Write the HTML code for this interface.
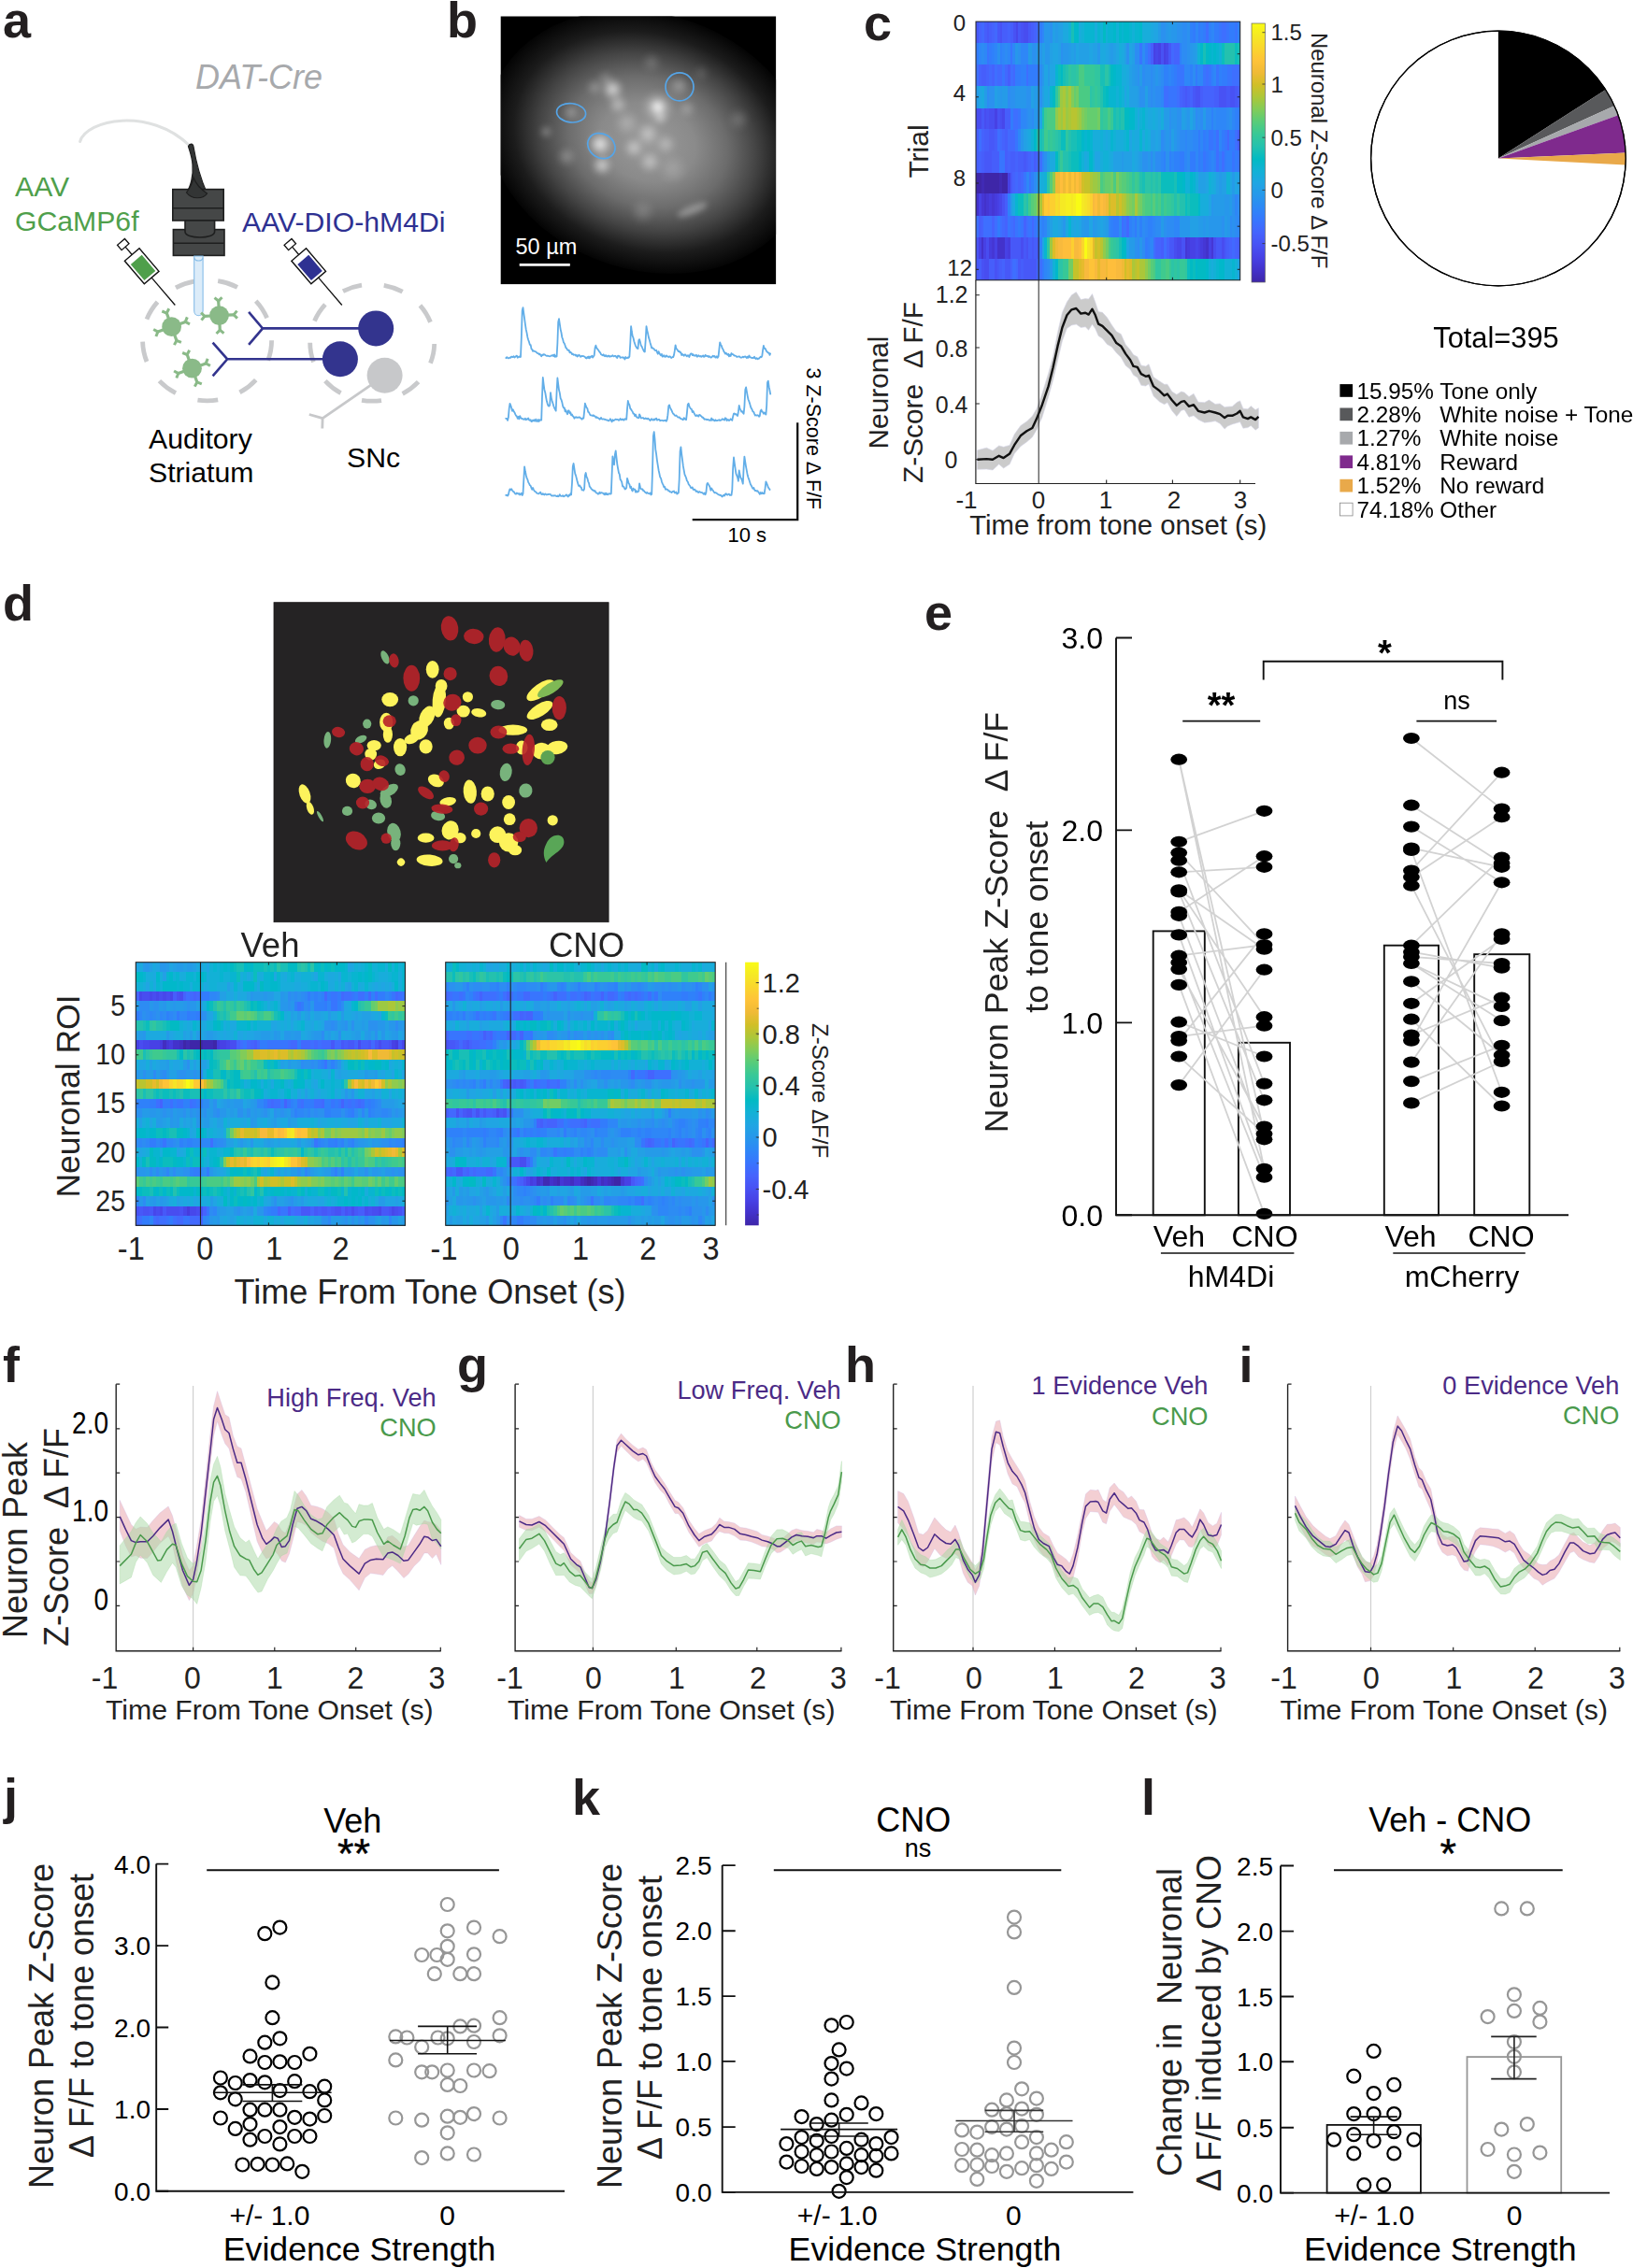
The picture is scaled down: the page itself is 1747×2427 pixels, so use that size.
<!DOCTYPE html>
<html><head><meta charset="utf-8"><title>Figure</title>
<style>
html,body{margin:0;padding:0;background:#fff;}
svg{display:block;}
svg text{font-family:"Liberation Sans",sans-serif;}
</style></head><body>
<svg width="1747" height="2427" viewBox="0 0 1747 2427">
<rect width="1747" height="2427" fill="#fff"/>
<g>
<text x="3" y="40" font-size="54" font-weight="bold" fill="#231f20">a</text><text x="209" y="95" font-size="36" font-style="italic" fill="#a7a9ac">DAT-Cre</text><text x="16" y="210" font-size="30.2" fill="#4f9f4b">AAV</text><text x="16" y="247" font-size="30.2" fill="#4f9f4b">GCaMP6f</text><text x="259" y="248" font-size="30.2" fill="#2e3192">AAV-DIO-hM4Di</text><text x="159" y="480" font-size="30.2" fill="#000">Auditory</text><text x="159" y="516" font-size="30.2" fill="#000">Striatum</text><text x="371" y="500" font-size="30.2" fill="#000">SNc</text><ellipse cx="221.6" cy="364.3" rx="69" ry="64.5" fill="none" stroke="#c9cacc" stroke-width="4.8" pathLength="9" stroke-dasharray="0.47 0.53" stroke-dashoffset="0"/><ellipse cx="398.2" cy="366.7" rx="66.5" ry="62.5" fill="none" stroke="#c9cacc" stroke-width="4.8" pathLength="9" stroke-dasharray="0.47 0.53" stroke-dashoffset="-0.03"/><path d="M85.6 151.5C92 128 160 114 203 156" fill="none" stroke="#dfe1e1" stroke-width="3" stroke-linecap="round"/><path d="M201.5 156.5C203 153 206.5 153.5 207 157C210 175 214 190 221.5 207C218 213 205 214 199.5 206C204 200 207 188 206 176C205.5 168 203 162 201.5 156.5z" fill="#333535" stroke="#1e1e1e" stroke-width="1.2"/><rect x="184.8" y="202.6" width="54.4" height="33.4" fill="#454747" stroke="#1e1f1f" stroke-width="1.6"/><path d="M184.8 222.7H239.2" stroke="#1e1f1f" stroke-width="1.6"/><rect x="185.4" y="245.6" width="54.6" height="27.8" fill="#454747" stroke="#1e1f1f" stroke-width="1.6"/><path d="M198 236V248C198 256 229.6 256 229.6 248V236z" fill="#454747" stroke="#1e1f1f" stroke-width="1.6"/><path d="M185.4 260.3H240" stroke="#1e1f1f" stroke-width="1.6"/><path d="M207 190C210 198 214 202 221.5 207C218 213 205 214 199.5 206C204 200 206 196 207 190z" fill="#333535" stroke="#1e1e1e" stroke-width="1.2"/><path d="M207.7 274V332.5C207.7 339.5 217.1 339.5 217.1 332.5V274z" fill="#dcecf9" stroke="#86bde8" stroke-width="1.1"/><path d="M207.7 276C209 280 216 280 217.1 276" fill="none" stroke="#86bde8" stroke-width="1.1"/><g transform="translate(151.6 284.7) rotate(-40.5)"><rect x="-5.2" y="-34" width="10.4" height="7" fill="#fff" stroke="#111" stroke-width="1.3"/><path d="M0 -27V-16" stroke="#111" stroke-width="1.3"/><rect x="-10.3" y="-16" width="20.6" height="32.3" fill="#fff" stroke="#111" stroke-width="1.4"/><rect x="-7.8" y="-9" width="15.6" height="22.5" fill="#4f9f4b"/><path d="M0 16.3V55" stroke="#111" stroke-width="1.3"/></g><g transform="translate(330.1 284.7) rotate(-40.5)"><rect x="-5.2" y="-34" width="10.4" height="7" fill="#fff" stroke="#111" stroke-width="1.3"/><path d="M0 -27V-16" stroke="#111" stroke-width="1.3"/><rect x="-10.3" y="-16" width="20.6" height="32.3" fill="#fff" stroke="#111" stroke-width="1.4"/><rect x="-7.8" y="-9" width="15.6" height="22.5" fill="#2e3192"/><path d="M0 16.3V55" stroke="#111" stroke-width="1.3"/></g><g fill="#8aba88" stroke="#8aba88" stroke-linecap="butt"><circle cx="183.6" cy="349.7" r="10.4" stroke="none"/><path d="M191.4 346.9L198.3 344.4" stroke-width="3.2" fill="none"/><path d="M198 345.1L200.3 339.4" stroke-width="3" fill="none"/><path d="M197.6 344L203 346.9" stroke-width="3" fill="none"/><path d="M186.4 357.5L188.9 364.4" stroke-width="3.2" fill="none"/><path d="M188.2 364.1L193.9 366.4" stroke-width="3" fill="none"/><path d="M189.3 363.7L186.4 369.1" stroke-width="3" fill="none"/><path d="M175.8 352.5L168.9 355" stroke-width="3.2" fill="none"/><path d="M169.2 354.3L166.9 360" stroke-width="3" fill="none"/><path d="M169.6 355.4L164.2 352.5" stroke-width="3" fill="none"/><path d="M180.8 341.9L178.3 335" stroke-width="3.2" fill="none"/><path d="M179 335.3L173.3 333" stroke-width="3" fill="none"/><path d="M177.9 335.7L180.8 330.3" stroke-width="3" fill="none"/></g><g fill="#8aba88" stroke="#8aba88" stroke-linecap="butt"><circle cx="234.5" cy="337.6" r="10.4" stroke="none"/><path d="M242.8 337.2L250.1 336.8" stroke-width="3.2" fill="none"/><path d="M249.6 337.4L253.5 332.6" stroke-width="3" fill="none"/><path d="M249.5 336.2L253.9 340.6" stroke-width="3" fill="none"/><path d="M234.9 345.9L235.3 353.2" stroke-width="3.2" fill="none"/><path d="M234.7 352.7L239.5 356.6" stroke-width="3" fill="none"/><path d="M235.9 352.6L231.5 357" stroke-width="3" fill="none"/><path d="M226.2 338L218.9 338.4" stroke-width="3.2" fill="none"/><path d="M219.4 337.8L215.5 342.6" stroke-width="3" fill="none"/><path d="M219.5 339L215.1 334.6" stroke-width="3" fill="none"/><path d="M234.1 329.3L233.7 322" stroke-width="3.2" fill="none"/><path d="M234.3 322.5L229.5 318.6" stroke-width="3" fill="none"/><path d="M233.1 322.6L237.5 318.2" stroke-width="3" fill="none"/></g><g fill="#8aba88" stroke="#8aba88" stroke-linecap="butt"><circle cx="205.5" cy="394.2" r="10.4" stroke="none"/><path d="M213.3 391.4L220.2 388.9" stroke-width="3.2" fill="none"/><path d="M219.9 389.6L222.2 383.9" stroke-width="3" fill="none"/><path d="M219.5 388.5L224.9 391.4" stroke-width="3" fill="none"/><path d="M208.3 402L210.8 408.9" stroke-width="3.2" fill="none"/><path d="M210.1 408.6L215.8 410.9" stroke-width="3" fill="none"/><path d="M211.2 408.2L208.3 413.6" stroke-width="3" fill="none"/><path d="M197.7 397L190.8 399.5" stroke-width="3.2" fill="none"/><path d="M191.1 398.8L188.8 404.5" stroke-width="3" fill="none"/><path d="M191.5 399.9L186.1 397" stroke-width="3" fill="none"/><path d="M202.7 386.4L200.2 379.5" stroke-width="3.2" fill="none"/><path d="M200.9 379.8L195.2 377.5" stroke-width="3" fill="none"/><path d="M199.8 380.2L202.7 374.8" stroke-width="3" fill="none"/></g><g stroke="#33348e" stroke-width="2.6" fill="none"><path d="M266.1 333.9L281 351.4L266.1 368.9M281 351.4H402"/><path d="M227.6 366.7L243.2 384.3L227.6 402.3M243.2 384.3H348"/></g><circle cx="402.2" cy="351.4" r="19" fill="#33348e"/><circle cx="363.9" cy="384.3" r="19" fill="#33348e"/><g stroke="#c7c8ca" stroke-width="2.8" fill="none"><path d="M411.6 401.8L345.1 447.6M330.8 443.5L345.1 447.6L344.8 458.5"/></g><circle cx="411.6" cy="401.8" r="19" fill="#c7c8ca"/>
</g>
<g>
<text x="478" y="40" font-size="54" font-weight="bold" fill="#231f20">b</text><defs><clipPath id="bclip"><rect x="535.7" y="17.5" width="294.4" height="286.6"/></clipPath><radialGradient id="bg1"><stop offset="0" stop-color="#9a9a9a"/><stop offset="0.3" stop-color="#8a8a8a"/><stop offset="0.5" stop-color="#6c6c6c"/><stop offset="0.68" stop-color="#444"/><stop offset="0.84" stop-color="#1c1c1c"/><stop offset="1" stop-color="#040404"/></radialGradient><radialGradient id="bb"><stop offset="0" stop-color="#fff" stop-opacity="1"/><stop offset="0.5" stop-color="#fff" stop-opacity="0.45"/><stop offset="1" stop-color="#fff" stop-opacity="0"/></radialGradient><filter id="bblur" x="-20%" y="-20%" width="140%" height="140%"><feGaussianBlur stdDeviation="3"/></filter></defs><rect x="535.7" y="17.5" width="294.4" height="286.6" fill="#000"/><g clip-path="url(#bclip)"><ellipse cx="693" cy="152" rx="174" ry="137" fill="url(#bg1)" transform="rotate(18 693 152)"/><g filter="url(#bblur)"><circle cx="655.3" cy="95.4" r="12.3" fill="url(#bb)" opacity="0.8"/><circle cx="661" cy="111.6" r="10.8" fill="url(#bb)" opacity="0.5"/><circle cx="642" cy="154.3" r="12.8" fill="url(#bb)" opacity="0.9"/><circle cx="643.9" cy="177" r="11.3" fill="url(#bb)" opacity="0.7"/><circle cx="703.7" cy="114.4" r="9.2" fill="url(#bb)" opacity="1.0"/><circle cx="703.7" cy="114.4" r="17.9" fill="url(#bb)" opacity="0.5"/><circle cx="706.5" cy="125.8" r="8.2" fill="url(#bb)" opacity="0.55"/><circle cx="693.2" cy="142.9" r="12.8" fill="url(#bb)" opacity="0.5"/><circle cx="678.1" cy="158.1" r="11.3" fill="url(#bb)" opacity="0.55"/><circle cx="695.1" cy="173.2" r="12.3" fill="url(#bb)" opacity="0.5"/><circle cx="712.2" cy="154.3" r="11.3" fill="url(#bb)" opacity="0.4"/><circle cx="726.5" cy="91.6" r="11.3" fill="url(#bb)" opacity="0.35"/><circle cx="610.7" cy="120.1" r="9.2" fill="url(#bb)" opacity="0.35"/><circle cx="584.1" cy="141" r="7.7" fill="url(#bb)" opacity="0.38"/><circle cx="605.9" cy="167.6" r="10.8" fill="url(#bb)" opacity="0.3"/><circle cx="636.3" cy="93.5" r="9.7" fill="url(#bb)" opacity="0.3"/><circle cx="697" cy="66.9" r="11.3" fill="url(#bb)" opacity="0.2"/><circle cx="735" cy="116.3" r="9.7" fill="url(#bb)" opacity="0.3"/><circle cx="790.1" cy="127.7" r="12.3" fill="url(#bb)" opacity="0.2"/><circle cx="687.6" cy="226.4" r="14.1" fill="url(#bb)" opacity="0.2"/><circle cx="670.5" cy="131.5" r="14.1" fill="url(#bb)" opacity="0.3"/><circle cx="719.8" cy="180.8" r="16.7" fill="url(#bb)" opacity="0.2"/><circle cx="750.2" cy="78.3" r="9.2" fill="url(#bb)" opacity="0.15"/><circle cx="647.7" cy="84" r="9.2" fill="url(#bb)" opacity="0.25"/><ellipse cx="740.7" cy="224.5" rx="17" ry="4.5" fill="#fff" opacity="0.32" transform="rotate(-22 740.7 224.5)"/></g></g><ellipse cx="727" cy="92.9" rx="15" ry="15" fill="none" stroke="#55a5e8" stroke-width="1.7" transform="rotate(0 727 92.9)"/><ellipse cx="611.1" cy="120.8" rx="15.6" ry="10.1" fill="none" stroke="#55a5e8" stroke-width="1.7" transform="rotate(6 611.1 120.8)"/><ellipse cx="643.4" cy="156.1" rx="15.3" ry="12.8" fill="none" stroke="#55a5e8" stroke-width="1.7" transform="rotate(32 643.4 156.1)"/><path d="M555.7 283.4H609.8" stroke="#fff" stroke-width="2.8"/><text x="551.5" y="272" font-size="23.5" fill="#fff">50 µm</text><path d="M540.6 383.5L541.4 383.1L542.3 382.2L543.1 383L543.9 383.4L544.7 383.1L545.5 382.6L546.4 382.8L547.2 381.6L548 382L548.8 382L549.6 381.3L550.5 382.5L551.3 381.9L552.1 381L552.9 380.7L553.7 382.7L554.6 382L555.4 381.4L556.2 382.2L557 382L557.8 361.8L558.7 332.2L559.5 329.1L560.3 335.1L561.1 340.9L561.9 346.9L562.8 352.9L563.6 356.4L564.4 360.9L565.2 363.7L566 365.9L566.9 369L567.7 369.2L568.5 373.4L569.3 373.9L570.1 375.8L571 375.4L571.8 376L572.6 376.2L573.4 376.5L574.2 377.3L575.1 378.1L575.9 378.1L576.7 379.3L577.5 378.6L578.3 380L579.2 381.3L580 379.6L580.8 380.1L581.6 379.1L582.4 379.4L583.3 379.9L584.1 380.5L584.9 380.8L585.7 380.6L586.5 380.8L587.4 381.1L588.2 381.3L589 381L589.8 380.5L590.6 380.5L591.5 379.9L592.3 381.3L593.1 379.4L593.9 381.9L594.7 380.7L595.6 381.5L596.4 367.3L597.2 344.7L598 341.2L598.8 346.6L599.7 352.6L600.5 356L601.3 361L602.1 363L602.9 366.4L603.8 367.5L604.6 369.7L605.4 372.3L606.2 372.5L607 374.5L607.9 374.9L608.7 374.7L609.5 377.3L610.3 376.6L611.1 377.5L612 379.1L612.8 378.6L613.6 379.9L614.4 379.7L615.2 379.5L616.1 380.7L616.9 379.9L617.7 381.5L618.5 380.9L619.3 379.8L620.2 380.4L621 381.8L621.8 381.5L622.6 380.8L623.4 381.1L624.3 381.1L625.1 381.6L625.9 382L626.7 383.1L627.5 383.5L628.4 382L629.2 383L630 381.5L630.8 383.4L631.6 381.7L632.5 381.9L633.3 380.8L634.1 382.6L634.9 381.4L635.7 380.2L636.6 372.1L637.4 369.7L638.2 372.3L639 373.2L639.8 374.2L640.7 375.6L641.5 376.6L642.3 377.6L643.1 379.3L643.9 379.8L644.7 380.3L645.6 379.3L646.4 380.7L647.2 381.2L648 380.1L648.8 381.3L649.7 381.7L650.5 380.6L651.3 380.6L652.1 381.7L652.9 381.1L653.8 381.4L654.6 380.9L655.4 380.3L656.2 381.3L657 381.3L657.9 380.8L658.7 380.8L659.5 382.4L660.3 383L661.1 380.6L662 381L662.8 381.1L663.6 382.9L664.4 382.5L665.2 382.3L666.1 382.8L666.9 382.4L667.7 383.4L668.5 384.5L669.3 382L670.2 383.2L671 383.2L671.8 382.5L672.6 382.9L673.4 381.5L674.3 367.1L675.1 349.1L675.9 355L676.7 359.7L677.5 361.5L678.4 365.5L679.2 367.9L680 370.1L680.8 371.6L681.6 372.7L682.5 373.1L683.3 364.1L684.1 363.2L684.9 365.9L685.7 369.6L686.6 370.7L687.4 372.8L688.2 374.4L689 376.1L689.8 376.6L690.7 363.7L691.5 349.2L692.3 353.6L693.1 356.8L693.9 360.9L694.8 363.7L695.6 366.9L696.4 369.5L697.2 372.5L698 372.1L698.9 373L699.7 373.3L700.5 374.8L701.3 375.2L702.1 374.7L703 377L703.8 378.7L704.6 376.2L705.4 378L706.2 379.4L707.1 380.4L707.9 378.9L708.7 381.7L709.5 381L710.3 380.2L711.2 381.8L712 381.8L712.8 380.4L713.6 381.3L714.4 381.4L715.3 382.2L716.1 381.4L716.9 381.5L717.7 382.6L718.5 383L719.4 382L720.2 382.2L721 379.9L721.8 375.4L722.6 369.3L723.5 373.3L724.3 373.8L725.1 375.1L725.9 376.1L726.7 375.8L727.6 377.3L728.4 377.1L729.2 380.1L730 378.9L730.8 379.6L731.7 380.8L732.5 379.4L733.3 379.4L734.1 380.6L734.9 381.3L735.8 380.2L736.6 380.5L737.4 382L738.2 379.6L739 378.4L739.9 378.4L740.7 380.1L741.5 379.1L742.3 380.6L743.1 380.5L744 380.7L744.8 379.7L745.6 381.6L746.4 381.5L747.2 380.2L748.1 381.1L748.9 381.6L749.7 381L750.5 381.8L751.3 381.3L752.2 380.4L753 381.9L753.8 381.5L754.6 379.9L755.4 380.9L756.3 381.1L757.1 380.8L757.9 382.1L758.7 381.2L759.5 381.6L760.4 382.7L761.2 382.5L762 381.5L762.8 380.8L763.6 381.5L764.5 381L765.3 382.5L766.1 382.6L766.9 381.3L767.7 382.8L768.6 381.2L769.4 373.5L770.2 366.4L771 368.6L771.8 369.9L772.7 372.7L773.5 373.8L774.3 375.9L775.1 377.1L775.9 378.6L776.8 377.6L777.6 379.1L778.4 379.7L779.2 378.7L780 381.4L780.9 379.6L781.7 381L782.5 378L783.3 379.1L784.1 379.2L785 380L785.8 380.7L786.6 380.7L787.4 381L788.2 382L789.1 381.6L789.9 381.6L790.7 381.3L791.5 381.8L792.3 382.6L793.2 382.6L794 382.3L794.8 381.6L795.6 382.3L796.4 381.6L797.3 381.5L798.1 382.2L798.9 383L799.7 381.7L800.5 382.8L801.4 380.5L802.2 382.2L803 382.5L803.8 382.6L804.6 383.2L805.4 382.7L806.3 383.1L807.1 381.8L807.9 383.3L808.7 384L809.5 383.1L810.4 384.3L811.2 383.6L812 383.8L812.8 382.8L813.6 381.8L814.5 382.3L815.3 380.9L816.1 374.6L816.9 369.9L817.7 372.9L818.6 373L819.4 374.5L820.2 376.1L821 376.8L821.8 377.5L822.7 377.6L823.5 379.9L824.3 377.6" fill="none" stroke="#62aee8" stroke-width="1.8" stroke-linejoin="round"/><path d="M540.6 448.4L541.4 447.8L542.3 447.8L543.1 449.9L543.9 446.6L544.7 437.2L545.5 431.9L546.4 433.9L547.2 436.6L548 439.9L548.8 438.3L549.6 440L550.5 441.4L551.3 443.4L552.1 444.8L552.9 445.5L553.7 447.8L554.6 445.9L555.4 448.4L556.2 445.1L557 446.9L557.8 447.8L558.7 447.9L559.5 448.7L560.3 448.4L561.1 448.9L561.9 447.8L562.8 449.3L563.6 448.4L564.4 448.7L565.2 447.4L566 449.5L566.9 449.8L567.7 449.2L568.5 451.1L569.3 450.8L570.1 449.5L571 450.5L571.8 449.2L572.6 450.5L573.4 448.6L574.2 450.9L575.1 450.9L575.9 449L576.7 451L577.5 449.2L578.3 449.7L579.2 449.6L580 424.4L580.8 404L581.6 411L582.4 416.9L583.3 420.2L584.1 425L584.9 429.3L585.7 432.1L586.5 434.1L587.4 434.6L588.2 433.5L589 420.1L589.8 425.6L590.6 428.9L591.5 431.8L592.3 434.6L593.1 436.5L593.9 438.1L594.7 439.6L595.6 419L596.4 404.5L597.2 411.2L598 417.3L598.8 420.4L599.7 426.4L600.5 427.8L601.3 430.4L602.1 434.4L602.9 436.4L603.8 436.3L604.6 440.3L605.4 439L606.2 441.3L607 443.2L607.9 439.5L608.7 439.4L609.5 442.3L610.3 441.2L611.1 444.3L612 443.5L612.8 445.4L613.6 445.8L614.4 447.7L615.2 446.8L616.1 446.1L616.9 446.9L617.7 446.6L618.5 446.9L619.3 446.5L620.2 446.4L621 447.6L621.8 447.7L622.6 448.7L623.4 447.5L624.3 447.7L625.1 440.3L625.9 431.7L626.7 434.2L627.5 436.2L628.4 437.1L629.2 440.9L630 441.1L630.8 442.9L631.6 444.4L632.5 444.4L633.3 444.7L634.1 445L634.9 444.3L635.7 445.1L636.6 445.4L637.4 446.9L638.2 446.1L639 447.1L639.8 447.2L640.7 447.8L641.5 448.8L642.3 448L643.1 446.9L643.9 448.4L644.7 448.7L645.6 448.3L646.4 448.8L647.2 448.7L648 449.2L648.8 449.5L649.7 449.4L650.5 450.2L651.3 450.4L652.1 449.6L652.9 448.2L653.8 449.9L654.6 451.4L655.4 449.2L656.2 450.1L657 449.8L657.9 449.1L658.7 448.6L659.5 449L660.3 448.8L661.1 449L662 449.9L662.8 449L663.6 448L664.4 449.3L665.2 449.1L666.1 448.4L666.9 449.6L667.7 449.6L668.5 448.1L669.3 448.7L670.2 448.9L671 437.9L671.8 429L672.6 431.9L673.4 433.3L674.3 437.3L675.1 438L675.9 439.5L676.7 440.5L677.5 442.7L678.4 442.7L679.2 445.2L680 443.6L680.8 445.9L681.6 446.8L682.5 447.2L683.3 447.3L684.1 443.3L684.9 445L685.7 447.4L686.6 447.4L687.4 447.2L688.2 447.1L689 448.2L689.8 448.2L690.7 447.4L691.5 448L692.3 448.5L693.1 447.6L693.9 448.3L694.8 449.4L695.6 450.1L696.4 448.7L697.2 448.1L698 449.4L698.9 449.7L699.7 448.5L700.5 449.3L701.3 448.2L702.1 447.6L703 449.6L703.8 449.4L704.6 448.8L705.4 448.8L706.2 450.3L707.1 449.8L707.9 449.9L708.7 449.8L709.5 450.4L710.3 450.2L711.2 450L712 449.6L712.8 450.7L713.6 449.4L714.4 444.2L715.3 434.3L716.1 433.4L716.9 436L717.7 437.8L718.5 439.2L719.4 441.4L720.2 442.7L721 443.2L721.8 444.5L722.6 444.9L723.5 444.5L724.3 445.5L725.1 446.4L725.9 446.7L726.7 446.4L727.6 447.6L728.4 447.9L729.2 448.4L730 448.8L730.8 449.3L731.7 447.1L732.5 447.9L733.3 448.8L734.1 449.1L734.9 442.1L735.8 432.7L736.6 431.7L737.4 434.6L738.2 436.1L739 437.5L739.9 437.9L740.7 441L741.5 439.9L742.3 441.7L743.1 443.2L744 444.9L744.8 445.1L745.6 444.1L746.4 444.9L747.2 445.7L748.1 443.8L748.9 444L749.7 445.1L750.5 445.6L751.3 446.8L752.2 446.7L753 448L753.8 448.8L754.6 448.5L755.4 448.7L756.3 449.4L757.1 448.8L757.9 449L758.7 449.9L759.5 449.5L760.4 449.9L761.2 447.5L762 449.7L762.8 448.7L763.6 449.7L764.5 450.4L765.3 449.2L766.1 450.1L766.9 450.1L767.7 449.8L768.6 449.7L769.4 449.2L770.2 450L771 449.6L771.8 449.5L772.7 448.3L773.5 448.9L774.3 448.7L775.1 449.6L775.9 447.3L776.8 447.7L777.6 450.1L778.4 449L779.2 449.2L780 450.1L780.9 449.3L781.7 448.2L782.5 449.3L783.3 449.9L784.1 445.9L785 442.6L785.8 442.5L786.6 443.4L787.4 443.1L788.2 444.2L789.1 445L789.9 440.7L790.7 434L791.5 437.3L792.3 438.6L793.2 440.6L794 440.1L794.8 441.7L795.6 442.8L796.4 435L797.3 417L798.1 414.4L798.9 419.1L799.7 423.6L800.5 427.5L801.4 429.7L802.2 432.1L803 435.2L803.8 437.1L804.6 438.3L805.4 440.5L806.3 440.8L807.1 442.8L807.9 444.5L808.7 444.3L809.5 444.6L810.4 444.2L811.2 444.6L812 445.9L812.8 445.1L813.6 439.8L814.5 438.5L815.3 440.6L816.1 441.1L816.9 442.7L817.7 441.4L818.6 442.6L819.4 443.6L820.2 433.7L821 409.4L821.8 407.6L822.7 414.2L823.5 418L824.3 422.4" fill="none" stroke="#62aee8" stroke-width="1.8" stroke-linejoin="round"/><path d="M540.6 530.5L541.4 529.9L542.3 529.7L543.1 530.5L543.9 529.4L544.7 525.6L545.5 523.4L546.4 524.4L547.2 523.3L548 524.7L548.8 525.8L549.6 526.1L550.5 527.4L551.3 528.6L552.1 528.7L552.9 527.5L553.7 528.1L554.6 528.7L555.4 528L556.2 529.5L557 528.8L557.8 527.8L558.7 530L559.5 528.4L560.3 513.8L561.1 499.5L561.9 504.3L562.8 508.5L563.6 511.7L564.4 513.2L565.2 516.1L566 517.4L566.9 519.3L567.7 519.9L568.5 522.3L569.3 523.9L570.1 522L571 524.1L571.8 525.6L572.6 525.9L573.4 526.6L574.2 527.6L575.1 528L575.9 528.3L576.7 528.3L577.5 527.1L578.3 526.8L579.2 528.9L580 529.1L580.8 528.2L581.6 529L582.4 529.5L583.3 528.4L584.1 529.1L584.9 529.6L585.7 529.1L586.5 529L587.4 528.9L588.2 528.8L589 529L589.8 530.2L590.6 530.7L591.5 530.2L592.3 530.6L593.1 530.3L593.9 530.2L594.7 530.8L595.6 531.2L596.4 530.5L597.2 531.3L598 530.8L598.8 529.1L599.7 530.7L600.5 530.8L601.3 530.9L602.1 530.1L602.9 531.4L603.8 530.8L604.6 530.7L605.4 529.6L606.2 529.4L607 530.8L607.9 531.5L608.7 529.7L609.5 530.3L610.3 528.3L611.1 529.4L612 516.8L612.8 499.3L613.6 496L614.4 501.3L615.2 506.6L616.1 509.1L616.9 512.2L617.7 515.6L618.5 518.3L619.3 520L620.2 519.5L621 521.2L621.8 521.6L622.6 524.4L623.4 524.4L624.3 524.8L625.1 523.2L625.9 508.8L626.7 506L627.5 510.3L628.4 511.9L629.2 515.3L630 516.9L630.8 520.7L631.6 521.4L632.5 523.2L633.3 523.6L634.1 524.6L634.9 524.6L635.7 525.6L636.6 525.2L637.4 526.8L638.2 527.6L639 527.7L639.8 528.8L640.7 528.4L641.5 526.7L642.3 527.9L643.1 527.1L643.9 527.3L644.7 527.6L645.6 528.2L646.4 529.2L647.2 527.7L648 529.3L648.8 527.8L649.7 529.2L650.5 529.4L651.3 528.1L652.1 528.2L652.9 528.6L653.8 528.3L654.6 508.6L655.4 488.3L656.2 493.9L657 497.4L657.9 486.5L658.7 482.4L659.5 489.7L660.3 496.6L661.1 501.3L662 506L662.8 507.6L663.6 513.1L664.4 514.1L665.2 515.8L666.1 520.5L666.9 520.4L667.7 521.6L668.5 523.5L669.3 523.3L670.2 522L671 511.9L671.8 514.3L672.6 517.2L673.4 518.2L674.3 522L675.1 520.8L675.9 524.2L676.7 525.5L677.5 522.7L678.4 523.8L679.2 523.7L680 526.7L680.8 525.3L681.6 526.6L682.5 526.2L683.3 525.6L684.1 517.4L684.9 521.3L685.7 523.1L686.6 523.7L687.4 523.4L688.2 525.2L689 525.2L689.8 526.4L690.7 527L691.5 527.7L692.3 527L693.1 527.7L693.9 528.1L694.8 528.3L695.6 527.5L696.4 529.5L697.2 528.8L698 504.4L698.9 466.6L699.7 462.1L700.5 469.6L701.3 480.9L702.1 485.9L703 493.1L703.8 498.1L704.6 503.2L705.4 506.8L706.2 510.6L707.1 511.9L707.9 515.3L708.7 517.3L709.5 518.9L710.3 521.3L711.2 520.9L712 523.8L712.8 523.3L713.6 523.7L714.4 524.1L715.3 525.4L716.1 525.4L716.9 526.4L717.7 526.4L718.5 527.1L719.4 526.1L720.2 525.8L721 525.5L721.8 527.4L722.6 527.3L723.5 526.5L724.3 528.6L725.1 528L725.9 527.3L726.7 512.7L727.6 482.9L728.4 478.3L729.2 485.8L730 491.8L730.8 498.4L731.7 503.4L732.5 507.9L733.3 509.5L734.1 511.5L734.9 514.5L735.8 515.5L736.6 517.9L737.4 519.1L738.2 520L739 522L739.9 522.2L740.7 521.4L741.5 523.8L742.3 524.1L743.1 523.6L744 524.8L744.8 526.1L745.6 525.4L746.4 526.3L747.2 527.1L748.1 526L748.9 526.6L749.7 526.9L750.5 527.2L751.3 527.2L752.2 528.1L753 528.9L753.8 527.5L754.6 529.2L755.4 526.9L756.3 518L757.1 516.9L757.9 518.4L758.7 519.6L759.5 521.4L760.4 524.8L761.2 522.5L762 524L762.8 524.9L763.6 526.2L764.5 527.4L765.3 527.2L766.1 527.4L766.9 528L767.7 528.6L768.6 529.4L769.4 529.4L770.2 530L771 529.7L771.8 530.8L772.7 531.5L773.5 530.4L774.3 529.7L775.1 530.5L775.9 528.8L776.8 528.2L777.6 529.4L778.4 529.5L779.2 528.9L780 528.7L780.9 530L781.7 529.7L782.5 529.8L783.3 524.1L784.1 501.9L785 489.5L785.8 495.5L786.6 501.3L787.4 506.8L788.2 508.7L789.1 511.1L789.9 514.8L790.7 503.5L791.5 507.5L792.3 511.2L793.2 512.4L794 514.7L794.8 517.7L795.6 500.9L796.4 488.6L797.3 494.7L798.1 499.6L798.9 503.8L799.7 508.3L800.5 511.1L801.4 513.4L802.2 515.9L803 518.5L803.8 519.6L804.6 521.3L805.4 522.9L806.3 521.9L807.1 524L807.9 525.2L808.7 524.9L809.5 525.6L810.4 525.1L811.2 526.4L812 527.3L812.8 528.9L813.6 527L814.5 528.2L815.3 526.9L816.1 528.2L816.9 527.7L817.7 528.2L818.6 522.2L819.4 515.4L820.2 517.1L821 519L821.8 521.6L822.7 522.6L823.5 524L824.3 524.4" fill="none" stroke="#62aee8" stroke-width="1.8" stroke-linejoin="round"/><path d="M740.7 556.2H853.2V452.3" fill="none" stroke="#111" stroke-width="2.3"/><text x="778.4" y="580" font-size="22" fill="#000">10 s</text><text transform="translate(862.5 393.5) rotate(90)" font-size="21.5" fill="#000">3 Z-Score Δ F/F</text>
</g>
<g>
<text x="924" y="42.5" font-size="54" font-weight="bold" fill="#231f20">c</text><g shape-rendering="crispEdges"><path fill="#3e26a8" d="M1043.8 184.4H1049.8V207.7H1043.8zM1052.3 184.4H1069.6V207.7H1052.3zM1072.1 184.4H1078.1V207.7H1072.1z"/>
<path fill="#402ab4" d="M1049.5 184.4H1052.6V207.7H1049.5zM1069.3 184.4H1072.4V207.7H1069.3z"/>
<path fill="#4332cb" d="M1043.8 207.4H1047V230.8H1043.8zM1052.3 207.4H1055.5V230.8H1052.3zM1049.5 253.5H1052.6V276.9H1049.5zM1066.5 253.5H1075.2V276.9H1066.5zM1289.8 253.5H1292.9V276.9H1289.8z"/>
<path fill="#4537d5" d="M1049.5 207.4H1052.6V230.8H1049.5zM1055.2 207.4H1058.3V230.8H1055.2zM1060.8 207.4H1063.9V230.8H1060.8zM1060.8 253.5H1063.9V276.9H1060.8zM1267.2 253.5H1270.3V276.9H1267.2zM1287 253.5H1290.1V276.9H1287zM1295.5 253.5H1298.6V276.9H1295.5z"/>
<path fill="#463cde" d="M1058 207.4H1061.1V230.8H1058zM1063.6 207.4H1066.8V230.8H1063.6zM1058 253.5H1061.1V276.9H1058zM1077.8 253.5H1080.9V276.9H1077.8zM1270 253.5H1273.1V276.9H1270zM1284.1 253.5H1287.3V276.9H1284.1z"/>
<path fill="#4741e5" d="M1233.3 46H1236.4V69.4H1233.3zM1238.9 46H1242V69.4H1238.9zM1244.6 46H1247.7V69.4H1244.6zM1063.6 115.2H1066.8V138.5H1063.6zM1077.8 184.4H1080.9V207.7H1077.8zM1046.7 207.4H1049.8V230.8H1046.7zM1066.5 207.4H1069.6V230.8H1066.5zM1046.7 253.5H1049.8V276.9H1046.7zM1052.3 253.5H1055.5V276.9H1052.3zM1063.6 253.5H1066.8V276.9H1063.6zM1074.9 253.5H1078.1V276.9H1074.9zM1272.8 253.5H1278.8V276.9H1272.8zM1281.3 253.5H1284.4V276.9H1281.3zM1292.6 253.5H1295.8V276.9H1292.6z"/>
<path fill="#4747eb" d="M1086.3 23H1089.4V46.3H1086.3zM1236.1 46H1239.2V69.4H1236.1zM1247.4 46H1250.5V69.4H1247.4zM1072.1 115.2H1075.2V138.5H1072.1zM1069.3 207.4H1072.4V230.8H1069.3zM1258.7 253.5H1264.7V276.9H1258.7zM1278.5 253.5H1281.6V276.9H1278.5z"/>
<path fill="#484df0" d="M1094.7 23H1100.7V46.3H1094.7zM1043.8 115.2H1049.8V138.5H1043.8zM1052.3 115.2H1055.5V138.5H1052.3zM1058 115.2H1063.9V138.5H1058zM1069.3 115.2H1072.4V138.5H1069.3zM1055.2 253.5H1058.3V276.9H1055.2zM1091.9 253.5H1095V276.9H1091.9zM1255.9 253.5H1259V276.9H1255.9zM1298.3 253.5H1301.4V276.9H1298.3zM1306.8 253.5H1309.9V276.9H1306.8zM1052.3 276.6H1058.3V299.9H1052.3z"/>
<path fill="#4852f4" d="M1069.3 23H1072.4V46.3H1069.3zM1083.4 23H1086.6V46.3H1083.4zM1091.9 23H1095V46.3H1091.9zM1241.7 46H1244.9V69.4H1241.7zM1278.5 92.1H1284.4V115.5H1278.5zM1303.9 92.1H1312.7V115.5H1303.9zM1315.2 92.1H1321.2V115.5H1315.2zM1055.2 115.2H1058.3V138.5H1055.2zM1066.5 115.2H1069.6V138.5H1066.5zM1072.1 207.4H1075.2V230.8H1072.1zM1043.8 253.5H1047V276.9H1043.8zM1097.6 253.5H1100.7V276.9H1097.6zM1264.4 253.5H1267.5V276.9H1264.4zM1049.5 276.6H1052.6V299.9H1049.5zM1063.6 276.6H1066.8V299.9H1063.6z"/>
<path fill="#4758f8" d="M1043.8 23H1047V46.3H1043.8zM1055.2 23H1058.3V46.3H1055.2zM1066.5 23H1069.6V46.3H1066.5zM1089.1 23H1092.2V46.3H1089.1zM1100.4 23H1103.5V46.3H1100.4zM1250.2 46H1253.3V69.4H1250.2zM1267.2 92.1H1270.3V115.5H1267.2zM1275.7 92.1H1278.8V115.5H1275.7zM1312.4 92.1H1315.5V115.5H1312.4zM1320.9 92.1H1324V115.5H1320.9zM1049.5 115.2H1052.6V138.5H1049.5zM1058 138.2H1063.9V161.6H1058zM1052.3 161.3H1061.1V184.7H1052.3zM1094.7 161.3H1097.9V184.7H1094.7zM1080.6 184.4H1083.7V207.7H1080.6zM1080.6 253.5H1092.2V276.9H1080.6zM1094.7 253.5H1097.9V276.9H1094.7zM1103.2 253.5H1106.3V276.9H1103.2zM1250.2 253.5H1256.2V276.9H1250.2zM1301.1 253.5H1307.1V276.9H1301.1zM1309.6 253.5H1312.7V276.9H1309.6zM1043.8 276.6H1047V299.9H1043.8zM1066.5 276.6H1069.6V299.9H1066.5zM1074.9 276.6H1080.9V299.9H1074.9zM1089.1 276.6H1092.2V299.9H1089.1zM1094.7 276.6H1109.2V299.9H1094.7z"/>
<path fill="#465efb" d="M1052.3 23H1055.5V46.3H1052.3zM1058 23H1061.1V46.3H1058zM1072.1 23H1078.1V46.3H1072.1zM1080.6 23H1083.7V46.3H1080.6zM1103.2 23H1106.3V46.3H1103.2zM1230.4 46H1233.6V69.4H1230.4zM1049.5 69.1H1055.5V92.4H1049.5zM1077.8 69.1H1080.9V92.4H1077.8zM1264.4 92.1H1267.5V115.5H1264.4zM1270 92.1H1273.1V115.5H1270zM1284.1 92.1H1287.3V115.5H1284.1zM1298.3 92.1H1304.2V115.5H1298.3zM1323.7 92.1H1326.9V115.5H1323.7zM1074.9 115.2H1080.9V138.5H1074.9zM1043.8 138.2H1047V161.6H1043.8zM1052.3 138.2H1058.3V161.6H1052.3zM1063.6 138.2H1066.8V161.6H1063.6zM1074.9 138.2H1078.1V161.6H1074.9zM1323.7 138.2H1326.9V161.6H1323.7zM1043.8 161.3H1047V184.7H1043.8zM1049.5 161.3H1052.6V184.7H1049.5zM1060.8 161.3H1069.6V184.7H1060.8zM1074.9 161.3H1078.1V184.7H1074.9zM1080.6 161.3H1086.6V184.7H1080.6zM1089.1 161.3H1095V184.7H1089.1zM1097.6 161.3H1100.7V184.7H1097.6zM1106 161.3H1109.2V184.7H1106zM1074.9 207.4H1078.1V230.8H1074.9zM1046.7 230.5H1049.8V253.8H1046.7zM1100.4 253.5H1103.5V276.9H1100.4zM1106 253.5H1112V276.9H1106zM1241.7 253.5H1244.9V276.9H1241.7zM1312.4 253.5H1315.5V276.9H1312.4zM1323.7 253.5H1326.9V276.9H1323.7zM1046.7 276.6H1049.8V299.9H1046.7zM1058 276.6H1063.9V299.9H1058zM1069.3 276.6H1072.4V299.9H1069.3zM1091.9 276.6H1095V299.9H1091.9z"/>
<path fill="#4563fd" d="M1046.7 23H1049.8V46.3H1046.7zM1060.8 23H1063.9V46.3H1060.8zM1077.8 23H1080.9V46.3H1077.8zM1106 23H1109.2V46.3H1106zM1255.9 46H1261.8V69.4H1255.9zM1046.7 69.1H1049.8V92.4H1046.7zM1055.2 69.1H1058.3V92.4H1055.2zM1060.8 69.1H1063.9V92.4H1060.8zM1261.5 92.1H1264.7V115.5H1261.5zM1272.8 92.1H1276V115.5H1272.8zM1287 92.1H1298.6V115.5H1287zM1049.5 138.2H1052.6V161.6H1049.5zM1072.1 138.2H1075.2V161.6H1072.1zM1046.7 161.3H1049.8V184.7H1046.7zM1077.8 161.3H1080.9V184.7H1077.8zM1086.3 161.3H1089.4V184.7H1086.3zM1100.4 161.3H1103.5V184.7H1100.4zM1083.4 184.4H1086.6V207.7H1083.4zM1089.1 184.4H1092.2V207.7H1089.1zM1049.5 230.5H1052.6V253.8H1049.5zM1060.8 230.5H1063.9V253.8H1060.8zM1074.9 230.5H1078.1V253.8H1074.9zM1094.7 230.5H1097.9V253.8H1094.7zM1236.1 253.5H1242V276.9H1236.1zM1247.4 253.5H1250.5V276.9H1247.4zM1315.2 253.5H1318.4V276.9H1315.2zM1320.9 253.5H1324V276.9H1320.9zM1072.1 276.6H1075.2V299.9H1072.1zM1080.6 276.6H1083.7V299.9H1080.6z"/>
<path fill="#4269fe" d="M1049.5 23H1052.6V46.3H1049.5zM1063.6 23H1066.8V46.3H1063.6zM1253 46H1256.2V69.4H1253zM1058 69.1H1061.1V92.4H1058zM1066.5 69.1H1072.4V92.4H1066.5zM1074.9 69.1H1078.1V92.4H1074.9zM1083.4 69.1H1086.6V92.4H1083.4zM1069.3 138.2H1072.4V161.6H1069.3zM1077.8 138.2H1086.6V161.6H1077.8zM1312.4 138.2H1315.5V161.6H1312.4zM1103.2 161.3H1106.3V184.7H1103.2zM1108.9 161.3H1112V184.7H1108.9zM1086.3 184.4H1089.4V207.7H1086.3zM1091.9 184.4H1095V207.7H1091.9zM1072.1 230.5H1075.2V253.8H1072.1zM1083.4 230.5H1086.6V253.8H1083.4zM1103.2 230.5H1106.3V253.8H1103.2zM1205 230.5H1208.1V253.8H1205zM1318.1 253.5H1321.2V276.9H1318.1zM1086.3 276.6H1089.4V299.9H1086.3zM1108.9 276.6H1112V299.9H1108.9z"/>
<path fill="#3e6fff" d="M1108.9 23H1112V46.3H1108.9zM1289.8 23H1292.9V46.3H1289.8zM1306.8 23H1312.7V46.3H1306.8zM1227.6 46H1230.7V69.4H1227.6zM1043.8 69.1H1047V92.4H1043.8zM1063.6 69.1H1066.8V92.4H1063.6zM1080.6 69.1H1083.7V92.4H1080.6zM1097.6 69.1H1100.7V92.4H1097.6zM1289.8 69.1H1292.9V92.4H1289.8zM1318.1 69.1H1326.9V92.4H1318.1zM1244.6 92.1H1250.5V115.5H1244.6zM1258.7 92.1H1261.8V115.5H1258.7zM1083.4 115.2H1089.4V138.5H1083.4zM1046.7 138.2H1049.8V161.6H1046.7zM1066.5 138.2H1069.6V161.6H1066.5zM1301.1 138.2H1304.2V161.6H1301.1zM1320.9 138.2H1324V161.6H1320.9zM1111.7 161.3H1114.8V184.7H1111.7zM1301.1 161.3H1304.2V184.7H1301.1zM1306.8 161.3H1309.9V184.7H1306.8zM1043.8 230.5H1047V253.8H1043.8zM1052.3 230.5H1061.1V253.8H1052.3zM1063.6 230.5H1066.8V253.8H1063.6zM1069.3 230.5H1072.4V253.8H1069.3zM1080.6 230.5H1083.7V253.8H1080.6zM1097.6 230.5H1100.7V253.8H1097.6zM1199.3 230.5H1202.5V253.8H1199.3zM1233.3 253.5H1236.4V276.9H1233.3zM1244.6 253.5H1247.7V276.9H1244.6zM1083.4 276.6H1086.6V299.9H1083.4zM1111.7 276.6H1114.8V299.9H1111.7z"/>
<path fill="#3875fe" d="M1303.9 23H1307.1V46.3H1303.9zM1312.4 23H1315.5V46.3H1312.4zM1320.9 23H1324V46.3H1320.9zM1055.2 46H1058.3V69.4H1055.2zM1080.6 46H1083.7V69.4H1080.6zM1219.1 46H1222.3V69.4H1219.1zM1072.1 69.1H1075.2V92.4H1072.1zM1258.7 69.1H1267.5V92.4H1258.7zM1287 69.1H1290.1V92.4H1287zM1292.6 69.1H1295.8V92.4H1292.6zM1301.1 69.1H1304.2V92.4H1301.1zM1312.4 69.1H1318.4V92.4H1312.4zM1250.2 92.1H1259V115.5H1250.2zM1089.1 115.2H1092.2V138.5H1089.1zM1086.3 138.2H1089.4V161.6H1086.3zM1292.6 138.2H1298.6V161.6H1292.6zM1309.6 138.2H1312.7V161.6H1309.6zM1069.3 161.3H1075.2V184.7H1069.3zM1287 161.3H1290.1V184.7H1287zM1318.1 161.3H1321.2V184.7H1318.1zM1323.7 161.3H1326.9V184.7H1323.7zM1094.7 184.4H1097.9V207.7H1094.7zM1100.4 184.4H1103.5V207.7H1100.4zM1077.8 230.5H1080.9V253.8H1077.8zM1086.3 230.5H1089.4V253.8H1086.3zM1091.9 230.5H1095V253.8H1091.9zM1100.4 230.5H1103.5V253.8H1100.4zM1106 230.5H1109.2V253.8H1106zM1202.2 230.5H1205.3V253.8H1202.2z"/>
<path fill="#327cfc" d="M1111.7 23H1114.8V46.3H1111.7zM1275.7 23H1278.8V46.3H1275.7zM1281.3 23H1284.4V46.3H1281.3zM1287 23H1290.1V46.3H1287zM1298.3 23H1304.2V46.3H1298.3zM1315.2 23H1321.2V46.3H1315.2zM1043.8 46H1047V69.4H1043.8zM1058 46H1061.1V69.4H1058zM1224.8 46H1227.9V69.4H1224.8zM1086.3 69.1H1092.2V92.4H1086.3zM1100.4 69.1H1112V92.4H1100.4zM1255.9 69.1H1259V92.4H1255.9zM1278.5 69.1H1281.6V92.4H1278.5zM1306.8 69.1H1312.7V92.4H1306.8zM1080.6 115.2H1083.7V138.5H1080.6zM1323.7 115.2H1326.9V138.5H1323.7zM1281.3 138.2H1284.4V161.6H1281.3zM1287 138.2H1290.1V161.6H1287zM1298.3 138.2H1301.4V161.6H1298.3zM1306.8 138.2H1309.9V161.6H1306.8zM1315.2 138.2H1321.2V161.6H1315.2zM1261.5 161.3H1267.5V184.7H1261.5zM1272.8 161.3H1278.8V184.7H1272.8zM1281.3 161.3H1284.4V184.7H1281.3zM1289.8 161.3H1292.9V184.7H1289.8zM1303.9 161.3H1307.1V184.7H1303.9zM1309.6 161.3H1312.7V184.7H1309.6zM1320.9 161.3H1324V184.7H1320.9zM1066.5 230.5H1069.6V253.8H1066.5zM1089.1 230.5H1092.2V253.8H1089.1zM1190.9 230.5H1196.8V253.8H1190.9zM1213.5 230.5H1216.6V253.8H1213.5zM1224.8 253.5H1227.9V276.9H1224.8zM1114.5 276.6H1117.7V299.9H1114.5z"/>
<path fill="#2f81fa" d="M1272.8 23H1276V46.3H1272.8zM1284.1 23H1287.3V46.3H1284.1zM1292.6 23H1295.8V46.3H1292.6zM1323.7 23H1326.9V46.3H1323.7zM1060.8 46H1063.9V69.4H1060.8zM1069.3 46H1072.4V69.4H1069.3zM1261.5 46H1264.7V69.4H1261.5zM1091.9 69.1H1097.9V92.4H1091.9zM1244.6 69.1H1250.5V92.4H1244.6zM1253 69.1H1256.2V92.4H1253zM1272.8 69.1H1276V92.4H1272.8zM1295.5 69.1H1298.6V92.4H1295.5zM1303.9 69.1H1307.1V92.4H1303.9zM1295.5 115.2H1298.6V138.5H1295.5zM1320.9 115.2H1324V138.5H1320.9zM1289.8 138.2H1292.9V161.6H1289.8zM1244.6 161.3H1247.7V184.7H1244.6zM1250.2 161.3H1253.3V184.7H1250.2zM1255.9 161.3H1261.8V184.7H1255.9zM1284.1 161.3H1287.3V184.7H1284.1zM1292.6 161.3H1295.8V184.7H1292.6zM1298.3 161.3H1301.4V184.7H1298.3zM1312.4 161.3H1318.4V184.7H1312.4zM1103.2 184.4H1106.3V207.7H1103.2zM1077.8 207.4H1080.9V230.8H1077.8zM1108.9 230.5H1112V253.8H1108.9zM1114.5 230.5H1117.7V253.8H1114.5zM1188 230.5H1191.2V253.8H1188zM1207.8 230.5H1210.9V253.8H1207.8zM1219.1 230.5H1222.3V253.8H1219.1zM1227.6 230.5H1233.6V253.8H1227.6zM1111.7 253.5H1114.8V276.9H1111.7zM1227.6 253.5H1230.7V276.9H1227.6z"/>
<path fill="#2e87f7" d="M1114.5 23H1117.7V46.3H1114.5zM1278.5 23H1281.6V46.3H1278.5zM1295.5 23H1298.6V46.3H1295.5zM1046.7 46H1049.8V69.4H1046.7zM1052.3 46H1055.5V69.4H1052.3zM1063.6 46H1066.8V69.4H1063.6zM1072.1 46H1075.2V69.4H1072.1zM1077.8 46H1080.9V69.4H1077.8zM1083.4 46H1086.6V69.4H1083.4zM1091.9 46H1100.7V69.4H1091.9zM1250.2 69.1H1253.3V92.4H1250.2zM1267.2 69.1H1273.1V92.4H1267.2zM1281.3 69.1H1287.3V92.4H1281.3zM1298.3 69.1H1301.4V92.4H1298.3zM1241.7 92.1H1244.9V115.5H1241.7zM1091.9 115.2H1097.9V138.5H1091.9zM1301.1 115.2H1312.7V138.5H1301.1zM1318.1 115.2H1321.2V138.5H1318.1zM1089.1 138.2H1092.2V161.6H1089.1zM1267.2 138.2H1270.3V161.6H1267.2zM1275.7 138.2H1281.6V161.6H1275.7zM1284.1 138.2H1287.3V161.6H1284.1zM1303.9 138.2H1307.1V161.6H1303.9zM1114.5 161.3H1117.7V184.7H1114.5zM1241.7 161.3H1244.9V184.7H1241.7zM1253 161.3H1256.2V184.7H1253zM1267.2 161.3H1270.3V184.7H1267.2zM1278.5 161.3H1281.6V184.7H1278.5zM1295.5 161.3H1298.6V184.7H1295.5zM1097.6 184.4H1100.7V207.7H1097.6zM1320.9 207.4H1324V230.8H1320.9zM1111.7 230.5H1114.8V253.8H1111.7zM1117.4 230.5H1120.5V253.8H1117.4zM1185.2 230.5H1188.3V253.8H1185.2zM1210.6 230.5H1213.8V253.8H1210.6zM1224.8 230.5H1227.9V253.8H1224.8zM1233.3 230.5H1236.4V253.8H1233.3zM1255.9 230.5H1261.8V253.8H1255.9zM1323.7 230.5H1326.9V253.8H1323.7zM1230.4 253.5H1233.6V276.9H1230.4zM1117.4 276.6H1120.5V299.9H1117.4z"/>
<path fill="#2d8cf3" d="M1264.4 23H1270.3V46.3H1264.4zM1049.5 46H1052.6V69.4H1049.5zM1074.9 46H1078.1V69.4H1074.9zM1213.5 46H1219.4V69.4H1213.5zM1222 46H1225.1V69.4H1222zM1264.4 46H1270.3V69.4H1264.4zM1111.7 69.1H1114.8V92.4H1111.7zM1222 69.1H1225.1V92.4H1222zM1230.4 69.1H1233.6V92.4H1230.4zM1241.7 69.1H1244.9V92.4H1241.7zM1275.7 69.1H1278.8V92.4H1275.7zM1055.2 92.1H1058.3V115.5H1055.2zM1077.8 92.1H1080.9V115.5H1077.8zM1230.4 92.1H1233.6V115.5H1230.4zM1236.1 92.1H1242V115.5H1236.1zM1097.6 115.2H1100.7V138.5H1097.6zM1103.2 115.2H1106.3V138.5H1103.2zM1278.5 115.2H1281.6V138.5H1278.5zM1284.1 115.2H1287.3V138.5H1284.1zM1289.8 115.2H1295.8V138.5H1289.8zM1298.3 115.2H1301.4V138.5H1298.3zM1312.4 115.2H1315.5V138.5H1312.4zM1241.7 138.2H1244.9V161.6H1241.7zM1261.5 138.2H1267.5V161.6H1261.5zM1270 138.2H1276V161.6H1270zM1230.4 161.3H1233.6V184.7H1230.4zM1236.1 161.3H1242V184.7H1236.1zM1270 161.3H1273.1V184.7H1270zM1106 184.4H1109.2V207.7H1106zM1323.7 207.4H1326.9V230.8H1323.7zM1196.5 230.5H1199.6V253.8H1196.5zM1216.3 230.5H1219.4V253.8H1216.3zM1222 230.5H1225.1V253.8H1222zM1236.1 230.5H1242V253.8H1236.1zM1247.4 230.5H1256.2V253.8H1247.4zM1315.2 230.5H1318.4V253.8H1315.2zM1320.9 230.5H1324V253.8H1320.9zM1216.3 253.5H1219.4V276.9H1216.3zM1222 253.5H1225.1V276.9H1222zM1120.2 276.6H1123.3V299.9H1120.2z"/>
<path fill="#2b91ef" d="M1123 23H1126.1V46.3H1123zM1241.7 23H1247.7V46.3H1241.7zM1258.7 23H1264.7V46.3H1258.7zM1270 23H1273.1V46.3H1270zM1066.5 46H1069.6V69.4H1066.5zM1089.1 46H1092.2V69.4H1089.1zM1103.2 46H1109.2V69.4H1103.2zM1134.3 46H1137.4V69.4H1134.3zM1205 46H1208.1V69.4H1205zM1270 46H1273.1V69.4H1270zM1216.3 69.1H1219.4V92.4H1216.3zM1224.8 69.1H1230.7V92.4H1224.8zM1233.3 69.1H1236.4V92.4H1233.3zM1238.9 69.1H1242V92.4H1238.9zM1058 92.1H1063.9V115.5H1058zM1080.6 92.1H1086.6V115.5H1080.6zM1097.6 92.1H1103.5V115.5H1097.6zM1111.7 92.1H1114.8V115.5H1111.7zM1219.1 92.1H1225.1V115.5H1219.1zM1227.6 92.1H1230.7V115.5H1227.6zM1233.3 92.1H1236.4V115.5H1233.3zM1100.4 115.2H1103.5V138.5H1100.4zM1250.2 115.2H1253.3V138.5H1250.2zM1258.7 115.2H1264.7V138.5H1258.7zM1281.3 115.2H1284.4V138.5H1281.3zM1315.2 115.2H1318.4V138.5H1315.2zM1244.6 138.2H1247.7V161.6H1244.6zM1250.2 138.2H1253.3V161.6H1250.2zM1258.7 138.2H1261.8V161.6H1258.7zM1117.4 161.3H1120.5V184.7H1117.4zM1222 161.3H1227.9V184.7H1222zM1247.4 161.3H1250.5V184.7H1247.4zM1318.1 207.4H1321.2V230.8H1318.1zM1244.6 230.5H1247.7V253.8H1244.6zM1306.8 230.5H1309.9V253.8H1306.8zM1318.1 230.5H1321.2V253.8H1318.1zM1213.5 253.5H1216.6V276.9H1213.5z"/>
<path fill="#2797eb" d="M1117.4 23H1123.3V46.3H1117.4zM1247.4 23H1250.5V46.3H1247.4zM1253 23H1259V46.3H1253zM1086.3 46H1089.4V69.4H1086.3zM1111.7 46H1114.8V69.4H1111.7zM1117.4 46H1123.3V69.4H1117.4zM1137.1 46H1143.1V69.4H1137.1zM1173.9 46H1177V69.4H1173.9zM1272.8 46H1276V69.4H1272.8zM1114.5 69.1H1117.7V92.4H1114.5zM1213.5 69.1H1216.6V92.4H1213.5zM1236.1 69.1H1239.2V92.4H1236.1zM1069.3 92.1H1072.4V115.5H1069.3zM1086.3 92.1H1097.9V115.5H1086.3zM1106 115.2H1112V138.5H1106zM1253 115.2H1259V138.5H1253zM1270 115.2H1273.1V138.5H1270zM1091.9 138.2H1095V161.6H1091.9zM1247.4 138.2H1250.5V161.6H1247.4zM1255.9 138.2H1259V161.6H1255.9zM1227.6 161.3H1230.7V184.7H1227.6zM1233.3 161.3H1236.4V184.7H1233.3zM1295.5 207.4H1298.6V230.8H1295.5zM1309.6 207.4H1315.5V230.8H1309.6zM1120.2 230.5H1123.3V253.8H1120.2zM1137.1 230.5H1140.3V253.8H1137.1zM1159.8 230.5H1165.7V253.8H1159.8zM1168.2 230.5H1171.4V253.8H1168.2zM1261.5 230.5H1273.1V253.8H1261.5zM1287 230.5H1290.1V253.8H1287zM1292.6 230.5H1307.1V253.8H1292.6zM1312.4 230.5H1315.5V253.8H1312.4zM1219.1 253.5H1222.3V276.9H1219.1z"/>
<path fill="#259be8" d="M1128.7 23H1131.8V46.3H1128.7zM1238.9 23H1242V46.3H1238.9zM1250.2 23H1253.3V46.3H1250.2zM1100.4 46H1103.5V69.4H1100.4zM1108.9 46H1112V69.4H1108.9zM1142.8 46H1145.9V69.4H1142.8zM1148.4 46H1151.6V69.4H1148.4zM1188 46H1191.2V69.4H1188zM1275.7 46H1278.8V69.4H1275.7zM1120.2 69.1H1123.3V92.4H1120.2zM1210.6 69.1H1213.8V92.4H1210.6zM1219.1 69.1H1222.3V92.4H1219.1zM1043.8 92.1H1047V115.5H1043.8zM1052.3 92.1H1055.5V115.5H1052.3zM1066.5 92.1H1069.6V115.5H1066.5zM1072.1 92.1H1078.1V115.5H1072.1zM1106 92.1H1112V115.5H1106zM1216.3 92.1H1219.4V115.5H1216.3zM1244.6 115.2H1250.5V138.5H1244.6zM1267.2 115.2H1270.3V138.5H1267.2zM1275.7 115.2H1278.8V138.5H1275.7zM1287 115.2H1290.1V138.5H1287zM1199.3 161.3H1202.5V184.7H1199.3zM1219.1 161.3H1222.3V184.7H1219.1zM1108.9 184.4H1112V207.7H1108.9zM1303.9 184.4H1307.1V207.7H1303.9zM1318.1 184.4H1321.2V207.7H1318.1zM1080.6 207.4H1083.7V230.8H1080.6zM1298.3 207.4H1309.9V230.8H1298.3zM1315.2 207.4H1318.4V230.8H1315.2zM1156.9 230.5H1160.1V253.8H1156.9zM1171.1 230.5H1174.2V253.8H1171.1zM1182.4 230.5H1185.5V253.8H1182.4zM1241.7 230.5H1244.9V253.8H1241.7zM1281.3 230.5H1287.3V253.8H1281.3zM1289.8 230.5H1292.9V253.8H1289.8zM1309.6 230.5H1312.7V253.8H1309.6zM1207.8 253.5H1213.8V276.9H1207.8zM1123 276.6H1126.1V299.9H1123z"/>
<path fill="#23a0e5" d="M1125.8 23H1129V46.3H1125.8zM1131.5 23H1137.4V46.3H1131.5zM1114.5 46H1117.7V69.4H1114.5zM1123 46H1126.1V69.4H1123zM1131.5 46H1134.6V69.4H1131.5zM1145.6 46H1148.7V69.4H1145.6zM1154.1 46H1165.7V69.4H1154.1zM1168.2 46H1174.2V69.4H1168.2zM1185.2 46H1188.3V69.4H1185.2zM1190.9 46H1194V69.4H1190.9zM1202.2 46H1205.3V69.4H1202.2zM1210.6 46H1213.8V69.4H1210.6zM1278.5 46H1281.6V69.4H1278.5zM1207.8 69.1H1210.9V92.4H1207.8zM1063.6 92.1H1066.8V115.5H1063.6zM1103.2 92.1H1106.3V115.5H1103.2zM1114.5 92.1H1117.7V115.5H1114.5zM1207.8 92.1H1216.6V115.5H1207.8zM1224.8 92.1H1227.9V115.5H1224.8zM1264.4 115.2H1267.5V138.5H1264.4zM1094.7 138.2H1097.9V161.6H1094.7zM1230.4 138.2H1236.4V161.6H1230.4zM1238.9 138.2H1242V161.6H1238.9zM1253 138.2H1256.2V161.6H1253zM1120.2 161.3H1123.3V184.7H1120.2zM1190.9 161.3H1199.6V184.7H1190.9zM1202.2 161.3H1210.9V184.7H1202.2zM1216.3 161.3H1219.4V184.7H1216.3zM1281.3 184.4H1290.1V207.7H1281.3zM1301.1 184.4H1304.2V207.7H1301.1zM1306.8 184.4H1312.7V207.7H1306.8zM1323.7 184.4H1326.9V207.7H1323.7zM1123 230.5H1126.1V253.8H1123zM1134.3 230.5H1137.4V253.8H1134.3zM1173.9 230.5H1177V253.8H1173.9zM1179.5 230.5H1182.7V253.8H1179.5zM1272.8 230.5H1281.6V253.8H1272.8z"/>
<path fill="#20a5e3" d="M1233.3 23H1239.2V46.3H1233.3zM1125.8 46H1131.8V69.4H1125.8zM1151.3 46H1154.4V69.4H1151.3zM1165.4 46H1168.5V69.4H1165.4zM1182.4 46H1185.5V69.4H1182.4zM1193.7 46H1196.8V69.4H1193.7zM1207.8 46H1210.9V69.4H1207.8zM1117.4 69.1H1120.5V92.4H1117.4zM1123 69.1H1129V92.4H1123zM1046.7 92.1H1049.8V115.5H1046.7zM1120.2 92.1H1123.3V115.5H1120.2zM1202.2 92.1H1205.3V115.5H1202.2zM1111.7 115.2H1114.8V138.5H1111.7zM1238.9 115.2H1242V138.5H1238.9zM1272.8 115.2H1276V138.5H1272.8zM1097.6 138.2H1100.7V161.6H1097.6zM1207.8 138.2H1210.9V161.6H1207.8zM1236.1 138.2H1239.2V161.6H1236.1zM1171.1 161.3H1177V184.7H1171.1zM1213.5 161.3H1216.6V184.7H1213.5zM1289.8 184.4H1292.9V207.7H1289.8zM1315.2 184.4H1318.4V207.7H1315.2zM1320.9 184.4H1324V207.7H1320.9zM1292.6 207.4H1295.8V230.8H1292.6zM1131.5 230.5H1134.6V253.8H1131.5zM1148.4 230.5H1151.6V253.8H1148.4zM1154.1 230.5H1157.2V253.8H1154.1zM1165.4 230.5H1168.5V253.8H1165.4zM1176.7 230.5H1179.8V253.8H1176.7zM1114.5 253.5H1117.7V276.9H1114.5zM1205 253.5H1208.1V276.9H1205zM1323.7 276.6H1326.9V299.9H1323.7z"/>
<path fill="#1ca9df" d="M1137.1 23H1143.1V46.3H1137.1zM1230.4 23H1233.6V46.3H1230.4zM1176.7 46H1182.7V69.4H1176.7zM1199.3 46H1202.5V69.4H1199.3zM1205 69.1H1208.1V92.4H1205zM1049.5 92.1H1052.6V115.5H1049.5zM1117.4 92.1H1120.5V115.5H1117.4zM1216.3 115.2H1219.4V138.5H1216.3zM1227.6 115.2H1233.6V138.5H1227.6zM1236.1 115.2H1239.2V138.5H1236.1zM1100.4 138.2H1103.5V161.6H1100.4zM1182.4 138.2H1185.5V161.6H1182.4zM1213.5 138.2H1219.4V161.6H1213.5zM1222 138.2H1225.1V161.6H1222zM1123 161.3H1129V184.7H1123zM1159.8 161.3H1162.9V184.7H1159.8zM1188 161.3H1191.2V184.7H1188zM1210.6 161.3H1213.8V184.7H1210.6zM1298.3 184.4H1301.4V207.7H1298.3zM1083.4 207.4H1086.6V230.8H1083.4zM1125.8 230.5H1131.8V253.8H1125.8zM1140 230.5H1143.1V253.8H1140zM1145.6 230.5H1148.7V253.8H1145.6zM1151.3 230.5H1154.4V253.8H1151.3z"/>
<path fill="#18addb" d="M1154.1 23H1157.2V46.3H1154.1zM1171.1 23H1174.2V46.3H1171.1zM1222 23H1230.7V46.3H1222zM1196.5 46H1199.6V69.4H1196.5zM1199.3 69.1H1205.3V92.4H1199.3zM1205 92.1H1208.1V115.5H1205zM1224.8 115.2H1227.9V138.5H1224.8zM1233.3 115.2H1236.4V138.5H1233.3zM1241.7 115.2H1244.9V138.5H1241.7zM1168.2 138.2H1177V161.6H1168.2zM1179.5 138.2H1182.7V161.6H1179.5zM1185.2 138.2H1188.3V161.6H1185.2zM1193.7 138.2H1202.5V161.6H1193.7zM1210.6 138.2H1213.8V161.6H1210.6zM1227.6 138.2H1230.7V161.6H1227.6zM1162.6 161.3H1165.7V184.7H1162.6zM1176.7 161.3H1179.8V184.7H1176.7zM1185.2 161.3H1188.3V184.7H1185.2zM1111.7 184.4H1117.7V207.7H1111.7zM1278.5 184.4H1281.6V207.7H1278.5zM1295.5 184.4H1298.6V207.7H1295.5zM1284.1 207.4H1292.9V230.8H1284.1zM1295.5 276.6H1298.6V299.9H1295.5z"/>
<path fill="#12b1d6" d="M1142.8 23H1145.9V46.3H1142.8zM1156.9 23H1160.1V46.3H1156.9zM1176.7 23H1179.8V46.3H1176.7zM1182.4 23H1185.5V46.3H1182.4zM1193.7 23H1196.8V46.3H1193.7zM1210.6 23H1213.8V46.3H1210.6zM1281.3 46H1284.4V69.4H1281.3zM1303.9 46H1307.1V69.4H1303.9zM1193.7 92.1H1196.8V115.5H1193.7zM1199.3 92.1H1202.5V115.5H1199.3zM1213.5 115.2H1216.6V138.5H1213.5zM1219.1 115.2H1222.3V138.5H1219.1zM1103.2 138.2H1106.3V161.6H1103.2zM1176.7 138.2H1179.8V161.6H1176.7zM1190.9 138.2H1194V161.6H1190.9zM1202.2 138.2H1205.3V161.6H1202.2zM1224.8 138.2H1227.9V161.6H1224.8zM1156.9 161.3H1160.1V184.7H1156.9zM1168.2 161.3H1171.4V184.7H1168.2zM1179.5 161.3H1185.5V184.7H1179.5zM1117.4 184.4H1120.5V207.7H1117.4zM1267.2 184.4H1273.1V207.7H1267.2zM1292.6 184.4H1295.8V207.7H1292.6zM1312.4 184.4H1315.5V207.7H1312.4zM1125.8 276.6H1129V299.9H1125.8zM1292.6 276.6H1295.8V299.9H1292.6zM1298.3 276.6H1301.4V299.9H1298.3zM1309.6 276.6H1318.4V299.9H1309.6zM1320.9 276.6H1324V299.9H1320.9z"/>
<path fill="#08b5d0" d="M1159.8 23H1171.4V46.3H1159.8zM1173.9 23H1177V46.3H1173.9zM1185.2 23H1191.2V46.3H1185.2zM1199.3 23H1202.5V46.3H1199.3zM1207.8 23H1210.9V46.3H1207.8zM1213.5 23H1219.4V46.3H1213.5zM1295.5 46H1298.6V69.4H1295.5zM1301.1 46H1304.2V69.4H1301.1zM1128.7 69.1H1131.8V92.4H1128.7zM1193.7 69.1H1199.6V92.4H1193.7zM1123 92.1H1126.1V115.5H1123zM1185.2 92.1H1194V115.5H1185.2zM1196.5 92.1H1199.6V115.5H1196.5zM1222 115.2H1225.1V138.5H1222zM1159.8 138.2H1162.9V161.6H1159.8zM1165.4 138.2H1168.5V161.6H1165.4zM1188 138.2H1191.2V161.6H1188zM1205 138.2H1208.1V161.6H1205zM1219.1 138.2H1222.3V161.6H1219.1zM1275.7 184.4H1278.8V207.7H1275.7zM1086.3 207.4H1089.4V230.8H1086.3zM1142.8 230.5H1145.9V253.8H1142.8zM1117.4 253.5H1120.5V276.9H1117.4zM1301.1 276.6H1304.2V299.9H1301.1zM1318.1 276.6H1321.2V299.9H1318.1z"/>
<path fill="#01b8ca" d="M1148.4 23H1154.4V46.3H1148.4zM1190.9 23H1194V46.3H1190.9zM1196.5 23H1199.6V46.3H1196.5zM1202.2 23H1208.1V46.3H1202.2zM1219.1 23H1222.3V46.3H1219.1zM1284.1 46H1287.3V69.4H1284.1zM1292.6 46H1295.8V69.4H1292.6zM1298.3 46H1301.4V69.4H1298.3zM1190.9 69.1H1194V92.4H1190.9zM1207.8 115.2H1213.8V138.5H1207.8zM1106 138.2H1109.2V161.6H1106zM1156.9 138.2H1160.1V161.6H1156.9zM1162.6 138.2H1165.7V161.6H1162.6zM1154.1 161.3H1157.2V184.7H1154.1zM1165.4 161.3H1168.5V184.7H1165.4zM1258.7 184.4H1261.8V207.7H1258.7zM1264.4 184.4H1267.5V207.7H1264.4zM1272.8 184.4H1276V207.7H1272.8zM1281.3 207.4H1284.4V230.8H1281.3zM1202.2 253.5H1205.3V276.9H1202.2zM1128.7 276.6H1131.8V299.9H1128.7zM1278.5 276.6H1281.6V299.9H1278.5zM1289.8 276.6H1292.9V299.9H1289.8zM1303.9 276.6H1309.9V299.9H1303.9z"/>
<path fill="#02bac3" d="M1179.5 23H1182.7V46.3H1179.5zM1289.8 46H1292.9V69.4H1289.8zM1134.3 69.1H1137.4V92.4H1134.3zM1188 69.1H1191.2V92.4H1188zM1125.8 92.1H1129V115.5H1125.8zM1182.4 92.1H1185.5V115.5H1182.4zM1202.2 115.2H1208.1V138.5H1202.2zM1128.7 161.3H1131.8V184.7H1128.7zM1261.5 184.4H1264.7V207.7H1261.5zM1199.3 253.5H1202.5V276.9H1199.3zM1272.8 276.6H1276V299.9H1272.8zM1281.3 276.6H1290.1V299.9H1281.3z"/>
<path fill="#0bbdbd" d="M1306.8 46H1309.9V69.4H1306.8zM1320.9 46H1324V69.4H1320.9zM1131.5 69.1H1134.6V92.4H1131.5zM1179.5 92.1H1182.7V115.5H1179.5zM1134.3 138.2H1140.3V161.6H1134.3zM1151.3 138.2H1157.2V161.6H1151.3zM1145.6 161.3H1154.4V184.7H1145.6zM1241.7 184.4H1256.2V207.7H1241.7zM1089.1 207.4H1095V230.8H1089.1zM1267.2 207.4H1270.3V230.8H1267.2zM1272.8 207.4H1281.6V230.8H1272.8zM1270 276.6H1273.1V299.9H1270zM1275.7 276.6H1278.8V299.9H1275.7z"/>
<path fill="#19bfb6" d="M1145.6 23H1148.7V46.3H1145.6zM1287 46H1290.1V69.4H1287zM1323.7 46H1326.9V69.4H1323.7zM1137.1 69.1H1140.3V92.4H1137.1zM1176.7 69.1H1182.7V92.4H1176.7zM1185.2 69.1H1188.3V92.4H1185.2zM1114.5 115.2H1117.7V138.5H1114.5zM1190.9 115.2H1194V138.5H1190.9zM1196.5 115.2H1199.6V138.5H1196.5zM1111.7 138.2H1114.8V161.6H1111.7zM1145.6 138.2H1151.6V161.6H1145.6zM1142.8 161.3H1145.9V184.7H1142.8zM1222 184.4H1225.1V207.7H1222zM1255.9 184.4H1259V207.7H1255.9zM1270 207.4H1273.1V230.8H1270zM1196.5 253.5H1199.6V276.9H1196.5z"/>
<path fill="#24c1ae" d="M1309.6 46H1321.2V69.4H1309.6zM1140 69.1H1143.1V92.4H1140zM1176.7 92.1H1179.8V115.5H1176.7zM1193.7 115.2H1196.8V138.5H1193.7zM1199.3 115.2H1202.5V138.5H1199.3zM1108.9 138.2H1112V161.6H1108.9zM1114.5 138.2H1117.7V161.6H1114.5zM1131.5 138.2H1134.6V161.6H1131.5zM1142.8 138.2H1145.9V161.6H1142.8zM1131.5 161.3H1134.6V184.7H1131.5zM1137.1 161.3H1143.1V184.7H1137.1zM1219.1 184.4H1222.3V207.7H1219.1zM1230.4 184.4H1233.6V207.7H1230.4zM1236.1 184.4H1239.2V207.7H1236.1zM1097.6 207.4H1100.7V230.8H1097.6zM1255.9 207.4H1259V230.8H1255.9zM1261.5 207.4H1267.5V230.8H1261.5z"/>
<path fill="#2cc4a7" d="M1145.6 69.1H1151.6V92.4H1145.6zM1182.4 69.1H1185.5V92.4H1182.4zM1165.4 92.1H1168.5V115.5H1165.4zM1128.7 138.2H1131.8V161.6H1128.7zM1120.2 184.4H1123.3V207.7H1120.2zM1224.8 184.4H1230.7V207.7H1224.8zM1233.3 184.4H1236.4V207.7H1233.3zM1238.9 184.4H1242V207.7H1238.9zM1094.7 207.4H1097.9V230.8H1094.7zM1193.7 253.5H1196.8V276.9H1193.7zM1131.5 276.6H1137.4V299.9H1131.5zM1253 276.6H1256.2V299.9H1253zM1258.7 276.6H1261.8V299.9H1258.7z"/>
<path fill="#31c69f" d="M1142.8 69.1H1145.9V92.4H1142.8zM1151.3 69.1H1154.4V92.4H1151.3zM1171.1 69.1H1177V92.4H1171.1zM1128.7 92.1H1131.8V115.5H1128.7zM1168.2 92.1H1171.4V115.5H1168.2zM1173.9 92.1H1177V115.5H1173.9zM1176.7 115.2H1179.8V138.5H1176.7zM1120.2 138.2H1123.3V161.6H1120.2zM1125.8 138.2H1129V161.6H1125.8zM1140 138.2H1143.1V161.6H1140zM1210.6 184.4H1213.8V207.7H1210.6zM1241.7 207.4H1244.9V230.8H1241.7zM1253 207.4H1256.2V230.8H1253zM1258.7 207.4H1261.8V230.8H1258.7zM1120.2 253.5H1123.3V276.9H1120.2zM1190.9 253.5H1194V276.9H1190.9zM1236.1 276.6H1242V299.9H1236.1zM1255.9 276.6H1259V299.9H1255.9zM1267.2 276.6H1270.3V299.9H1267.2z"/>
<path fill="#37c897" d="M1159.8 69.1H1171.4V92.4H1159.8zM1171.1 92.1H1174.2V115.5H1171.1zM1179.5 115.2H1185.5V138.5H1179.5zM1188 115.2H1191.2V138.5H1188zM1123 138.2H1126.1V161.6H1123zM1134.3 161.3H1137.4V184.7H1134.3zM1216.3 184.4H1219.4V207.7H1216.3zM1247.4 207.4H1253.3V230.8H1247.4zM1188 253.5H1191.2V276.9H1188zM1137.1 276.6H1143.1V299.9H1137.1zM1250.2 276.6H1253.3V299.9H1250.2zM1261.5 276.6H1267.5V299.9H1261.5z"/>
<path fill="#3fca8e" d="M1117.4 115.2H1120.5V138.5H1117.4zM1117.4 138.2H1120.5V161.6H1117.4zM1207.8 184.4H1210.9V207.7H1207.8zM1213.5 184.4H1216.6V207.7H1213.5zM1100.4 207.4H1103.5V230.8H1100.4zM1230.4 207.4H1233.6V230.8H1230.4zM1236.1 207.4H1239.2V230.8H1236.1zM1244.6 207.4H1247.7V230.8H1244.6zM1241.7 276.6H1247.7V299.9H1241.7z"/>
<path fill="#4acb84" d="M1154.1 69.1H1160.1V92.4H1154.1zM1154.1 92.1H1165.7V115.5H1154.1zM1120.2 115.2H1129V138.5H1120.2zM1185.2 115.2H1188.3V138.5H1185.2zM1176.7 184.4H1179.8V207.7H1176.7zM1190.9 184.4H1194V207.7H1190.9zM1205 184.4H1208.1V207.7H1205zM1224.8 207.4H1230.7V230.8H1224.8zM1238.9 207.4H1242V230.8H1238.9zM1185.2 253.5H1188.3V276.9H1185.2zM1233.3 276.6H1236.4V299.9H1233.3zM1247.4 276.6H1250.5V299.9H1247.4z"/>
<path fill="#57cc7a" d="M1131.5 92.1H1134.6V115.5H1131.5zM1123 184.4H1126.1V207.7H1123zM1179.5 184.4H1182.7V207.7H1179.5zM1199.3 184.4H1205.3V207.7H1199.3zM1103.2 207.4H1106.3V230.8H1103.2zM1222 207.4H1225.1V230.8H1222zM1233.3 207.4H1236.4V230.8H1233.3zM1230.4 276.6H1233.6V299.9H1230.4z"/>
<path fill="#64cd6f" d="M1148.4 92.1H1151.6V115.5H1148.4zM1162.6 115.2H1174.2V138.5H1162.6zM1182.4 184.4H1188.3V207.7H1182.4zM1196.5 184.4H1199.6V207.7H1196.5zM1106 207.4H1109.2V230.8H1106z"/>
<path fill="#72cd64" d="M1151.3 92.1H1154.4V115.5H1151.3zM1159.8 115.2H1162.9V138.5H1159.8zM1173.9 115.2H1177V138.5H1173.9zM1188 184.4H1191.2V207.7H1188zM1210.6 207.4H1213.8V230.8H1210.6zM1219.1 207.4H1222.3V230.8H1219.1zM1182.4 253.5H1185.5V276.9H1182.4zM1142.8 276.6H1148.7V299.9H1142.8zM1227.6 276.6H1230.7V299.9H1227.6z"/>
<path fill="#81cc59" d="M1145.6 92.1H1148.7V115.5H1145.6zM1156.9 115.2H1160.1V138.5H1156.9zM1193.7 184.4H1196.8V207.7H1193.7zM1207.8 207.4H1210.9V230.8H1207.8zM1216.3 207.4H1219.4V230.8H1216.3z"/>
<path fill="#8fcb4e" d="M1140 92.1H1143.1V115.5H1140zM1128.7 115.2H1131.8V138.5H1128.7zM1125.8 184.4H1129V207.7H1125.8zM1173.9 184.4H1177V207.7H1173.9zM1108.9 207.4H1112V230.8H1108.9zM1205 207.4H1208.1V230.8H1205zM1179.5 253.5H1182.7V276.9H1179.5zM1224.8 276.6H1227.9V299.9H1224.8z"/>
<path fill="#9dc943" d="M1134.3 92.1H1137.4V115.5H1134.3zM1134.3 115.2H1137.4V138.5H1134.3zM1140 115.2H1143.1V138.5H1140zM1154.1 115.2H1157.2V138.5H1154.1zM1168.2 184.4H1174.2V207.7H1168.2zM1123 253.5H1126.1V276.9H1123z"/>
<path fill="#abc739" d="M1137.1 92.1H1140.3V115.5H1137.1zM1142.8 92.1H1145.9V115.5H1142.8zM1131.5 115.2H1134.6V138.5H1131.5zM1142.8 115.2H1145.9V138.5H1142.8zM1151.3 115.2H1154.4V138.5H1151.3zM1165.4 184.4H1168.5V207.7H1165.4zM1111.7 207.4H1114.8V230.8H1111.7zM1202.2 207.4H1205.3V230.8H1202.2zM1213.5 207.4H1216.6V230.8H1213.5zM1210.6 276.6H1213.8V299.9H1210.6zM1219.1 276.6H1225.1V299.9H1219.1z"/>
<path fill="#b9c431" d="M1137.1 115.2H1140.3V138.5H1137.1zM1145.6 115.2H1151.6V138.5H1145.6zM1193.7 207.4H1196.8V230.8H1193.7zM1199.3 207.4H1202.5V230.8H1199.3zM1176.7 253.5H1179.8V276.9H1176.7zM1213.5 276.6H1216.6V299.9H1213.5z"/>
<path fill="#c5c22a" d="M1159.8 184.4H1165.7V207.7H1159.8zM1185.2 207.4H1188.3V230.8H1185.2zM1171.1 253.5H1174.2V276.9H1171.1zM1148.4 276.6H1154.4V299.9H1148.4zM1216.3 276.6H1219.4V299.9H1216.3z"/>
<path fill="#d1bf27" d="M1156.9 184.4H1160.1V207.7H1156.9zM1196.5 207.4H1199.6V230.8H1196.5zM1173.9 253.5H1177V276.9H1173.9zM1202.2 276.6H1205.3V299.9H1202.2z"/>
<path fill="#dcbd29" d="M1188 207.4H1194V230.8H1188zM1125.8 253.5H1129V276.9H1125.8zM1154.1 276.6H1157.2V299.9H1154.1zM1207.8 276.6H1210.9V299.9H1207.8z"/>
<path fill="#e6bb2d" d="M1114.5 207.4H1117.7V230.8H1114.5zM1168.2 253.5H1171.4V276.9H1168.2zM1156.9 276.6H1160.1V299.9H1156.9zM1173.9 276.6H1177V299.9H1173.9zM1205 276.6H1208.1V299.9H1205z"/>
<path fill="#f0ba36" d="M1128.7 184.4H1134.6V207.7H1128.7zM1137.1 184.4H1140.3V207.7H1137.1zM1142.8 184.4H1145.9V207.7H1142.8zM1148.4 184.4H1151.6V207.7H1148.4zM1154.1 184.4H1157.2V207.7H1154.1zM1173.9 207.4H1177V230.8H1173.9zM1182.4 207.4H1185.5V230.8H1182.4zM1128.7 253.5H1131.8V276.9H1128.7zM1182.4 276.6H1185.5V299.9H1182.4zM1199.3 276.6H1202.5V299.9H1199.3z"/>
<path fill="#f8ba3d" d="M1168.2 207.4H1171.4V230.8H1168.2zM1179.5 207.4H1182.7V230.8H1179.5zM1131.5 253.5H1137.4V276.9H1131.5zM1148.4 253.5H1154.4V276.9H1148.4zM1159.8 276.6H1165.7V299.9H1159.8zM1171.1 276.6H1174.2V299.9H1171.1zM1176.7 276.6H1182.7V299.9H1176.7zM1193.7 276.6H1199.6V299.9H1193.7z"/>
<path fill="#febe3c" d="M1134.3 184.4H1137.4V207.7H1134.3zM1151.3 184.4H1154.4V207.7H1151.3zM1171.1 207.4H1174.2V230.8H1171.1zM1176.7 207.4H1179.8V230.8H1176.7zM1137.1 253.5H1145.9V276.9H1137.1zM1154.1 253.5H1157.2V276.9H1154.1zM1185.2 276.6H1194V299.9H1185.2z"/>
<path fill="#fec338" d="M1140 184.4H1143.1V207.7H1140zM1145.6 184.4H1148.7V207.7H1145.6zM1120.2 207.4H1123.3V230.8H1120.2zM1165.4 276.6H1171.4V299.9H1165.4z"/>
<path fill="#fec934" d="M1117.4 207.4H1120.5V230.8H1117.4z"/>
<path fill="#fccf30" d="M1123 207.4H1129V230.8H1123zM1165.4 207.4H1168.5V230.8H1165.4zM1145.6 253.5H1148.7V276.9H1145.6z"/>
<path fill="#fad62d" d="M1131.5 207.4H1134.6V230.8H1131.5zM1156.9 253.5H1160.1V276.9H1156.9zM1165.4 253.5H1168.5V276.9H1165.4z"/>
<path fill="#f7dc2a" d="M1128.7 207.4H1131.8V230.8H1128.7zM1162.6 207.4H1165.7V230.8H1162.6z"/>
<path fill="#f5e327" d="M1159.8 207.4H1162.9V230.8H1159.8zM1162.6 253.5H1165.7V276.9H1162.6z"/>
<path fill="#f5e924" d="M1134.3 207.4H1140.3V230.8H1134.3zM1145.6 207.4H1148.7V230.8H1145.6zM1156.9 207.4H1160.1V230.8H1156.9z"/>
<path fill="#f6ef20" d="M1140 207.4H1145.9V230.8H1140zM1148.4 207.4H1151.6V230.8H1148.4z"/>
<path fill="#f9fb15" d="M1151.3 207.4H1157.2V230.8H1151.3zM1159.8 253.5H1162.9V276.9H1159.8z"/></g><rect x="1044" y="23.1" width="282.7" height="276.7" fill="none" stroke="#222" stroke-width="1"/><path d="M1183.7 23.1v3M1183.7 299.8v-3M1254.4 23.1v3M1254.4 299.8v-3M1326.7 57.7h-3M1326.7 103.8h-3M1044 103.8h3M1326.7 149.9h-3M1326.7 196h-3M1044 196h3M1326.7 242.2h-3M1326.7 288.3h-3M1044 288.3h3" stroke="#222" stroke-width="1" fill="none"/><defs><linearGradient id="cbc" x1="0" y1="0" x2="0" y2="1"><stop offset="0%" stop-color="#f9fb15"/><stop offset="4.8%" stop-color="#f5e924"/><stop offset="9.5%" stop-color="#fad62d"/><stop offset="14.3%" stop-color="#fec338"/><stop offset="19%" stop-color="#f0ba36"/><stop offset="23.8%" stop-color="#d1bf27"/><stop offset="28.6%" stop-color="#abc739"/><stop offset="33.3%" stop-color="#81cc59"/><stop offset="38.1%" stop-color="#57cc7a"/><stop offset="42.9%" stop-color="#37c897"/><stop offset="47.6%" stop-color="#24c1ae"/><stop offset="52.4%" stop-color="#02bac3"/><stop offset="57.1%" stop-color="#12b1d6"/><stop offset="61.9%" stop-color="#20a5e3"/><stop offset="66.7%" stop-color="#2797eb"/><stop offset="71.4%" stop-color="#2e87f7"/><stop offset="76.2%" stop-color="#3875fe"/><stop offset="81%" stop-color="#4563fd"/><stop offset="85.7%" stop-color="#4852f4"/><stop offset="90.5%" stop-color="#4741e5"/><stop offset="95.2%" stop-color="#4332cb"/><stop offset="100%" stop-color="#3e26a8"/></linearGradient></defs><rect x="1339" y="25" width="14.4" height="277" fill="url(#cbc)"/><rect x="1339" y="25" width="14.4" height="277" fill="none" stroke="#666" stroke-width="0.7"/><path d="M1353.4 34.7h-3M1353.4 90h-3M1353.4 147.2h-3M1353.4 203.4h-3M1353.4 260.6h-3" stroke="#333" stroke-width="0.8" fill="none"/><text x="1359.5" y="43.3" font-size="24" fill="#222">1.5</text><text x="1359.5" y="98.6" font-size="24" fill="#222">1</text><text x="1359.5" y="155.8" font-size="24" fill="#222">0.5</text><text x="1359.5" y="212" font-size="24" fill="#222">0</text><text x="1359.5" y="269.2" font-size="24" fill="#222">-0.5</text><text transform="translate(1403 35) rotate(90)" font-size="23.9" fill="#222">Neuronal Z-Score Δ F/F</text><text x="1033" y="33.3" font-size="24" fill="#222" text-anchor="end">0</text><text x="1033" y="108.4" font-size="24" fill="#222" text-anchor="end">4</text><text x="1033" y="199.3" font-size="24" fill="#222" text-anchor="end">8</text><text x="1040" y="295.2" font-size="24" fill="#222" text-anchor="end">12</text><text transform="translate(993 162) rotate(-90)" font-size="30" fill="#222" text-anchor="middle">Trial</text><path d="M1045.5 481.8L1055.4 479.2L1062 482.2L1068.7 476.9L1073.6 478.3L1080.2 476.4L1085.2 464.8L1091.8 455.6L1098.4 451L1104.4 445.3L1109 437.4L1114.9 421.2L1121.6 399.6L1126.5 381.4L1131.5 355.9L1136.4 334.5L1141.4 323.2L1146.4 315.8L1151.3 312.6L1156.3 320.6L1161.2 319.6L1164.6 320L1168.5 314.6L1171.8 323.4L1175.1 333.6L1179.4 334.3L1184.4 339.8L1189.4 347.7L1194.3 354.8L1199.3 357.6L1204.2 368.7L1209.2 374.5L1212.5 379.6L1216.8 381.8L1220.8 390.9L1225.7 391.9L1229 389.7L1234 403.4L1240.6 408L1245.6 411.3L1248.9 411.2L1253.8 419.1L1258.8 422.2L1263.8 419L1267.1 420L1272 424.5L1277 421.3L1281.9 430.3L1288.6 430.7L1293.5 428.1L1300.1 432.5L1305.1 431.9L1310.1 435.7L1313.4 435.2L1318.3 434.9L1323.3 430.5L1326.6 428.9L1329.9 437.2L1334.9 437.8L1338.2 434.5L1343.1 438.6L1346.4 436.7L1346.4 457.8L1343.1 460.2L1338.2 455.5L1334.9 457.6L1329.9 458.2L1326.6 451.5L1323.3 452.6L1318.3 453.9L1313.4 456.1L1310.1 459.1L1305.1 453.2L1300.1 450.6L1293.5 451.7L1288.6 452.2L1281.9 449L1277 444.7L1272 446.3L1267.1 438.4L1263.8 439.2L1258.8 445.5L1253.8 439.6L1248.9 430.8L1245.6 432.7L1240.6 430L1234 423.8L1229 410.9L1225.7 413.1L1220.8 412.3L1216.8 403.9L1212.5 401.3L1209.2 395.3L1204.2 391.2L1199.3 382.4L1194.3 377.6L1189.4 371.3L1184.4 368.4L1179.4 362.2L1175.1 359.4L1171.8 351.8L1168.5 347.1L1164.6 353.2L1161.2 349.8L1156.3 350.4L1151.3 347L1146.4 348L1141.4 351.4L1136.4 364.9L1131.5 386.1L1126.5 407.1L1121.6 424.8L1114.9 446.5L1109 459.9L1104.4 467.8L1098.4 472.9L1091.8 477.7L1085.2 485.4L1080.2 496.7L1073.6 501.1L1068.7 496.8L1062 503L1055.4 502L1045.5 502.3z" fill="#cbcbcb" stroke="#d5d5e8" stroke-width="0.6"/><path d="M1045.5 491.7L1055.4 491.1L1062 491.7L1068.7 487.8L1073.6 490.1L1080.2 485.4L1085.2 476.2L1091.8 466.3L1098.4 461.3L1104.4 458L1109 448.1L1114.9 433.2L1121.6 413.4L1126.5 393.5L1131.5 370.4L1136.4 350.5L1141.4 337.3L1146.4 331.3L1151.3 330L1156.3 335.6L1161.2 334.7L1164.6 336.6L1168.5 330.7L1171.8 337.3L1175.1 346.6L1179.4 348.9L1184.4 353.8L1189.4 358.8L1194.3 367.1L1199.3 370.4L1204.2 378.6L1209.2 385.3L1212.5 391.9L1216.8 392.9L1220.8 400.1L1225.7 402.8L1229 401.8L1234 413.4L1240.6 418.3L1245.6 423.3L1248.9 421.6L1253.8 428.2L1258.8 433.9L1263.8 429.9L1267.1 429.2L1272 434.9L1277 433.2L1281.9 439.8L1288.6 441.5L1293.5 439.8L1300.1 441.5L1305.1 443.1L1310.1 447.1L1313.4 444.8L1318.3 444.8L1323.3 442.5L1326.6 439.8L1329.9 446.4L1334.9 448.1L1338.2 446.4L1343.1 449.1L1346.4 445.8" fill="none" stroke="#111" stroke-width="2.4" stroke-linejoin="round"/><path d="M1111.2 23.1V517.5" stroke="#222" stroke-width="1"/><path d="M1043.9 299.8V517.5H1343" fill="none" stroke="#222" stroke-width="1.2"/><path d="M1183.7 517.5v-4M1254.4 517.5v-4M1326.7 517.5v-4M1043.9 315.8h4M1043.9 372h4M1043.9 432h4M1043.9 491.7h4" stroke="#222" stroke-width="1.1" fill="none"/><text x="1035.5" y="323.8" font-size="25" fill="#222" text-anchor="end">1.2</text><text x="1035.5" y="382" font-size="25" fill="#222" text-anchor="end">0.8</text><text x="1035.5" y="441.5" font-size="25" fill="#222" text-anchor="end">0.4</text><text x="1024.5" y="501" font-size="25" fill="#222" text-anchor="end">0</text><text x="1034" y="544" font-size="26" fill="#222" text-anchor="middle">-1</text><text x="1111" y="544" font-size="26" fill="#222" text-anchor="middle">0</text><text x="1183" y="544" font-size="26" fill="#222" text-anchor="middle">1</text><text x="1256" y="544" font-size="26" fill="#222" text-anchor="middle">2</text><text x="1327" y="544" font-size="26" fill="#222" text-anchor="middle">3</text><text x="1037.2" y="572" font-size="29.3" fill="#222">Time from tone onset (s)</text><text transform="translate(950 420) rotate(-90)" font-size="29.8" fill="#222" text-anchor="middle">Neuronal</text><text transform="translate(987 420) rotate(-90)" font-size="29.8" fill="#222" text-anchor="middle">Z-Score&#160;&#160;Δ F/F</text><circle cx="1602.9" cy="169.5" r="136.3" fill="#fff" stroke="#000" stroke-width="1.3"/><path d="M1602.9 169.5L1602.9 33.2A136.3 136.3 0 0 1 1717.8 96.1z" fill="#000"/><path d="M1602.9 169.5L1717.8 96.1A136.3 136.3 0 0 1 1727.1 113.3z" fill="#58595b"/><path d="M1602.9 169.5L1727.1 113.3A136.3 136.3 0 0 1 1731.1 123.3z" fill="#a7a9ac"/><path d="M1602.9 169.5L1731.1 123.3A136.3 136.3 0 0 1 1739.1 163.6z" fill="#7f2a8d"/><path d="M1602.9 169.5L1739.1 163.6A136.3 136.3 0 0 1 1739 176.6z" fill="#e9a94a"/><circle cx="1602.9" cy="169.5" r="136.3" fill="none" stroke="#000" stroke-width="1.3"/><text x="1600.5" y="372" font-size="30.8" fill="#000" text-anchor="middle">Total=395</text><rect x="1433.4" y="411.1" width="13.7" height="13.7" fill="#000"/><text x="1451.5" y="426.6" font-size="24.3" fill="#000">15.95%</text><text x="1540.3" y="426.6" font-size="24.3" fill="#000">Tone only</text><rect x="1433.4" y="436.5" width="13.7" height="13.7" fill="#58595b"/><text x="1451.5" y="452" font-size="24.3" fill="#000">2.28%</text><text x="1540.3" y="452" font-size="24.3" fill="#000">White noise + Tone</text><rect x="1433.4" y="461.9" width="13.7" height="13.7" fill="#a7a9ac"/><text x="1451.5" y="477.4" font-size="24.3" fill="#000">1.27%</text><text x="1540.3" y="477.4" font-size="24.3" fill="#000">White noise</text><rect x="1433.4" y="487.4" width="13.7" height="13.7" fill="#7f2a8d"/><text x="1451.5" y="502.9" font-size="24.3" fill="#000">4.81%</text><text x="1540.3" y="502.9" font-size="24.3" fill="#000">Reward</text><rect x="1433.4" y="512.8" width="13.7" height="13.7" fill="#e9a94a"/><text x="1451.5" y="528.3" font-size="24.3" fill="#000">1.52%</text><text x="1540.3" y="528.3" font-size="24.3" fill="#000">No reward</text><rect x="1433.4" y="538.2" width="13.7" height="13.7" fill="#fff" stroke="#888" stroke-width="0.8"/><text x="1451.5" y="553.7" font-size="24.3" fill="#000">74.18%</text><text x="1540.3" y="553.7" font-size="24.3" fill="#000">Other</text>
</g>
<g>
<text x="3" y="664" font-size="54" font-weight="bold" fill="#231f20">d</text><rect x="293" y="644.7" width="358.1" height="342" fill="#252324" stroke="#1a1819" stroke-width="0.8"/><g fill="#78b37c"><ellipse cx="412" cy="703.4" rx="3.8" ry="7.6" transform="rotate(-25 412 703.4)"/><ellipse cx="442.2" cy="749.8" rx="5.6" ry="5.6"/><ellipse cx="532.7" cy="754.1" rx="7.6" ry="5.1" transform="rotate(5 532.7 754.1)"/><ellipse cx="392.7" cy="774.6" rx="4.6" ry="5.1"/><ellipse cx="386.1" cy="791.1" rx="6.6" ry="3.8" transform="rotate(-25 386.1 791.1)"/><ellipse cx="350.3" cy="791.8" rx="3.8" ry="8.9" transform="rotate(5 350.3 791.8)"/><ellipse cx="428.1" cy="823.6" rx="5.6" ry="6.4" transform="rotate(-20 428.1 823.6)"/><ellipse cx="541.2" cy="826.4" rx="6.4" ry="9.7" transform="rotate(10 541.2 826.4)"/><ellipse cx="562.4" cy="846" rx="7.1" ry="7.6" transform="rotate(10 562.4 846)"/><ellipse cx="416.3" cy="846" rx="10.7" ry="5.6" transform="rotate(-30 416.3 846)"/><ellipse cx="412.7" cy="856.1" rx="6.1" ry="8.7" transform="rotate(-15 412.7 856.1)"/><ellipse cx="396.7" cy="860.9" rx="6.4" ry="5.1" transform="rotate(20 396.7 860.9)"/><ellipse cx="371.5" cy="867.9" rx="5.6" ry="5.1"/><ellipse cx="405" cy="875.5" rx="7.1" ry="6.1"/><ellipse cx="468.6" cy="873.1" rx="7.6" ry="5.1" transform="rotate(10 468.6 873.1)"/><ellipse cx="421.5" cy="890.8" rx="7.1" ry="10.2" transform="rotate(-15 421.5 890.8)"/><ellipse cx="423.3" cy="902.6" rx="5.1" ry="7.6"/><ellipse cx="342.5" cy="873.6" rx="1.8" ry="6.4" transform="rotate(-30 342.5 873.6)"/><ellipse cx="485.1" cy="919.1" rx="5.1" ry="5.1"/><ellipse cx="489.8" cy="926.2" rx="3.6" ry="3.1"/></g><g fill="#fdf35c"><ellipse cx="462.7" cy="716.3" rx="6.9" ry="9.4"/><ellipse cx="417.2" cy="748.6" rx="8.9" ry="7.6"/><ellipse cx="472.1" cy="734" rx="6.4" ry="7.1"/><ellipse cx="469.8" cy="749.3" rx="7.1" ry="18.3" transform="rotate(5 469.8 749.3)"/><ellipse cx="456.8" cy="767" rx="7.6" ry="12.2" transform="rotate(25 456.8 767)"/><ellipse cx="448.6" cy="781.2" rx="8.9" ry="10.7" transform="rotate(30 448.6 781.2)"/><ellipse cx="440.3" cy="790.6" rx="8.1" ry="5.1" transform="rotate(-20 440.3 790.6)"/><ellipse cx="455.6" cy="798.9" rx="7.1" ry="7.6"/><ellipse cx="428.1" cy="799.6" rx="7.1" ry="9.7"/><ellipse cx="414.9" cy="785.9" rx="5.1" ry="8.9"/><ellipse cx="413.2" cy="772.9" rx="7.1" ry="10.2"/><ellipse cx="400.2" cy="797.7" rx="7.6" ry="5.6"/><ellipse cx="396.7" cy="807.1" rx="6.4" ry="6.4"/><ellipse cx="406.1" cy="817.7" rx="6.4" ry="5.1" transform="rotate(-20 406.1 817.7)"/><ellipse cx="500.4" cy="745.8" rx="5.6" ry="5.6"/><ellipse cx="495.7" cy="761.1" rx="7.1" ry="6.4"/><ellipse cx="512.2" cy="762.8" rx="8.1" ry="4.6" transform="rotate(10 512.2 762.8)"/><ellipse cx="480.4" cy="774.1" rx="5.6" ry="6.4"/><ellipse cx="578.2" cy="738.7" rx="17.3" ry="7.1" transform="rotate(-35 578.2 738.7)"/><ellipse cx="577.5" cy="760" rx="15.8" ry="6.6" transform="rotate(-32 577.5 760)"/><ellipse cx="587.7" cy="775.7" rx="8.9" ry="6.4"/><ellipse cx="548.8" cy="781.2" rx="15.3" ry="5.6"/><ellipse cx="595.9" cy="800" rx="11.5" ry="7.1" transform="rotate(-10 595.9 800)"/><ellipse cx="579.4" cy="803.6" rx="10.2" ry="8.9"/><ellipse cx="558.2" cy="800" rx="6.4" ry="7.6"/><ellipse cx="377.8" cy="835.4" rx="8.1" ry="7.6" transform="rotate(30 377.8 835.4)"/><ellipse cx="326" cy="849.5" rx="5.6" ry="10.7" transform="rotate(-20 326 849.5)"/><ellipse cx="331.9" cy="864.9" rx="3.6" ry="7.1" transform="rotate(-20 331.9 864.9)"/><ellipse cx="466.3" cy="835.4" rx="8.9" ry="6.4" transform="rotate(25 466.3 835.4)"/><ellipse cx="502.8" cy="847.2" rx="7.1" ry="12.7" transform="rotate(-5 502.8 847.2)"/><ellipse cx="521.7" cy="849.5" rx="7.1" ry="8.1"/><ellipse cx="544.1" cy="858.5" rx="6.9" ry="7.6"/><ellipse cx="479.2" cy="857.8" rx="8.9" ry="4.6" transform="rotate(-10 479.2 857.8)"/><ellipse cx="545.2" cy="876.7" rx="6.4" ry="6.4"/><ellipse cx="591.2" cy="877.8" rx="5.6" ry="5.6"/><ellipse cx="481.6" cy="888.4" rx="8.9" ry="10.2" transform="rotate(20 481.6 888.4)"/><ellipse cx="509.2" cy="892" rx="5.1" ry="5.1"/><ellipse cx="455.6" cy="896.7" rx="8.9" ry="5.1"/><ellipse cx="492.2" cy="896.7" rx="6.4" ry="5.6"/><ellipse cx="532.3" cy="893.2" rx="8.9" ry="8.9"/><ellipse cx="544.1" cy="901.4" rx="10.2" ry="10.2"/><ellipse cx="551.1" cy="909.7" rx="7.1" ry="5.6"/><ellipse cx="459.6" cy="920.7" rx="14" ry="6.1" transform="rotate(5 459.6 920.7)"/><ellipse cx="429" cy="922.6" rx="4.1" ry="4.1" transform="rotate(45 429 922.6)"/></g><g fill="#7fb955"><ellipse cx="588.8" cy="736.8" rx="15.8" ry="5.6" transform="rotate(-32 588.8 736.8)"/></g><g fill="#5ea353"><ellipse cx="586" cy="810.6" rx="7.6" ry="7.6"/></g><g fill="#b8232a" opacity="0.9"><ellipse cx="481.1" cy="672.3" rx="9.2" ry="13.2" transform="rotate(-8 481.1 672.3)"/><ellipse cx="506.8" cy="681" rx="10.7" ry="8.1" transform="rotate(5 506.8 681)"/><ellipse cx="531.8" cy="684.5" rx="8.9" ry="13.2" transform="rotate(5 531.8 684.5)"/><ellipse cx="547.6" cy="691.6" rx="8.9" ry="10.2" transform="rotate(-20 547.6 691.6)"/><ellipse cx="562.9" cy="696.3" rx="7.6" ry="11.5" transform="rotate(-5 562.9 696.3)"/><ellipse cx="421.5" cy="706.9" rx="5.1" ry="7.6" transform="rotate(-10 421.5 706.9)"/><ellipse cx="440.3" cy="725.8" rx="8.9" ry="14"/><ellipse cx="481.6" cy="721.1" rx="7.1" ry="7.1"/><ellipse cx="533.4" cy="723.4" rx="9.7" ry="10.7" transform="rotate(-20 533.4 723.4)"/><ellipse cx="483.9" cy="751.7" rx="9.7" ry="8.9" transform="rotate(-20 483.9 751.7)"/><ellipse cx="598.3" cy="757.6" rx="7.6" ry="12.7"/><ellipse cx="416.7" cy="771.7" rx="7.1" ry="6.4"/><ellipse cx="487.9" cy="770.6" rx="5.6" ry="6.4"/><ellipse cx="533.4" cy="783.5" rx="8.9" ry="7.1"/><ellipse cx="362" cy="783.5" rx="7.1" ry="5.6" transform="rotate(10 362 783.5)"/><ellipse cx="381.4" cy="801.2" rx="7.6" ry="7.1" transform="rotate(20 381.4 801.2)"/><ellipse cx="511" cy="797.7" rx="9.7" ry="8.9"/><ellipse cx="546.4" cy="801.2" rx="8.9" ry="5.6"/><ellipse cx="565.3" cy="802.4" rx="6.6" ry="16.6" transform="rotate(5 565.3 802.4)"/><ellipse cx="488.6" cy="810.6" rx="8.4" ry="8.1" transform="rotate(-20 488.6 810.6)"/><ellipse cx="408.5" cy="814.2" rx="7.6" ry="5.6" transform="rotate(20 408.5 814.2)"/><ellipse cx="392.7" cy="817.7" rx="7.1" ry="7.6"/><ellipse cx="475.2" cy="830.7" rx="5.6" ry="6.4" transform="rotate(-20 475.2 830.7)"/><ellipse cx="393.2" cy="841.3" rx="8.9" ry="7.6"/><ellipse cx="407.3" cy="838.9" rx="8.9" ry="7.1" transform="rotate(20 407.3 838.9)"/><ellipse cx="455.6" cy="848.4" rx="9.7" ry="5.1" transform="rotate(35 455.6 848.4)"/><ellipse cx="388" cy="859" rx="7.1" ry="6.4"/><ellipse cx="472.9" cy="865.6" rx="11.5" ry="5.1" transform="rotate(5 472.9 865.6)"/><ellipse cx="514.6" cy="865.6" rx="7.6" ry="7.1"/><ellipse cx="381.4" cy="899.5" rx="12.2" ry="9.2" transform="rotate(30 381.4 899.5)"/><ellipse cx="413.2" cy="897.2" rx="5.6" ry="5.6"/><ellipse cx="473.3" cy="904.9" rx="11.5" ry="5.6"/><ellipse cx="485.6" cy="903.8" rx="5.1" ry="7.6" transform="rotate(10 485.6 903.8)"/><ellipse cx="565.3" cy="886.1" rx="9.7" ry="10.2"/><ellipse cx="555.8" cy="895.5" rx="7.1" ry="5.6"/><ellipse cx="528.7" cy="920.3" rx="6.6" ry="8.1"/></g><path d="M584.4 903.1c5 -12 19 -12 19 -2c0 9 -12 12 -19 22c-3.5 -7 -3.5 -13.5 0 -20z" fill="#59a657"/><g shape-rendering="crispEdges"><path fill="#3e26a8" d="M195.6 1113H199.5V1123.7H195.6zM202.8 1113H217.5V1123.7H202.8zM228 1113H231.9V1123.7H228z"/>
<path fill="#402ab4" d="M199.2 1113H203.1V1123.7H199.2zM217.2 1113H228.3V1123.7H217.2z"/>
<path fill="#422ec0" d="M174 1113H177.9V1123.7H174zM192 1113H195.9V1123.7H192z"/>
<path fill="#4332cb" d="M184.8 1113H192.3V1123.7H184.8z"/>
<path fill="#4537d5" d="M177.6 1113H181.5V1123.7H177.6z"/>
<path fill="#463cde" d="M170.4 1113H174.3V1123.7H170.4zM181.2 1113H185.1V1123.7H181.2zM231.6 1113H235.5V1123.7H231.6zM422.4 1113H426.3V1123.7H422.4zM199.2 1290.3H203.1V1301H199.2z"/>
<path fill="#4741e5" d="M145.2 1113H149.1V1123.7H145.2zM159.6 1113H170.7V1123.7H159.6zM235.2 1113H242.7V1123.7H235.2zM418.8 1113H422.7V1123.7H418.8z"/>
<path fill="#4747eb" d="M148.8 1060.8H152.7V1071.6H148.8zM159.6 1060.8H163.5V1071.6H159.6zM166.8 1060.8H170.7V1071.6H166.8zM174 1060.8H177.9V1071.6H174zM181.2 1060.8H185.1V1071.6H181.2zM152.4 1113H159.9V1123.7H152.4zM242.4 1113H246.3V1123.7H242.4zM429.6 1113H433.6V1123.7H429.6zM163.2 1290.3H167.1V1301H163.2zM170.4 1290.3H174.3V1301H170.4zM195.6 1290.3H199.5V1301H195.6zM202.8 1290.3H210.3V1301H202.8zM404.4 1290.3H408.3V1301H404.4zM418.8 1290.3H422.7V1301H418.8z"/>
<path fill="#484df0" d="M152.4 1060.8H159.9V1071.6H152.4zM163.2 1060.8H167.1V1071.6H163.2zM170.4 1060.8H174.3V1071.6H170.4zM177.6 1060.8H181.5V1071.6H177.6zM192 1060.8H195.9V1071.6H192zM148.8 1113H152.7V1123.7H148.8zM246 1113H253.5V1123.7H246zM382.8 1113H386.7V1123.7H382.8zM404.4 1113H408.3V1123.7H404.4zM166.8 1290.3H170.7V1301H166.8zM177.6 1290.3H192.3V1301H177.6zM210 1290.3H213.9V1301H210zM375.6 1290.3H379.5V1301H375.6zM390 1290.3H393.9V1301H390zM397.2 1290.3H404.7V1301H397.2zM422.4 1290.3H426.3V1301H422.4z"/>
<path fill="#4852f4" d="M188.4 1060.8H192.3V1071.6H188.4zM415.2 1113H419.1V1123.7H415.2zM145.2 1290.3H149.1V1301H145.2zM152.4 1290.3H159.9V1301H152.4zM192 1290.3H195.9V1301H192zM213.6 1290.3H217.5V1301H213.6zM357.6 1290.3H365.1V1301H357.6zM368.4 1290.3H372.3V1301H368.4zM393.6 1290.3H397.5V1301H393.6zM415.2 1290.3H419.1V1301H415.2zM426 1290.3H429.9V1301H426z"/>
<path fill="#4758f8" d="M354 1113H357.9V1123.7H354zM364.8 1113H368.7V1123.7H364.8zM372 1113H379.5V1123.7H372zM393.6 1113H397.5V1123.7H393.6zM400.8 1113H404.7V1123.7H400.8zM408 1113H415.5V1123.7H408zM426 1113H429.9V1123.7H426zM148.8 1290.3H152.7V1301H148.8zM159.6 1290.3H163.5V1301H159.6zM174 1290.3H177.9V1301H174zM321.6 1290.3H332.7V1301H321.6zM336 1290.3H339.9V1301H336zM343.2 1290.3H350.7V1301H343.2zM354 1290.3H357.9V1301H354zM372 1290.3H375.9V1301H372zM379.2 1290.3H383.1V1301H379.2zM408 1290.3H415.5V1301H408z"/>
<path fill="#465efb" d="M184.8 1060.8H188.7V1071.6H184.8zM271.2 1113H275.1V1123.7H271.2zM368.4 1113H372.3V1123.7H368.4zM386.4 1113H393.9V1123.7H386.4zM307.2 1290.3H311.1V1301H307.2zM339.6 1290.3H343.5V1301H339.6zM350.4 1290.3H354.3V1301H350.4zM364.8 1290.3H368.7V1301H364.8zM382.8 1290.3H390.3V1301H382.8zM429.6 1290.3H433.6V1301H429.6z"/>
<path fill="#4563fd" d="M145.2 1060.8H149.1V1071.6H145.2zM195.6 1060.8H199.5V1071.6H195.6zM206.4 1060.8H210.3V1071.6H206.4zM253.2 1113H257.1V1123.7H253.2zM267.6 1113H271.5V1123.7H267.6zM379.2 1113H383.1V1123.7H379.2zM170.4 1175.6H174.3V1186.3H170.4zM303.6 1175.6H307.5V1186.3H303.6zM364.8 1175.6H368.7V1186.3H364.8zM217.2 1290.3H221.1V1301H217.2zM332.4 1290.3H336.3V1301H332.4zM213.6 1300.7H217.5V1311.5H213.6z"/>
<path fill="#4269fe" d="M202.8 1060.8H206.7V1071.6H202.8zM210 1060.8H213.9V1071.6H210zM346.8 1060.8H350.7V1071.6H346.8zM364.8 1060.8H368.7V1071.6H364.8zM393.6 1060.8H397.5V1071.6H393.6zM422.4 1060.8H426.3V1071.6H422.4zM264 1113H267.9V1123.7H264zM274.8 1113H278.7V1123.7H274.8zM310.8 1113H318.3V1123.7H310.8zM321.6 1113H332.7V1123.7H321.6zM336 1113H339.9V1123.7H336zM343.2 1113H354.3V1123.7H343.2zM357.6 1113H365.1V1123.7H357.6zM397.2 1113H401.1V1123.7H397.2zM289.2 1175.6H293.1V1186.3H289.2zM343.2 1175.6H347.1V1186.3H343.2zM382.8 1175.6H386.7V1186.3H382.8zM296.4 1290.3H300.3V1301H296.4zM314.4 1290.3H321.9V1301H314.4zM145.2 1300.7H149.1V1311.5H145.2zM166.8 1300.7H170.7V1311.5H166.8zM188.4 1300.7H195.9V1311.5H188.4zM202.8 1300.7H213.9V1311.5H202.8z"/>
<path fill="#3e6fff" d="M199.2 1060.8H203.1V1071.6H199.2zM368.4 1060.8H375.9V1071.6H368.4zM382.8 1060.8H390.3V1071.6H382.8zM400.8 1060.8H404.7V1071.6H400.8zM426 1060.8H429.9V1071.6H426zM256.8 1113H260.7V1123.7H256.8zM307.2 1113H311.1V1123.7H307.2zM332.4 1113H336.3V1123.7H332.4zM339.6 1113H343.5V1123.7H339.6zM166.8 1175.6H170.7V1186.3H166.8zM181.2 1175.6H185.1V1186.3H181.2zM202.8 1175.6H206.7V1186.3H202.8zM285.6 1175.6H289.5V1186.3H285.6zM292.8 1175.6H300.3V1186.3H292.8zM321.6 1175.6H325.5V1186.3H321.6zM336 1175.6H343.5V1186.3H336zM372 1175.6H375.9V1186.3H372zM379.2 1175.6H383.1V1186.3H379.2zM386.4 1175.6H390.3V1186.3H386.4zM224.4 1217.3H228.3V1228H224.4zM310.8 1290.3H314.7V1301H310.8zM148.8 1300.7H152.7V1311.5H148.8zM163.2 1300.7H167.1V1311.5H163.2zM170.4 1300.7H177.9V1311.5H170.4zM184.8 1300.7H188.7V1311.5H184.8z"/>
<path fill="#3875fe" d="M354 1060.8H361.5V1071.6H354zM375.6 1060.8H379.5V1071.6H375.6zM418.8 1060.8H422.7V1071.6H418.8zM429.6 1060.8H433.6V1071.6H429.6zM318 1071.3H321.9V1082H318zM354 1071.3H361.5V1082H354zM260.4 1113H264.3V1123.7H260.4zM285.6 1113H307.5V1123.7H285.6zM346.8 1133.8H350.7V1144.6H346.8zM188.4 1175.6H195.9V1186.3H188.4zM206.4 1175.6H210.3V1186.3H206.4zM307.2 1175.6H311.1V1186.3H307.2zM318 1175.6H321.9V1186.3H318zM354 1175.6H357.9V1186.3H354zM361.2 1175.6H365.1V1186.3H361.2zM368.4 1175.6H372.3V1186.3H368.4zM375.6 1175.6H379.5V1186.3H375.6zM174 1217.3H177.9V1228H174zM336 1217.3H339.9V1228H336zM220.8 1290.3H224.7V1301H220.8zM300 1290.3H307.5V1301H300zM177.6 1300.7H181.5V1311.5H177.6zM195.6 1300.7H203.1V1311.5H195.6z"/>
<path fill="#327cfc" d="M213.6 1060.8H224.7V1071.6H213.6zM328.8 1060.8H332.7V1071.6H328.8zM350.4 1060.8H354.3V1071.6H350.4zM361.2 1060.8H365.1V1071.6H361.2zM379.2 1060.8H383.1V1071.6H379.2zM390 1060.8H393.9V1071.6H390zM404.4 1060.8H411.9V1071.6H404.4zM321.6 1071.3H325.5V1082H321.6zM346.8 1071.3H350.7V1082H346.8zM145.2 1081.7H149.1V1092.4H145.2zM188.4 1081.7H192.3V1092.4H188.4zM199.2 1081.7H203.1V1092.4H199.2zM210 1081.7H213.9V1092.4H210zM278.4 1113H285.9V1123.7H278.4zM318 1113H321.9V1123.7H318zM159.6 1175.6H167.1V1186.3H159.6zM174 1175.6H181.5V1186.3H174zM184.8 1175.6H188.7V1186.3H184.8zM210 1175.6H213.9V1186.3H210zM282 1175.6H285.9V1186.3H282zM300 1175.6H303.9V1186.3H300zM325.2 1175.6H336.3V1186.3H325.2zM357.6 1175.6H361.5V1186.3H357.6zM393.6 1175.6H397.5V1186.3H393.6zM375.6 1186H379.5V1196.7H375.6zM159.6 1217.3H167.1V1228H159.6zM357.6 1217.3H361.5V1228H357.6zM206.4 1248.6H213.9V1259.3H206.4zM220.8 1248.6H224.7V1259.3H220.8zM289.2 1290.3H296.7V1301H289.2zM152.4 1300.7H159.9V1311.5H152.4zM181.2 1300.7H185.1V1311.5H181.2z"/>
<path fill="#2f81fa" d="M336 1060.8H339.9V1071.6H336zM343.2 1060.8H347.1V1071.6H343.2zM397.2 1060.8H401.1V1071.6H397.2zM415.2 1060.8H419.1V1071.6H415.2zM314.4 1071.3H318.3V1082H314.4zM336 1071.3H347.1V1082H336zM361.2 1071.3H365.1V1082H361.2zM177.6 1081.7H181.5V1092.4H177.6zM202.8 1081.7H210.3V1092.4H202.8zM343.2 1133.8H347.1V1144.6H343.2zM354 1133.8H357.9V1144.6H354zM145.2 1175.6H159.9V1186.3H145.2zM195.6 1175.6H203.1V1186.3H195.6zM213.6 1175.6H217.5V1186.3H213.6zM310.8 1175.6H314.7V1186.3H310.8zM346.8 1175.6H354.3V1186.3H346.8zM390 1175.6H393.9V1186.3H390zM397.2 1175.6H401.1V1186.3H397.2zM314.4 1186H318.3V1196.7H314.4zM346.8 1186H354.3V1196.7H346.8zM372 1186H375.9V1196.7H372zM393.6 1186H397.5V1196.7H393.6zM170.4 1217.3H174.3V1228H170.4zM192 1217.3H195.9V1228H192zM199.2 1217.3H206.7V1228H199.2zM339.6 1217.3H343.5V1228H339.6zM350.4 1217.3H357.9V1228H350.4zM364.8 1217.3H368.7V1228H364.8zM375.6 1217.3H379.5V1228H375.6zM429.6 1217.3H433.6V1228H429.6zM202.8 1248.6H206.7V1259.3H202.8zM357.6 1248.6H361.5V1259.3H357.6zM364.8 1248.6H368.7V1259.3H364.8zM285.6 1290.3H289.5V1301H285.6z"/>
<path fill="#2e87f7" d="M224.4 1060.8H231.9V1071.6H224.4zM325.2 1060.8H329.1V1071.6H325.2zM332.4 1060.8H336.3V1071.6H332.4zM339.6 1060.8H343.5V1071.6H339.6zM411.6 1060.8H415.5V1071.6H411.6zM328.8 1071.3H332.7V1082H328.8zM350.4 1071.3H354.3V1082H350.4zM148.8 1081.7H152.7V1092.4H148.8zM159.6 1081.7H163.5V1092.4H159.6zM170.4 1081.7H174.3V1092.4H170.4zM181.2 1081.7H185.1V1092.4H181.2zM192 1081.7H199.5V1092.4H192zM339.6 1133.8H343.5V1144.6H339.6zM274.8 1175.6H282.3V1186.3H274.8zM314.4 1175.6H318.3V1186.3H314.4zM400.8 1175.6H404.7V1186.3H400.8zM318 1186H325.5V1196.7H318zM328.8 1186H332.7V1196.7H328.8zM354 1186H365.1V1196.7H354zM368.4 1186H372.3V1196.7H368.4zM386.4 1186H390.3V1196.7H386.4zM397.2 1186H401.1V1196.7H397.2zM408 1186H415.5V1196.7H408zM148.8 1217.3H152.7V1228H148.8zM156 1217.3H159.9V1228H156zM166.8 1217.3H170.7V1228H166.8zM177.6 1217.3H185.1V1228H177.6zM195.6 1217.3H199.5V1228H195.6zM206.4 1217.3H224.7V1228H206.4zM228 1217.3H231.9V1228H228zM343.2 1217.3H347.1V1228H343.2zM361.2 1217.3H365.1V1228H361.2zM372 1217.3H375.9V1228H372zM415.2 1217.3H419.1V1228H415.2zM422.4 1217.3H429.9V1228H422.4zM177.6 1248.6H181.5V1259.3H177.6zM213.6 1248.6H217.5V1259.3H213.6zM325.2 1248.6H329.1V1259.3H325.2zM145.2 1279.9H149.1V1290.6H145.2zM228 1290.3H231.9V1301H228zM282 1290.3H285.9V1301H282zM159.6 1300.7H163.5V1311.5H159.6zM217.2 1300.7H221.1V1311.5H217.2zM350.4 1300.7H354.3V1311.5H350.4zM390 1300.7H393.9V1311.5H390zM415.2 1300.7H419.1V1311.5H415.2z"/>
<path fill="#2d8cf3" d="M231.6 1060.8H235.5V1071.6H231.6zM307.2 1060.8H311.1V1071.6H307.2zM314.4 1060.8H318.3V1071.6H314.4zM321.6 1060.8H325.5V1071.6H321.6zM148.8 1071.3H159.9V1082H148.8zM325.2 1071.3H329.1V1082H325.2zM364.8 1071.3H368.7V1082H364.8zM156 1081.7H159.9V1092.4H156zM163.2 1081.7H167.1V1092.4H163.2zM174 1081.7H177.9V1092.4H174zM184.8 1081.7H188.7V1092.4H184.8zM213.6 1081.7H217.5V1092.4H213.6zM354 1092.1H357.9V1102.9H354zM422.4 1092.1H426.3V1102.9H422.4zM343.2 1102.6H347.1V1113.3H343.2zM321.6 1133.8H325.5V1144.6H321.6zM332.4 1133.8H336.3V1144.6H332.4zM350.4 1133.8H354.3V1144.6H350.4zM357.6 1133.8H361.5V1144.6H357.6zM163.2 1144.3H167.1V1155H163.2zM174 1144.3H177.9V1155H174zM213.6 1144.3H217.5V1155H213.6zM217.2 1175.6H224.7V1186.3H217.2zM404.4 1175.6H408.3V1186.3H404.4zM231.6 1186H235.5V1196.7H231.6zM310.8 1186H314.7V1196.7H310.8zM325.2 1186H329.1V1196.7H325.2zM336 1186H339.9V1196.7H336zM379.2 1186H383.1V1196.7H379.2zM400.8 1186H408.3V1196.7H400.8zM415.2 1186H419.1V1196.7H415.2zM145.2 1217.3H149.1V1228H145.2zM152.4 1217.3H156.3V1228H152.4zM184.8 1217.3H188.7V1228H184.8zM231.6 1217.3H239.1V1228H231.6zM346.8 1217.3H350.7V1228H346.8zM418.8 1217.3H422.7V1228H418.8zM159.6 1248.6H163.5V1259.3H159.6zM166.8 1248.6H170.7V1259.3H166.8zM184.8 1248.6H188.7V1259.3H184.8zM217.2 1248.6H221.1V1259.3H217.2zM354 1248.6H357.9V1259.3H354zM152.4 1279.9H156.3V1290.6H152.4zM224.4 1290.3H228.3V1301H224.4zM220.8 1300.7H224.7V1311.5H220.8z"/>
<path fill="#2b91ef" d="M310.8 1060.8H314.7V1071.6H310.8zM318 1060.8H321.9V1071.6H318zM163.2 1071.3H170.7V1082H163.2zM199.2 1071.3H203.1V1082H199.2zM307.2 1071.3H311.1V1082H307.2zM152.4 1081.7H156.3V1092.4H152.4zM166.8 1081.7H170.7V1092.4H166.8zM217.2 1081.7H221.1V1092.4H217.2zM346.8 1092.1H354.3V1102.9H346.8zM357.6 1092.1H361.5V1102.9H357.6zM368.4 1092.1H372.3V1102.9H368.4zM375.6 1092.1H379.5V1102.9H375.6zM393.6 1092.1H404.7V1102.9H393.6zM361.2 1102.6H365.1V1113.3H361.2zM400.8 1102.6H404.7V1113.3H400.8zM199.2 1133.8H203.1V1144.6H199.2zM325.2 1133.8H332.7V1144.6H325.2zM336 1133.8H339.9V1144.6H336zM152.4 1144.3H156.3V1155H152.4zM170.4 1144.3H174.3V1155H170.4zM192 1144.3H199.5V1155H192zM206.4 1144.3H210.3V1155H206.4zM228 1175.6H231.9V1186.3H228zM145.2 1186H152.7V1196.7H145.2zM174 1186H177.9V1196.7H174zM181.2 1186H185.1V1196.7H181.2zM195.6 1186H199.5V1196.7H195.6zM202.8 1186H206.7V1196.7H202.8zM210 1186H213.9V1196.7H210zM217.2 1186H221.1V1196.7H217.2zM228 1186H231.9V1196.7H228zM253.2 1186H260.7V1196.7H253.2zM264 1186H267.9V1196.7H264zM282 1186H285.9V1196.7H282zM292.8 1186H296.7V1196.7H292.8zM300 1186H303.9V1196.7H300zM332.4 1186H336.3V1196.7H332.4zM339.6 1186H347.1V1196.7H339.6zM364.8 1186H368.7V1196.7H364.8zM422.4 1186H426.3V1196.7H422.4zM188.4 1217.3H192.3V1228H188.4zM238.8 1217.3H242.7V1228H238.8zM332.4 1217.3H336.3V1228H332.4zM368.4 1217.3H372.3V1228H368.4zM379.2 1217.3H383.1V1228H379.2zM408 1217.3H415.5V1228H408zM145.2 1248.6H149.1V1259.3H145.2zM174 1248.6H177.9V1259.3H174zM195.6 1248.6H203.1V1259.3H195.6zM318 1248.6H321.9V1259.3H318zM328.8 1248.6H332.7V1259.3H328.8zM361.2 1248.6H365.1V1259.3H361.2zM390 1248.6H393.9V1259.3H390zM418.8 1248.6H422.7V1259.3H418.8zM426 1248.6H433.6V1259.3H426zM292.8 1279.9H296.7V1290.6H292.8zM310.8 1279.9H314.7V1290.6H310.8zM253.2 1290.3H257.1V1301H253.2zM343.2 1300.7H350.7V1311.5H343.2zM368.4 1300.7H372.3V1311.5H368.4zM375.6 1300.7H379.5V1311.5H375.6zM382.8 1300.7H386.7V1311.5H382.8zM393.6 1300.7H401.1V1311.5H393.6z"/>
<path fill="#2797eb" d="M156 1029.5H159.9V1040.3H156zM170.4 1029.5H177.9V1040.3H170.4zM267.6 1060.8H271.5V1071.6H267.6zM282 1060.8H285.9V1071.6H282zM300 1060.8H303.9V1071.6H300zM159.6 1071.3H163.5V1082H159.6zM174 1071.3H177.9V1082H174zM184.8 1071.3H188.7V1082H184.8zM195.6 1071.3H199.5V1082H195.6zM202.8 1071.3H210.3V1082H202.8zM300 1071.3H307.5V1082H300zM310.8 1071.3H314.7V1082H310.8zM332.4 1071.3H336.3V1082H332.4zM364.8 1092.1H368.7V1102.9H364.8zM404.4 1092.1H411.9V1102.9H404.4zM415.2 1092.1H422.7V1102.9H415.2zM426 1092.1H429.9V1102.9H426zM152.4 1102.6H156.3V1113.3H152.4zM292.8 1102.6H296.7V1113.3H292.8zM303.6 1102.6H311.1V1113.3H303.6zM314.4 1102.6H321.9V1113.3H314.4zM336 1102.6H343.5V1113.3H336zM393.6 1102.6H397.5V1113.3H393.6zM408 1102.6H411.9V1113.3H408zM422.4 1102.6H426.3V1113.3H422.4zM361.2 1133.8H365.1V1144.6H361.2zM145.2 1144.3H149.1V1155H145.2zM177.6 1144.3H181.5V1155H177.6zM188.4 1144.3H192.3V1155H188.4zM199.2 1144.3H206.7V1155H199.2zM210 1144.3H213.9V1155H210zM368.4 1165.1H372.3V1175.9H368.4zM375.6 1165.1H379.5V1175.9H375.6zM242.4 1175.6H246.3V1186.3H242.4zM249.6 1175.6H260.7V1186.3H249.6zM271.2 1175.6H275.1V1186.3H271.2zM159.6 1186H167.1V1196.7H159.6zM170.4 1186H174.3V1196.7H170.4zM177.6 1186H181.5V1196.7H177.6zM188.4 1186H195.9V1196.7H188.4zM206.4 1186H210.3V1196.7H206.4zM213.6 1186H217.5V1196.7H213.6zM235.2 1186H242.7V1196.7H235.2zM271.2 1186H275.1V1196.7H271.2zM278.4 1186H282.3V1196.7H278.4zM296.4 1186H300.3V1196.7H296.4zM303.6 1186H307.5V1196.7H303.6zM382.8 1186H386.7V1196.7H382.8zM390 1186H393.9V1196.7H390zM418.8 1186H422.7V1196.7H418.8zM426 1186H429.9V1196.7H426zM181.2 1196.4H185.1V1207.2H181.2zM188.4 1196.4H192.3V1207.2H188.4zM210 1196.4H213.9V1207.2H210zM267.6 1196.4H271.5V1207.2H267.6zM256.8 1217.3H260.7V1228H256.8zM267.6 1217.3H271.5V1228H267.6zM382.8 1217.3H390.3V1228H382.8zM397.2 1217.3H401.1V1228H397.2zM404.4 1217.3H408.3V1228H404.4zM148.8 1248.6H156.3V1259.3H148.8zM163.2 1248.6H167.1V1259.3H163.2zM170.4 1248.6H174.3V1259.3H170.4zM181.2 1248.6H185.1V1259.3H181.2zM188.4 1248.6H195.9V1259.3H188.4zM224.4 1248.6H228.3V1259.3H224.4zM372 1248.6H375.9V1259.3H372zM397.2 1248.6H404.7V1259.3H397.2zM411.6 1248.6H419.1V1259.3H411.6zM422.4 1248.6H426.3V1259.3H422.4zM148.8 1279.9H152.7V1290.6H148.8zM163.2 1279.9H167.1V1290.6H163.2zM170.4 1279.9H174.3V1290.6H170.4zM307.2 1279.9H311.1V1290.6H307.2zM231.6 1290.3H235.5V1301H231.6zM249.6 1290.3H253.5V1301H249.6zM267.6 1290.3H271.5V1301H267.6zM274.8 1290.3H282.3V1301H274.8zM224.4 1300.7H228.3V1311.5H224.4zM231.6 1300.7H235.5V1311.5H231.6zM364.8 1300.7H368.7V1311.5H364.8zM386.4 1300.7H390.3V1311.5H386.4zM408 1300.7H411.9V1311.5H408zM418.8 1300.7H426.3V1311.5H418.8z"/>
<path fill="#259be8" d="M152.4 1029.5H156.3V1040.3H152.4zM177.6 1029.5H181.5V1040.3H177.6zM188.4 1029.5H195.9V1040.3H188.4zM199.2 1029.5H206.7V1040.3H199.2zM271.2 1060.8H282.3V1071.6H271.2zM285.6 1060.8H293.1V1071.6H285.6zM303.6 1060.8H307.5V1071.6H303.6zM145.2 1071.3H149.1V1082H145.2zM170.4 1071.3H174.3V1082H170.4zM181.2 1071.3H185.1V1082H181.2zM188.4 1071.3H195.9V1082H188.4zM318 1081.7H321.9V1092.4H318zM328.8 1081.7H332.7V1092.4H328.8zM350.4 1081.7H354.3V1092.4H350.4zM364.8 1081.7H368.7V1092.4H364.8zM361.2 1092.1H365.1V1102.9H361.2zM386.4 1092.1H390.3V1102.9H386.4zM429.6 1092.1H433.6V1102.9H429.6zM148.8 1102.6H152.7V1113.3H148.8zM177.6 1102.6H181.5V1113.3H177.6zM202.8 1102.6H206.7V1113.3H202.8zM210 1102.6H213.9V1113.3H210zM220.8 1102.6H228.3V1113.3H220.8zM278.4 1102.6H289.5V1113.3H278.4zM296.4 1102.6H300.3V1113.3H296.4zM310.8 1102.6H314.7V1113.3H310.8zM332.4 1102.6H336.3V1113.3H332.4zM350.4 1102.6H354.3V1113.3H350.4zM379.2 1102.6H386.7V1113.3H379.2zM390 1102.6H393.9V1113.3H390zM418.8 1102.6H422.7V1113.3H418.8zM177.6 1133.8H181.5V1144.6H177.6zM195.6 1133.8H199.5V1144.6H195.6zM307.2 1133.8H311.1V1144.6H307.2zM318 1133.8H321.9V1144.6H318zM148.8 1144.3H152.7V1155H148.8zM156 1144.3H163.5V1155H156zM166.8 1144.3H170.7V1155H166.8zM390 1144.3H393.9V1155H390zM400.8 1144.3H404.7V1155H400.8zM224.4 1175.6H228.3V1186.3H224.4zM238.8 1175.6H242.7V1186.3H238.8zM246 1175.6H249.9V1186.3H246zM267.6 1175.6H271.5V1186.3H267.6zM408 1175.6H422.7V1186.3H408zM152.4 1186H159.9V1196.7H152.4zM166.8 1186H170.7V1196.7H166.8zM184.8 1186H188.7V1196.7H184.8zM199.2 1186H203.1V1196.7H199.2zM220.8 1186H228.3V1196.7H220.8zM246 1186H249.9V1196.7H246zM260.4 1186H264.3V1196.7H260.4zM267.6 1186H271.5V1196.7H267.6zM274.8 1186H278.7V1196.7H274.8zM285.6 1186H289.5V1196.7H285.6zM307.2 1186H311.1V1196.7H307.2zM429.6 1186H433.6V1196.7H429.6zM166.8 1196.4H174.3V1207.2H166.8zM184.8 1196.4H188.7V1207.2H184.8zM217.2 1196.4H224.7V1207.2H217.2zM271.2 1196.4H275.1V1207.2H271.2zM292.8 1196.4H296.7V1207.2H292.8zM307.2 1196.4H311.1V1207.2H307.2zM285.6 1217.3H289.5V1228H285.6zM318 1217.3H321.9V1228H318zM328.8 1217.3H332.7V1228H328.8zM390 1217.3H393.9V1228H390zM400.8 1217.3H404.7V1228H400.8zM156 1248.6H159.9V1259.3H156zM310.8 1248.6H318.3V1259.3H310.8zM321.6 1248.6H325.5V1259.3H321.6zM332.4 1248.6H336.3V1259.3H332.4zM346.8 1248.6H354.3V1259.3H346.8zM368.4 1248.6H372.3V1259.3H368.4zM375.6 1248.6H379.5V1259.3H375.6zM382.8 1248.6H390.3V1259.3H382.8zM404.4 1248.6H408.3V1259.3H404.4zM159.6 1279.9H163.5V1290.6H159.6zM174 1279.9H177.9V1290.6H174zM224.4 1279.9H228.3V1290.6H224.4zM289.2 1279.9H293.1V1290.6H289.2zM303.6 1279.9H307.5V1290.6H303.6zM314.4 1279.9H318.3V1290.6H314.4zM321.6 1279.9H325.5V1290.6H321.6zM404.4 1279.9H411.9V1290.6H404.4zM235.2 1290.3H242.7V1301H235.2zM256.8 1290.3H260.7V1301H256.8zM264 1290.3H267.9V1301H264zM228 1300.7H231.9V1311.5H228zM354 1300.7H365.1V1311.5H354zM372 1300.7H375.9V1311.5H372zM379.2 1300.7H383.1V1311.5H379.2zM400.8 1300.7H404.7V1311.5H400.8zM411.6 1300.7H415.5V1311.5H411.6zM429.6 1300.7H433.6V1311.5H429.6z"/>
<path fill="#23a0e5" d="M159.6 1029.5H163.5V1040.3H159.6zM184.8 1029.5H188.7V1040.3H184.8zM195.6 1029.5H199.5V1040.3H195.6zM206.4 1029.5H210.3V1040.3H206.4zM174 1040H177.9V1050.7H174zM242.4 1050.4H246.3V1061.1H242.4zM372 1050.4H375.9V1061.1H372zM235.2 1060.8H242.7V1071.6H235.2zM264 1060.8H267.9V1071.6H264zM177.6 1071.3H181.5V1082H177.6zM210 1071.3H217.5V1082H210zM220.8 1081.7H224.7V1092.4H220.8zM310.8 1081.7H314.7V1092.4H310.8zM325.2 1081.7H329.1V1092.4H325.2zM336 1081.7H343.5V1092.4H336zM379.2 1081.7H383.1V1092.4H379.2zM386.4 1081.7H397.5V1092.4H386.4zM372 1092.1H375.9V1102.9H372zM379.2 1092.1H386.7V1102.9H379.2zM390 1092.1H393.9V1102.9H390zM411.6 1092.1H415.5V1102.9H411.6zM145.2 1102.6H149.1V1113.3H145.2zM195.6 1102.6H199.5V1113.3H195.6zM217.2 1102.6H221.1V1113.3H217.2zM228 1102.6H231.9V1113.3H228zM271.2 1102.6H278.7V1113.3H271.2zM289.2 1102.6H293.1V1113.3H289.2zM328.8 1102.6H332.7V1113.3H328.8zM346.8 1102.6H350.7V1113.3H346.8zM357.6 1102.6H361.5V1113.3H357.6zM375.6 1102.6H379.5V1113.3H375.6zM397.2 1102.6H401.1V1113.3H397.2zM415.2 1102.6H419.1V1113.3H415.2zM429.6 1102.6H433.6V1113.3H429.6zM159.6 1133.8H163.5V1144.6H159.6zM170.4 1133.8H177.9V1144.6H170.4zM206.4 1133.8H210.3V1144.6H206.4zM213.6 1133.8H221.1V1144.6H213.6zM300 1133.8H303.9V1144.6H300zM310.8 1133.8H318.3V1144.6H310.8zM181.2 1144.3H188.7V1155H181.2zM361.2 1144.3H365.1V1155H361.2zM393.6 1144.3H401.1V1155H393.6zM325.2 1165.1H329.1V1175.9H325.2zM372 1165.1H375.9V1175.9H372zM397.2 1165.1H401.1V1175.9H397.2zM235.2 1175.6H239.1V1186.3H235.2zM264 1175.6H267.9V1186.3H264zM422.4 1175.6H426.3V1186.3H422.4zM242.4 1186H246.3V1196.7H242.4zM249.6 1186H253.5V1196.7H249.6zM148.8 1196.4H152.7V1207.2H148.8zM174 1196.4H177.9V1207.2H174zM195.6 1196.4H199.5V1207.2H195.6zM202.8 1196.4H206.7V1207.2H202.8zM213.6 1196.4H217.5V1207.2H213.6zM231.6 1196.4H239.1V1207.2H231.6zM289.2 1196.4H293.1V1207.2H289.2zM310.8 1196.4H318.3V1207.2H310.8zM242.4 1217.3H249.9V1228H242.4zM253.2 1217.3H257.1V1228H253.2zM260.4 1217.3H264.3V1228H260.4zM282 1217.3H285.9V1228H282zM289.2 1217.3H293.1V1228H289.2zM296.4 1217.3H300.3V1228H296.4zM325.2 1217.3H329.1V1228H325.2zM393.6 1217.3H397.5V1228H393.6zM228 1248.6H231.9V1259.3H228zM296.4 1248.6H300.3V1259.3H296.4zM303.6 1248.6H307.5V1259.3H303.6zM336 1248.6H339.9V1259.3H336zM343.2 1248.6H347.1V1259.3H343.2zM393.6 1248.6H397.5V1259.3H393.6zM408 1248.6H411.9V1259.3H408zM156 1279.9H159.9V1290.6H156zM166.8 1279.9H170.7V1290.6H166.8zM177.6 1279.9H181.5V1290.6H177.6zM188.4 1279.9H192.3V1290.6H188.4zM296.4 1279.9H303.9V1290.6H296.4zM318 1279.9H321.9V1290.6H318zM422.4 1279.9H426.3V1290.6H422.4zM242.4 1290.3H249.9V1301H242.4zM260.4 1290.3H264.3V1301H260.4zM246 1300.7H249.9V1311.5H246zM328.8 1300.7H332.7V1311.5H328.8zM336 1300.7H343.5V1311.5H336zM404.4 1300.7H408.3V1311.5H404.4zM426 1300.7H429.9V1311.5H426z"/>
<path fill="#20a5e3" d="M145.2 1029.5H149.1V1040.3H145.2zM166.8 1029.5H170.7V1040.3H166.8zM181.2 1029.5H185.1V1040.3H181.2zM213.6 1029.5H217.5V1040.3H213.6zM220.8 1029.5H224.7V1040.3H220.8zM372 1029.5H375.9V1040.3H372zM336 1040H339.9V1050.7H336zM361.2 1040H365.1V1050.7H361.2zM156 1050.4H159.9V1061.1H156zM368.4 1050.4H372.3V1061.1H368.4zM400.8 1050.4H404.7V1061.1H400.8zM408 1050.4H411.9V1061.1H408zM415.2 1050.4H419.1V1061.1H415.2zM246 1060.8H249.9V1071.6H246zM253.2 1060.8H257.1V1071.6H253.2zM292.8 1060.8H300.3V1071.6H292.8zM368.4 1071.3H372.3V1082H368.4zM224.4 1081.7H228.3V1092.4H224.4zM314.4 1081.7H318.3V1092.4H314.4zM343.2 1081.7H347.1V1092.4H343.2zM354 1081.7H361.5V1092.4H354zM375.6 1081.7H379.5V1092.4H375.6zM382.8 1081.7H386.7V1092.4H382.8zM397.2 1081.7H401.1V1092.4H397.2zM404.4 1081.7H408.3V1092.4H404.4zM289.2 1092.1H296.7V1102.9H289.2zM310.8 1092.1H314.7V1102.9H310.8zM332.4 1092.1H336.3V1102.9H332.4zM343.2 1092.1H347.1V1102.9H343.2zM181.2 1102.6H185.1V1113.3H181.2zM199.2 1102.6H203.1V1113.3H199.2zM213.6 1102.6H217.5V1113.3H213.6zM231.6 1102.6H235.5V1113.3H231.6zM238.8 1102.6H242.7V1113.3H238.8zM253.2 1102.6H260.7V1113.3H253.2zM264 1102.6H271.5V1113.3H264zM300 1102.6H303.9V1113.3H300zM325.2 1102.6H329.1V1113.3H325.2zM354 1102.6H357.9V1113.3H354zM368.4 1102.6H375.9V1113.3H368.4zM404.4 1102.6H408.3V1113.3H404.4zM411.6 1102.6H415.5V1113.3H411.6zM426 1102.6H429.9V1113.3H426zM148.8 1133.8H156.3V1144.6H148.8zM166.8 1133.8H170.7V1144.6H166.8zM184.8 1133.8H192.3V1144.6H184.8zM303.6 1133.8H307.5V1144.6H303.6zM350.4 1144.3H354.3V1155H350.4zM357.6 1144.3H361.5V1155H357.6zM364.8 1144.3H372.3V1155H364.8zM382.8 1144.3H390.3V1155H382.8zM408 1144.3H411.9V1155H408zM418.8 1144.3H422.7V1155H418.8zM429.6 1144.3H433.6V1155H429.6zM336 1154.7H339.9V1165.4H336zM318 1165.1H321.9V1175.9H318zM339.6 1165.1H343.5V1175.9H339.6zM364.8 1165.1H368.7V1175.9H364.8zM390 1165.1H397.5V1175.9H390zM404.4 1165.1H408.3V1175.9H404.4zM415.2 1165.1H419.1V1175.9H415.2zM231.6 1175.6H235.5V1186.3H231.6zM260.4 1175.6H264.3V1186.3H260.4zM426 1175.6H433.6V1186.3H426zM289.2 1186H293.1V1196.7H289.2zM159.6 1196.4H163.5V1207.2H159.6zM177.6 1196.4H181.5V1207.2H177.6zM199.2 1196.4H203.1V1207.2H199.2zM224.4 1196.4H228.3V1207.2H224.4zM260.4 1196.4H264.3V1207.2H260.4zM285.6 1196.4H289.5V1207.2H285.6zM296.4 1196.4H300.3V1207.2H296.4zM339.6 1196.4H343.5V1207.2H339.6zM372 1196.4H383.1V1207.2H372zM390 1196.4H393.9V1207.2H390zM408 1196.4H419.1V1207.2H408zM202.8 1206.9H206.7V1217.6H202.8zM235.2 1206.9H239.1V1217.6H235.2zM264 1217.3H267.9V1228H264zM292.8 1217.3H296.7V1228H292.8zM300 1217.3H311.1V1228H300zM314.4 1217.3H318.3V1228H314.4zM321.6 1217.3H325.5V1228H321.6zM148.8 1227.7H152.7V1238.4H148.8zM188.4 1227.7H192.3V1238.4H188.4zM231.6 1248.6H239.1V1259.3H231.6zM282 1248.6H285.9V1259.3H282zM307.2 1248.6H311.1V1259.3H307.2zM339.6 1248.6H343.5V1259.3H339.6zM379.2 1248.6H383.1V1259.3H379.2zM192 1279.9H195.9V1290.6H192zM199.2 1279.9H203.1V1290.6H199.2zM206.4 1279.9H210.3V1290.6H206.4zM228 1279.9H231.9V1290.6H228zM285.6 1279.9H289.5V1290.6H285.6zM325.2 1279.9H329.1V1290.6H325.2zM339.6 1279.9H347.1V1290.6H339.6zM411.6 1279.9H422.7V1290.6H411.6zM426 1279.9H429.9V1290.6H426zM235.2 1300.7H239.1V1311.5H235.2zM242.4 1300.7H246.3V1311.5H242.4zM249.6 1300.7H253.5V1311.5H249.6zM300 1300.7H303.9V1311.5H300zM318 1300.7H325.5V1311.5H318zM332.4 1300.7H336.3V1311.5H332.4z"/>
<path fill="#1ca9df" d="M148.8 1029.5H152.7V1040.3H148.8zM163.2 1029.5H167.1V1040.3H163.2zM210 1029.5H213.9V1040.3H210zM375.6 1029.5H379.5V1040.3H375.6zM163.2 1040H167.1V1050.7H163.2zM264 1040H267.9V1050.7H264zM292.8 1040H296.7V1050.7H292.8zM303.6 1040H307.5V1050.7H303.6zM350.4 1040H357.9V1050.7H350.4zM163.2 1050.4H167.1V1061.1H163.2zM217.2 1050.4H221.1V1061.1H217.2zM246 1050.4H249.9V1061.1H246zM274.8 1050.4H278.7V1061.1H274.8zM314.4 1050.4H321.9V1061.1H314.4zM350.4 1050.4H357.9V1061.1H350.4zM361.2 1050.4H365.1V1061.1H361.2zM382.8 1050.4H386.7V1061.1H382.8zM397.2 1050.4H401.1V1061.1H397.2zM404.4 1050.4H408.3V1061.1H404.4zM411.6 1050.4H415.5V1061.1H411.6zM242.4 1060.8H246.3V1071.6H242.4zM256.8 1060.8H264.3V1071.6H256.8zM285.6 1071.3H289.5V1082H285.6zM372 1071.3H375.9V1082H372zM303.6 1081.7H307.5V1092.4H303.6zM321.6 1081.7H325.5V1092.4H321.6zM332.4 1081.7H336.3V1092.4H332.4zM346.8 1081.7H350.7V1092.4H346.8zM368.4 1081.7H375.9V1092.4H368.4zM400.8 1081.7H404.7V1092.4H400.8zM199.2 1092.1H203.1V1102.9H199.2zM213.6 1092.1H221.1V1102.9H213.6zM246 1092.1H253.5V1102.9H246zM296.4 1092.1H300.3V1102.9H296.4zM303.6 1092.1H307.5V1102.9H303.6zM325.2 1092.1H332.7V1102.9H325.2zM339.6 1092.1H343.5V1102.9H339.6zM156 1102.6H177.9V1113.3H156zM184.8 1102.6H188.7V1113.3H184.8zM206.4 1102.6H210.3V1113.3H206.4zM235.2 1102.6H239.1V1113.3H235.2zM242.4 1102.6H249.9V1113.3H242.4zM260.4 1102.6H264.3V1113.3H260.4zM321.6 1102.6H325.5V1113.3H321.6zM364.8 1102.6H368.7V1113.3H364.8zM386.4 1102.6H390.3V1113.3H386.4zM163.2 1133.8H167.1V1144.6H163.2zM181.2 1133.8H185.1V1144.6H181.2zM192 1133.8H195.9V1144.6H192zM202.8 1133.8H206.7V1144.6H202.8zM210 1133.8H213.9V1144.6H210zM220.8 1133.8H224.7V1144.6H220.8zM364.8 1133.8H368.7V1144.6H364.8zM415.2 1133.8H419.1V1144.6H415.2zM372 1144.3H383.1V1155H372zM404.4 1144.3H408.3V1155H404.4zM289.2 1154.7H293.1V1165.4H289.2zM332.4 1154.7H336.3V1165.4H332.4zM328.8 1165.1H332.7V1175.9H328.8zM336 1165.1H339.9V1175.9H336zM357.6 1165.1H361.5V1175.9H357.6zM379.2 1165.1H383.1V1175.9H379.2zM400.8 1165.1H404.7V1175.9H400.8zM192 1196.4H195.9V1207.2H192zM206.4 1196.4H210.3V1207.2H206.4zM228 1196.4H231.9V1207.2H228zM242.4 1196.4H246.3V1207.2H242.4zM256.8 1196.4H260.7V1207.2H256.8zM274.8 1196.4H282.3V1207.2H274.8zM300 1196.4H307.5V1207.2H300zM343.2 1196.4H350.7V1207.2H343.2zM357.6 1196.4H361.5V1207.2H357.6zM364.8 1196.4H372.3V1207.2H364.8zM400.8 1196.4H404.7V1207.2H400.8zM418.8 1196.4H429.9V1207.2H418.8zM206.4 1206.9H210.3V1217.6H206.4zM231.6 1206.9H235.5V1217.6H231.6zM249.6 1217.3H253.5V1228H249.6zM271.2 1217.3H282.3V1228H271.2zM310.8 1217.3H314.7V1228H310.8zM152.4 1227.7H156.3V1238.4H152.4zM192 1227.7H195.9V1238.4H192zM238.8 1248.6H242.7V1259.3H238.8zM292.8 1248.6H296.7V1259.3H292.8zM300 1248.6H303.9V1259.3H300zM181.2 1279.9H185.1V1290.6H181.2zM195.6 1279.9H199.5V1290.6H195.6zM210 1279.9H213.9V1290.6H210zM217.2 1279.9H221.1V1290.6H217.2zM282 1279.9H285.9V1290.6H282zM328.8 1279.9H339.9V1290.6H328.8zM400.8 1279.9H404.7V1290.6H400.8zM271.2 1290.3H275.1V1301H271.2zM238.8 1300.7H242.7V1311.5H238.8zM260.4 1300.7H264.3V1311.5H260.4zM267.6 1300.7H271.5V1311.5H267.6zM282 1300.7H285.9V1311.5H282zM292.8 1300.7H296.7V1311.5H292.8zM314.4 1300.7H318.3V1311.5H314.4z"/>
<path fill="#18addb" d="M217.2 1029.5H221.1V1040.3H217.2zM382.8 1029.5H386.7V1040.3H382.8zM411.6 1029.5H415.5V1040.3H411.6zM156 1040H163.5V1050.7H156zM170.4 1040H174.3V1050.7H170.4zM192 1040H199.5V1050.7H192zM220.8 1040H224.7V1050.7H220.8zM256.8 1040H260.7V1050.7H256.8zM274.8 1040H282.3V1050.7H274.8zM300 1040H303.9V1050.7H300zM314.4 1040H321.9V1050.7H314.4zM332.4 1040H336.3V1050.7H332.4zM346.8 1040H350.7V1050.7H346.8zM357.6 1040H361.5V1050.7H357.6zM404.4 1040H415.5V1050.7H404.4zM426 1040H429.9V1050.7H426zM152.4 1050.4H156.3V1061.1H152.4zM202.8 1050.4H206.7V1061.1H202.8zM220.8 1050.4H224.7V1061.1H220.8zM231.6 1050.4H242.7V1061.1H231.6zM253.2 1050.4H260.7V1061.1H253.2zM300 1050.4H314.7V1061.1H300zM321.6 1050.4H329.1V1061.1H321.6zM386.4 1050.4H390.3V1061.1H386.4zM393.6 1050.4H397.5V1061.1H393.6zM418.8 1050.4H422.7V1061.1H418.8zM426 1050.4H429.9V1061.1H426zM249.6 1060.8H253.5V1071.6H249.6zM217.2 1071.3H221.1V1082H217.2zM296.4 1071.3H300.3V1082H296.4zM307.2 1081.7H311.1V1092.4H307.2zM361.2 1081.7H365.1V1092.4H361.2zM195.6 1092.1H199.5V1102.9H195.6zM202.8 1092.1H206.7V1102.9H202.8zM238.8 1092.1H242.7V1102.9H238.8zM300 1092.1H303.9V1102.9H300zM307.2 1092.1H311.1V1102.9H307.2zM314.4 1092.1H318.3V1102.9H314.4zM336 1092.1H339.9V1102.9H336zM188.4 1102.6H195.9V1113.3H188.4zM145.2 1133.8H149.1V1144.6H145.2zM156 1133.8H159.9V1144.6H156zM418.8 1133.8H422.7V1144.6H418.8zM426 1133.8H429.9V1144.6H426zM217.2 1144.3H221.1V1155H217.2zM332.4 1144.3H336.3V1155H332.4zM343.2 1144.3H350.7V1155H343.2zM411.6 1144.3H419.1V1155H411.6zM260.4 1154.7H264.3V1165.4H260.4zM278.4 1154.7H282.3V1165.4H278.4zM307.2 1154.7H311.1V1165.4H307.2zM325.2 1154.7H329.1V1165.4H325.2zM282 1165.1H285.9V1175.9H282zM300 1165.1H303.9V1175.9H300zM310.8 1165.1H314.7V1175.9H310.8zM321.6 1165.1H325.5V1175.9H321.6zM343.2 1165.1H350.7V1175.9H343.2zM361.2 1165.1H365.1V1175.9H361.2zM422.4 1165.1H426.3V1175.9H422.4zM429.6 1165.1H433.6V1175.9H429.6zM145.2 1196.4H149.1V1207.2H145.2zM152.4 1196.4H156.3V1207.2H152.4zM163.2 1196.4H167.1V1207.2H163.2zM246 1196.4H257.1V1207.2H246zM264 1196.4H267.9V1207.2H264zM282 1196.4H285.9V1207.2H282zM318 1196.4H332.7V1207.2H318zM336 1196.4H339.9V1207.2H336zM350.4 1196.4H357.9V1207.2H350.4zM361.2 1196.4H365.1V1207.2H361.2zM386.4 1196.4H390.3V1207.2H386.4zM393.6 1196.4H401.1V1207.2H393.6zM220.8 1206.9H224.7V1217.6H220.8zM228 1206.9H231.9V1217.6H228zM238.8 1206.9H242.7V1217.6H238.8zM145.2 1227.7H149.1V1238.4H145.2zM156 1227.7H159.9V1238.4H156zM170.4 1227.7H174.3V1238.4H170.4zM195.6 1227.7H199.5V1238.4H195.6zM220.8 1238.1H224.7V1248.9H220.8zM278.4 1248.6H282.3V1259.3H278.4zM285.6 1248.6H289.5V1259.3H285.6zM390 1269.4H393.9V1280.2H390zM184.8 1279.9H188.7V1290.6H184.8zM202.8 1279.9H206.7V1290.6H202.8zM213.6 1279.9H217.5V1290.6H213.6zM220.8 1279.9H224.7V1290.6H220.8zM231.6 1279.9H239.1V1290.6H231.6zM346.8 1279.9H350.7V1290.6H346.8zM354 1279.9H357.9V1290.6H354zM393.6 1279.9H397.5V1290.6H393.6zM429.6 1279.9H433.6V1290.6H429.6zM256.8 1300.7H260.7V1311.5H256.8zM264 1300.7H267.9V1311.5H264zM296.4 1300.7H300.3V1311.5H296.4zM303.6 1300.7H314.7V1311.5H303.6zM325.2 1300.7H329.1V1311.5H325.2z"/>
<path fill="#12b1d6" d="M224.4 1029.5H228.3V1040.3H224.4zM231.6 1029.5H235.5V1040.3H231.6zM379.2 1029.5H383.1V1040.3H379.2zM386.4 1029.5H390.3V1040.3H386.4zM397.2 1029.5H404.7V1040.3H397.2zM418.8 1029.5H422.7V1040.3H418.8zM426 1029.5H429.9V1040.3H426zM184.8 1040H188.7V1050.7H184.8zM206.4 1040H210.3V1050.7H206.4zM224.4 1040H235.5V1050.7H224.4zM238.8 1040H246.3V1050.7H238.8zM260.4 1040H264.3V1050.7H260.4zM267.6 1040H271.5V1050.7H267.6zM307.2 1040H311.1V1050.7H307.2zM321.6 1040H332.7V1050.7H321.6zM372 1040H375.9V1050.7H372zM400.8 1040H404.7V1050.7H400.8zM415.2 1040H419.1V1050.7H415.2zM145.2 1050.4H152.7V1061.1H145.2zM159.6 1050.4H163.5V1061.1H159.6zM170.4 1050.4H174.3V1061.1H170.4zM213.6 1050.4H217.5V1061.1H213.6zM224.4 1050.4H231.9V1061.1H224.4zM271.2 1050.4H275.1V1061.1H271.2zM328.8 1050.4H332.7V1061.1H328.8zM339.6 1050.4H343.5V1061.1H339.6zM357.6 1050.4H361.5V1061.1H357.6zM364.8 1050.4H368.7V1061.1H364.8zM375.6 1050.4H379.5V1061.1H375.6zM282 1071.3H285.9V1082H282zM289.2 1071.3H293.1V1082H289.2zM228 1081.7H231.9V1092.4H228zM192 1092.1H195.9V1102.9H192zM210 1092.1H213.9V1102.9H210zM220.8 1092.1H228.3V1102.9H220.8zM242.4 1092.1H246.3V1102.9H242.4zM267.6 1092.1H271.5V1102.9H267.6zM274.8 1092.1H289.5V1102.9H274.8zM318 1092.1H321.9V1102.9H318zM249.6 1102.6H253.5V1113.3H249.6zM296.4 1133.8H300.3V1144.6H296.4zM368.4 1133.8H372.3V1144.6H368.4zM422.4 1133.8H426.3V1144.6H422.4zM336 1144.3H343.5V1155H336zM426 1144.3H429.9V1155H426zM264 1154.7H267.9V1165.4H264zM285.6 1154.7H289.5V1165.4H285.6zM303.6 1154.7H307.5V1165.4H303.6zM310.8 1154.7H314.7V1165.4H310.8zM328.8 1154.7H332.7V1165.4H328.8zM339.6 1154.7H343.5V1165.4H339.6zM346.8 1154.7H354.3V1165.4H346.8zM357.6 1154.7H365.1V1165.4H357.6zM285.6 1165.1H289.5V1175.9H285.6zM296.4 1165.1H300.3V1175.9H296.4zM314.4 1165.1H318.3V1175.9H314.4zM332.4 1165.1H336.3V1175.9H332.4zM350.4 1165.1H354.3V1175.9H350.4zM382.8 1165.1H390.3V1175.9H382.8zM408 1165.1H415.5V1175.9H408zM418.8 1165.1H422.7V1175.9H418.8zM426 1165.1H429.9V1175.9H426zM156 1196.4H159.9V1207.2H156zM238.8 1196.4H242.7V1207.2H238.8zM332.4 1196.4H336.3V1207.2H332.4zM382.8 1196.4H386.7V1207.2H382.8zM404.4 1196.4H408.3V1207.2H404.4zM429.6 1196.4H433.6V1207.2H429.6zM224.4 1206.9H228.3V1217.6H224.4zM220.8 1227.7H224.7V1238.4H220.8zM231.6 1227.7H239.1V1238.4H231.6zM148.8 1238.1H152.7V1248.9H148.8zM217.2 1238.1H221.1V1248.9H217.2zM242.4 1248.6H246.3V1259.3H242.4zM242.4 1269.4H246.3V1280.2H242.4zM325.2 1269.4H329.1V1280.2H325.2zM242.4 1279.9H246.3V1290.6H242.4zM274.8 1279.9H278.7V1290.6H274.8zM350.4 1279.9H354.3V1290.6H350.4zM357.6 1279.9H361.5V1290.6H357.6zM386.4 1279.9H390.3V1290.6H386.4zM397.2 1279.9H401.1V1290.6H397.2zM253.2 1300.7H257.1V1311.5H253.2zM271.2 1300.7H282.3V1311.5H271.2zM285.6 1300.7H293.1V1311.5H285.6z"/>
<path fill="#08b5d0" d="M228 1029.5H231.9V1040.3H228zM235.2 1029.5H239.1V1040.3H235.2zM242.4 1029.5H246.3V1040.3H242.4zM368.4 1029.5H372.3V1040.3H368.4zM390 1029.5H393.9V1040.3H390zM404.4 1029.5H411.9V1040.3H404.4zM429.6 1029.5H433.6V1040.3H429.6zM152.4 1040H156.3V1050.7H152.4zM177.6 1040H181.5V1050.7H177.6zM188.4 1040H192.3V1050.7H188.4zM199.2 1040H206.7V1050.7H199.2zM217.2 1040H221.1V1050.7H217.2zM235.2 1040H239.1V1050.7H235.2zM246 1040H253.5V1050.7H246zM282 1040H289.5V1050.7H282zM296.4 1040H300.3V1050.7H296.4zM310.8 1040H314.7V1050.7H310.8zM339.6 1040H347.1V1050.7H339.6zM364.8 1040H372.3V1050.7H364.8zM375.6 1040H383.1V1050.7H375.6zM386.4 1040H390.3V1050.7H386.4zM397.2 1040H401.1V1050.7H397.2zM418.8 1040H426.3V1050.7H418.8zM429.6 1040H433.6V1050.7H429.6zM166.8 1050.4H170.7V1061.1H166.8zM188.4 1050.4H192.3V1061.1H188.4zM195.6 1050.4H203.1V1061.1H195.6zM206.4 1050.4H213.9V1061.1H206.4zM249.6 1050.4H253.5V1061.1H249.6zM282 1050.4H289.5V1061.1H282zM296.4 1050.4H300.3V1061.1H296.4zM332.4 1050.4H339.9V1061.1H332.4zM346.8 1050.4H350.7V1061.1H346.8zM379.2 1050.4H383.1V1061.1H379.2zM390 1050.4H393.9V1061.1H390zM429.6 1050.4H433.6V1061.1H429.6zM278.4 1071.3H282.3V1082H278.4zM292.8 1071.3H296.7V1082H292.8zM375.6 1071.3H379.5V1082H375.6zM408 1081.7H411.9V1092.4H408zM206.4 1092.1H210.3V1102.9H206.4zM235.2 1092.1H239.1V1102.9H235.2zM253.2 1092.1H264.3V1102.9H253.2zM271.2 1092.1H275.1V1102.9H271.2zM321.6 1092.1H325.5V1102.9H321.6zM285.6 1133.8H289.5V1144.6H285.6zM390 1133.8H393.9V1144.6H390zM408 1133.8H411.9V1144.6H408zM429.6 1133.8H433.6V1144.6H429.6zM224.4 1144.3H228.3V1155H224.4zM354 1144.3H357.9V1155H354zM422.4 1144.3H426.3V1155H422.4zM256.8 1154.7H260.7V1165.4H256.8zM274.8 1154.7H278.7V1165.4H274.8zM282 1154.7H285.9V1165.4H282zM292.8 1154.7H300.3V1165.4H292.8zM354 1154.7H357.9V1165.4H354zM364.8 1154.7H368.7V1165.4H364.8zM289.2 1165.1H296.7V1175.9H289.2zM303.6 1165.1H307.5V1175.9H303.6zM354 1165.1H357.9V1175.9H354zM145.2 1206.9H149.1V1217.6H145.2zM156 1206.9H159.9V1217.6H156zM199.2 1206.9H203.1V1217.6H199.2zM217.2 1206.9H221.1V1217.6H217.2zM163.2 1227.7H170.7V1238.4H163.2zM181.2 1227.7H188.7V1238.4H181.2zM206.4 1227.7H217.5V1238.4H206.4zM224.4 1227.7H231.9V1238.4H224.4zM238.8 1227.7H246.3V1238.4H238.8zM166.8 1238.1H170.7V1248.9H166.8zM195.6 1238.1H199.5V1248.9H195.6zM202.8 1238.1H206.7V1248.9H202.8zM213.6 1238.1H217.5V1248.9H213.6zM224.4 1238.1H228.3V1248.9H224.4zM289.2 1248.6H293.1V1259.3H289.2zM206.4 1269.4H210.3V1280.2H206.4zM238.8 1269.4H242.7V1280.2H238.8zM249.6 1269.4H253.5V1280.2H249.6zM285.6 1269.4H289.5V1280.2H285.6zM303.6 1269.4H307.5V1280.2H303.6zM310.8 1269.4H318.3V1280.2H310.8zM332.4 1269.4H339.9V1280.2H332.4zM350.4 1269.4H354.3V1280.2H350.4zM364.8 1269.4H368.7V1280.2H364.8zM372 1269.4H375.9V1280.2H372zM382.8 1269.4H386.7V1280.2H382.8zM393.6 1269.4H401.1V1280.2H393.6zM267.6 1279.9H271.5V1290.6H267.6zM278.4 1279.9H282.3V1290.6H278.4zM361.2 1279.9H368.7V1290.6H361.2zM372 1279.9H375.9V1290.6H372zM379.2 1279.9H383.1V1290.6H379.2zM390 1279.9H393.9V1290.6H390z"/>
<path fill="#01b8ca" d="M238.8 1029.5H242.7V1040.3H238.8zM260.4 1029.5H264.3V1040.3H260.4zM267.6 1029.5H271.5V1040.3H267.6zM339.6 1029.5H343.5V1040.3H339.6zM346.8 1029.5H350.7V1040.3H346.8zM357.6 1029.5H368.7V1040.3H357.6zM422.4 1029.5H426.3V1040.3H422.4zM148.8 1040H152.7V1050.7H148.8zM166.8 1040H170.7V1050.7H166.8zM181.2 1040H185.1V1050.7H181.2zM210 1040H217.5V1050.7H210zM289.2 1040H293.1V1050.7H289.2zM382.8 1040H386.7V1050.7H382.8zM390 1040H393.9V1050.7H390zM174 1050.4H188.7V1061.1H174zM192 1050.4H195.9V1061.1H192zM260.4 1050.4H271.5V1061.1H260.4zM289.2 1050.4H296.7V1061.1H289.2zM343.2 1050.4H347.1V1061.1H343.2zM422.4 1050.4H426.3V1061.1H422.4zM220.8 1071.3H224.7V1082H220.8zM274.8 1071.3H278.7V1082H274.8zM379.2 1071.3H383.1V1082H379.2zM300 1081.7H303.9V1092.4H300zM228 1092.1H231.9V1102.9H228zM264 1092.1H267.9V1102.9H264zM292.8 1133.8H296.7V1144.6H292.8zM382.8 1133.8H386.7V1144.6H382.8zM393.6 1133.8H401.1V1144.6H393.6zM411.6 1133.8H415.5V1144.6H411.6zM220.8 1144.3H224.7V1155H220.8zM238.8 1144.3H242.7V1155H238.8zM321.6 1144.3H325.5V1155H321.6zM328.8 1144.3H332.7V1155H328.8zM242.4 1154.7H246.3V1165.4H242.4zM267.6 1154.7H275.1V1165.4H267.6zM318 1154.7H325.5V1165.4H318zM343.2 1154.7H347.1V1165.4H343.2zM217.2 1165.1H221.1V1175.9H217.2zM278.4 1165.1H282.3V1175.9H278.4zM307.2 1165.1H311.1V1175.9H307.2zM148.8 1206.9H156.3V1217.6H148.8zM159.6 1206.9H167.1V1217.6H159.6zM195.6 1206.9H199.5V1217.6H195.6zM210 1206.9H217.5V1217.6H210zM174 1227.7H181.5V1238.4H174zM199.2 1227.7H203.1V1238.4H199.2zM321.6 1227.7H325.5V1238.4H321.6zM145.2 1238.1H149.1V1248.9H145.2zM170.4 1238.1H174.3V1248.9H170.4zM188.4 1238.1H195.9V1248.9H188.4zM228 1238.1H231.9V1248.9H228zM249.6 1248.6H253.5V1259.3H249.6zM256.8 1248.6H260.7V1259.3H256.8zM264 1248.6H267.9V1259.3H264zM145.2 1269.4H149.1V1280.2H145.2zM166.8 1269.4H170.7V1280.2H166.8zM174 1269.4H177.9V1280.2H174zM192 1269.4H203.1V1280.2H192zM271.2 1269.4H275.1V1280.2H271.2zM282 1269.4H285.9V1280.2H282zM289.2 1269.4H293.1V1280.2H289.2zM300 1269.4H303.9V1280.2H300zM307.2 1269.4H311.1V1280.2H307.2zM328.8 1269.4H332.7V1280.2H328.8zM346.8 1269.4H350.7V1280.2H346.8zM375.6 1269.4H383.1V1280.2H375.6zM386.4 1269.4H390.3V1280.2H386.4zM404.4 1269.4H408.3V1280.2H404.4zM415.2 1269.4H419.1V1280.2H415.2zM246 1279.9H249.9V1290.6H246zM253.2 1279.9H260.7V1290.6H253.2zM264 1279.9H267.9V1290.6H264zM271.2 1279.9H275.1V1290.6H271.2zM368.4 1279.9H372.3V1290.6H368.4zM375.6 1279.9H379.5V1290.6H375.6zM382.8 1279.9H386.7V1290.6H382.8z"/>
<path fill="#02bac3" d="M246 1029.5H249.9V1040.3H246zM264 1029.5H267.9V1040.3H264zM307.2 1029.5H318.3V1040.3H307.2zM336 1029.5H339.9V1040.3H336zM350.4 1029.5H354.3V1040.3H350.4zM393.6 1029.5H397.5V1040.3H393.6zM415.2 1029.5H419.1V1040.3H415.2zM145.2 1040H149.1V1050.7H145.2zM393.6 1040H397.5V1050.7H393.6zM278.4 1050.4H282.3V1061.1H278.4zM267.6 1071.3H271.5V1082H267.6zM181.2 1092.1H192.3V1102.9H181.2zM231.6 1092.1H235.5V1102.9H231.6zM192 1123.4H195.9V1134.1H192zM210 1123.4H213.9V1134.1H210zM217.2 1123.4H221.1V1134.1H217.2zM224.4 1123.4H228.3V1134.1H224.4zM224.4 1133.8H228.3V1144.6H224.4zM372 1133.8H379.5V1144.6H372zM400.8 1133.8H408.3V1144.6H400.8zM235.2 1144.3H239.1V1155H235.2zM249.6 1144.3H257.1V1155H249.6zM318 1144.3H321.9V1155H318zM249.6 1154.7H257.1V1165.4H249.6zM300 1154.7H303.9V1165.4H300zM314.4 1154.7H318.3V1165.4H314.4zM271.2 1165.1H278.7V1175.9H271.2zM174 1206.9H177.9V1217.6H174zM188.4 1206.9H195.9V1217.6H188.4zM159.6 1227.7H163.5V1238.4H159.6zM246 1227.7H249.9V1238.4H246zM152.4 1238.1H156.3V1248.9H152.4zM159.6 1238.1H167.1V1248.9H159.6zM184.8 1238.1H188.7V1248.9H184.8zM231.6 1238.1H235.5V1248.9H231.6zM246 1248.6H249.9V1259.3H246zM253.2 1248.6H257.1V1259.3H253.2zM274.8 1248.6H278.7V1259.3H274.8zM148.8 1269.4H152.7V1280.2H148.8zM163.2 1269.4H167.1V1280.2H163.2zM181.2 1269.4H185.1V1280.2H181.2zM202.8 1269.4H206.7V1280.2H202.8zM210 1269.4H217.5V1280.2H210zM220.8 1269.4H224.7V1280.2H220.8zM235.2 1269.4H239.1V1280.2H235.2zM246 1269.4H249.9V1280.2H246zM292.8 1269.4H300.3V1280.2H292.8zM321.6 1269.4H325.5V1280.2H321.6zM354 1269.4H361.5V1280.2H354zM411.6 1269.4H415.5V1280.2H411.6zM422.4 1269.4H426.3V1280.2H422.4zM429.6 1269.4H433.6V1280.2H429.6zM238.8 1279.9H242.7V1290.6H238.8zM260.4 1279.9H264.3V1290.6H260.4z"/>
<path fill="#0bbdbd" d="M249.6 1029.5H253.5V1040.3H249.6zM271.2 1029.5H282.3V1040.3H271.2zM285.6 1029.5H289.5V1040.3H285.6zM292.8 1029.5H296.7V1040.3H292.8zM328.8 1029.5H332.7V1040.3H328.8zM343.2 1029.5H347.1V1040.3H343.2zM354 1029.5H357.9V1040.3H354zM253.2 1040H257.1V1050.7H253.2zM271.2 1040H275.1V1050.7H271.2zM224.4 1071.3H228.3V1082H224.4zM271.2 1071.3H275.1V1082H271.2zM296.4 1081.7H300.3V1092.4H296.4zM411.6 1081.7H415.5V1092.4H411.6zM156 1092.1H159.9V1102.9H156zM177.6 1092.1H181.5V1102.9H177.6zM206.4 1123.4H210.3V1134.1H206.4zM213.6 1123.4H217.5V1134.1H213.6zM220.8 1123.4H224.7V1134.1H220.8zM228 1133.8H231.9V1144.6H228zM282 1133.8H285.9V1144.6H282zM289.2 1133.8H293.1V1144.6H289.2zM379.2 1133.8H383.1V1144.6H379.2zM386.4 1133.8H390.3V1144.6H386.4zM246 1144.3H249.9V1155H246zM325.2 1144.3H329.1V1155H325.2zM246 1154.7H249.9V1165.4H246zM166.8 1165.1H170.7V1175.9H166.8zM174 1165.1H181.5V1175.9H174zM184.8 1165.1H188.7V1175.9H184.8zM195.6 1165.1H203.1V1175.9H195.6zM213.6 1165.1H217.5V1175.9H213.6zM220.8 1165.1H228.3V1175.9H220.8zM260.4 1165.1H267.9V1175.9H260.4zM166.8 1206.9H174.3V1217.6H166.8zM177.6 1206.9H181.5V1217.6H177.6zM202.8 1227.7H206.7V1238.4H202.8zM217.2 1227.7H221.1V1238.4H217.2zM289.2 1227.7H293.1V1238.4H289.2zM174 1238.1H185.1V1248.9H174zM199.2 1238.1H203.1V1248.9H199.2zM206.4 1238.1H213.9V1248.9H206.4zM260.4 1248.6H264.3V1259.3H260.4zM267.6 1248.6H271.5V1259.3H267.6zM152.4 1269.4H159.9V1280.2H152.4zM170.4 1269.4H174.3V1280.2H170.4zM177.6 1269.4H181.5V1280.2H177.6zM188.4 1269.4H192.3V1280.2H188.4zM217.2 1269.4H221.1V1280.2H217.2zM224.4 1269.4H228.3V1280.2H224.4zM231.6 1269.4H235.5V1280.2H231.6zM253.2 1269.4H257.1V1280.2H253.2zM260.4 1269.4H264.3V1280.2H260.4zM274.8 1269.4H278.7V1280.2H274.8zM318 1269.4H321.9V1280.2H318zM339.6 1269.4H347.1V1280.2H339.6zM361.2 1269.4H365.1V1280.2H361.2zM400.8 1269.4H404.7V1280.2H400.8zM408 1269.4H411.9V1280.2H408zM418.8 1269.4H422.7V1280.2H418.8zM426 1269.4H429.9V1280.2H426zM249.6 1279.9H253.5V1290.6H249.6z"/>
<path fill="#19bfb6" d="M253.2 1029.5H260.7V1040.3H253.2zM282 1029.5H285.9V1040.3H282zM289.2 1029.5H293.1V1040.3H289.2zM300 1029.5H307.5V1040.3H300zM264 1071.3H267.9V1082H264zM231.6 1081.7H235.5V1092.4H231.6zM238.8 1081.7H242.7V1092.4H238.8zM292.8 1081.7H296.7V1092.4H292.8zM152.4 1092.1H156.3V1102.9H152.4zM174 1092.1H177.9V1102.9H174zM152.4 1123.4H156.3V1134.1H152.4zM188.4 1123.4H192.3V1134.1H188.4zM199.2 1123.4H203.1V1134.1H199.2zM231.6 1133.8H235.5V1144.6H231.6zM228 1144.3H235.5V1155H228zM242.4 1144.3H246.3V1155H242.4zM314.4 1144.3H318.3V1155H314.4zM152.4 1165.1H156.3V1175.9H152.4zM163.2 1165.1H167.1V1175.9H163.2zM170.4 1165.1H174.3V1175.9H170.4zM181.2 1165.1H185.1V1175.9H181.2zM188.4 1165.1H192.3V1175.9H188.4zM202.8 1165.1H213.9V1175.9H202.8zM228 1165.1H239.1V1175.9H228zM242.4 1165.1H246.3V1175.9H242.4zM256.8 1165.1H260.7V1175.9H256.8zM267.6 1165.1H271.5V1175.9H267.6zM181.2 1206.9H188.7V1217.6H181.2zM267.6 1227.7H271.5V1238.4H267.6zM336 1227.7H339.9V1238.4H336zM361.2 1227.7H365.1V1238.4H361.2zM368.4 1227.7H372.3V1238.4H368.4zM156 1238.1H159.9V1248.9H156zM271.2 1248.6H275.1V1259.3H271.2zM159.6 1269.4H163.5V1280.2H159.6zM228 1269.4H231.9V1280.2H228zM256.8 1269.4H260.7V1280.2H256.8z"/>
<path fill="#24c1ae" d="M318 1029.5H321.9V1040.3H318zM325.2 1029.5H329.1V1040.3H325.2zM228 1071.3H231.9V1082H228zM238.8 1071.3H242.7V1082H238.8zM249.6 1071.3H253.5V1082H249.6zM260.4 1071.3H264.3V1082H260.4zM382.8 1071.3H386.7V1082H382.8zM235.2 1081.7H239.1V1092.4H235.2zM145.2 1092.1H152.7V1102.9H145.2zM166.8 1092.1H174.3V1102.9H166.8zM202.8 1123.4H206.7V1134.1H202.8zM228 1123.4H231.9V1134.1H228zM271.2 1144.3H275.1V1155H271.2zM285.6 1144.3H289.5V1155H285.6zM238.8 1154.7H242.7V1165.4H238.8zM192 1165.1H195.9V1175.9H192zM249.6 1165.1H253.5V1175.9H249.6zM249.6 1227.7H253.5V1238.4H249.6zM256.8 1227.7H260.7V1238.4H256.8zM264 1227.7H267.9V1238.4H264zM278.4 1227.7H282.3V1238.4H278.4zM285.6 1227.7H289.5V1238.4H285.6zM292.8 1227.7H296.7V1238.4H292.8zM325.2 1227.7H329.1V1238.4H325.2zM350.4 1227.7H357.9V1238.4H350.4zM375.6 1227.7H379.5V1238.4H375.6zM235.2 1238.1H239.1V1248.9H235.2zM372 1238.1H375.9V1248.9H372zM184.8 1269.4H188.7V1280.2H184.8zM264 1269.4H267.9V1280.2H264zM278.4 1269.4H282.3V1280.2H278.4zM368.4 1269.4H372.3V1280.2H368.4z"/>
<path fill="#2cc4a7" d="M296.4 1029.5H300.3V1040.3H296.4zM321.6 1029.5H325.5V1040.3H321.6zM332.4 1029.5H336.3V1040.3H332.4zM386.4 1071.3H390.3V1082H386.4zM242.4 1081.7H246.3V1092.4H242.4zM159.6 1092.1H163.5V1102.9H159.6zM156 1123.4H159.9V1134.1H156zM195.6 1123.4H199.5V1134.1H195.6zM231.6 1123.4H235.5V1134.1H231.6zM368.4 1154.7H372.3V1165.4H368.4zM145.2 1165.1H149.1V1175.9H145.2zM156 1165.1H163.5V1175.9H156zM238.8 1165.1H242.7V1175.9H238.8zM246 1165.1H249.9V1175.9H246zM253.2 1227.7H257.1V1238.4H253.2zM274.8 1227.7H278.7V1238.4H274.8zM296.4 1227.7H303.9V1238.4H296.4zM318 1227.7H321.9V1238.4H318zM332.4 1227.7H336.3V1238.4H332.4zM339.6 1227.7H343.5V1238.4H339.6zM357.6 1227.7H361.5V1238.4H357.6zM364.8 1238.1H368.7V1248.9H364.8zM379.2 1238.1H383.1V1248.9H379.2zM400.8 1238.1H404.7V1248.9H400.8zM408 1238.1H411.9V1248.9H408z"/>
<path fill="#31c69f" d="M235.2 1071.3H239.1V1082H235.2zM246 1071.3H249.9V1082H246zM256.8 1071.3H260.7V1082H256.8zM274.8 1081.7H278.7V1092.4H274.8zM418.8 1081.7H422.7V1092.4H418.8zM426 1081.7H429.9V1092.4H426zM163.2 1092.1H167.1V1102.9H163.2zM177.6 1123.4H188.7V1134.1H177.6zM235.2 1123.4H246.3V1134.1H235.2zM274.8 1133.8H282.3V1144.6H274.8zM267.6 1144.3H271.5V1155H267.6zM289.2 1144.3H293.1V1155H289.2zM310.8 1144.3H314.7V1155H310.8zM148.8 1165.1H152.7V1175.9H148.8zM242.4 1206.9H246.3V1217.6H242.4zM271.2 1227.7H275.1V1238.4H271.2zM282 1227.7H285.9V1238.4H282zM307.2 1227.7H314.7V1238.4H307.2zM328.8 1227.7H332.7V1238.4H328.8zM346.8 1227.7H350.7V1238.4H346.8zM364.8 1227.7H368.7V1238.4H364.8zM379.2 1227.7H383.1V1238.4H379.2zM411.6 1238.1H415.5V1248.9H411.6zM199.2 1259H203.1V1269.7H199.2zM267.6 1269.4H271.5V1280.2H267.6z"/>
<path fill="#37c897" d="M231.6 1071.3H235.5V1082H231.6zM242.4 1071.3H246.3V1082H242.4zM253.2 1071.3H257.1V1082H253.2zM390 1071.3H397.5V1082H390zM278.4 1081.7H282.3V1092.4H278.4zM289.2 1081.7H293.1V1092.4H289.2zM415.2 1081.7H419.1V1092.4H415.2zM429.6 1081.7H433.6V1092.4H429.6zM159.6 1123.4H163.5V1134.1H159.6zM174 1123.4H177.9V1134.1H174zM343.2 1123.4H347.1V1134.1H343.2zM235.2 1133.8H239.1V1144.6H235.2zM249.6 1133.8H253.5V1144.6H249.6zM256.8 1144.3H260.7V1155H256.8zM278.4 1144.3H282.3V1155H278.4zM292.8 1144.3H300.3V1155H292.8zM307.2 1144.3H311.1V1155H307.2zM253.2 1165.1H257.1V1175.9H253.2zM260.4 1227.7H264.3V1238.4H260.4zM303.6 1227.7H307.5V1238.4H303.6zM314.4 1227.7H318.3V1238.4H314.4zM343.2 1227.7H347.1V1238.4H343.2zM372 1227.7H375.9V1238.4H372zM386.4 1227.7H390.3V1238.4H386.4zM368.4 1238.1H372.3V1248.9H368.4zM375.6 1238.1H379.5V1248.9H375.6zM382.8 1238.1H390.3V1248.9H382.8zM404.4 1238.1H408.3V1248.9H404.4zM415.2 1238.1H419.1V1248.9H415.2zM152.4 1259H156.3V1269.7H152.4zM170.4 1259H174.3V1269.7H170.4zM202.8 1259H217.5V1269.7H202.8z"/>
<path fill="#3fca8e" d="M246 1081.7H253.5V1092.4H246zM422.4 1081.7H426.3V1092.4H422.4zM145.2 1123.4H152.7V1134.1H145.2zM163.2 1123.4H174.3V1134.1H163.2zM339.6 1123.4H343.5V1134.1H339.6zM238.8 1133.8H242.7V1144.6H238.8zM260.4 1133.8H264.3V1144.6H260.4zM267.6 1133.8H275.1V1144.6H267.6zM260.4 1144.3H267.9V1155H260.4zM274.8 1144.3H278.7V1155H274.8zM282 1144.3H285.9V1155H282zM303.6 1144.3H307.5V1155H303.6zM382.8 1227.7H386.7V1238.4H382.8zM350.4 1238.1H354.3V1248.9H350.4zM357.6 1238.1H361.5V1248.9H357.6zM418.8 1238.1H426.3V1248.9H418.8zM429.6 1238.1H433.6V1248.9H429.6zM148.8 1259H152.7V1269.7H148.8zM159.6 1259H163.5V1269.7H159.6zM166.8 1259H170.7V1269.7H166.8zM181.2 1259H185.1V1269.7H181.2zM217.2 1259H221.1V1269.7H217.2zM235.2 1259H239.1V1269.7H235.2zM375.6 1259H379.5V1269.7H375.6zM408 1259H411.9V1269.7H408zM415.2 1259H422.7V1269.7H415.2z"/>
<path fill="#4acb84" d="M271.2 1081.7H275.1V1092.4H271.2zM282 1081.7H289.5V1092.4H282zM336 1123.4H339.9V1134.1H336zM346.8 1123.4H350.7V1134.1H346.8zM246 1133.8H249.9V1144.6H246zM300 1144.3H303.9V1155H300zM235.2 1154.7H239.1V1165.4H235.2zM343.2 1238.1H347.1V1248.9H343.2zM361.2 1238.1H365.1V1248.9H361.2zM393.6 1238.1H401.1V1248.9H393.6zM426 1238.1H429.9V1248.9H426zM156 1259H159.9V1269.7H156zM163.2 1259H167.1V1269.7H163.2zM174 1259H181.5V1269.7H174zM184.8 1259H188.7V1269.7H184.8zM192 1259H199.5V1269.7H192zM220.8 1259H235.5V1269.7H220.8zM242.4 1259H246.3V1269.7H242.4zM271.2 1259H275.1V1269.7H271.2zM364.8 1259H368.7V1269.7H364.8zM400.8 1259H404.7V1269.7H400.8zM426 1259H433.6V1269.7H426z"/>
<path fill="#57cc7a" d="M260.4 1081.7H264.3V1092.4H260.4zM267.6 1081.7H271.5V1092.4H267.6zM246 1123.4H253.5V1134.1H246zM332.4 1123.4H336.3V1134.1H332.4zM253.2 1133.8H257.1V1144.6H253.2zM264 1133.8H267.9V1144.6H264zM346.8 1238.1H350.7V1248.9H346.8zM354 1238.1H357.9V1248.9H354zM390 1238.1H393.9V1248.9H390zM145.2 1259H149.1V1269.7H145.2zM188.4 1259H192.3V1269.7H188.4zM238.8 1259H242.7V1269.7H238.8zM354 1259H357.9V1269.7H354zM361.2 1259H365.1V1269.7H361.2zM372 1259H375.9V1269.7H372zM386.4 1259H393.9V1269.7H386.4zM411.6 1259H415.5V1269.7H411.6z"/>
<path fill="#64cd6f" d="M397.2 1071.3H401.1V1082H397.2zM253.2 1081.7H260.7V1092.4H253.2zM264 1081.7H267.9V1092.4H264zM253.2 1123.4H257.1V1134.1H253.2zM357.6 1123.4H361.5V1134.1H357.6zM242.4 1133.8H246.3V1144.6H242.4zM256.8 1133.8H260.7V1144.6H256.8zM231.6 1154.7H235.5V1165.4H231.6zM415.2 1206.9H419.1V1217.6H415.2zM346.8 1259H354.3V1269.7H346.8zM357.6 1259H361.5V1269.7H357.6zM368.4 1259H372.3V1269.7H368.4zM379.2 1259H386.7V1269.7H379.2zM397.2 1259H401.1V1269.7H397.2zM404.4 1259H408.3V1269.7H404.4zM422.4 1259H426.3V1269.7H422.4z"/>
<path fill="#72cd64" d="M400.8 1071.3H404.7V1082H400.8zM328.8 1123.4H332.7V1134.1H328.8zM350.4 1123.4H354.3V1134.1H350.4zM228 1154.7H231.9V1165.4H228zM246 1206.9H249.9V1217.6H246zM346.8 1206.9H354.3V1217.6H346.8zM411.6 1206.9H415.5V1217.6H411.6zM390 1227.7H393.9V1238.4H390zM339.6 1238.1H343.5V1248.9H339.6zM246 1259H249.9V1269.7H246zM267.6 1259H271.5V1269.7H267.6zM339.6 1259H343.5V1269.7H339.6zM393.6 1259H397.5V1269.7H393.6z"/>
<path fill="#81cc59" d="M256.8 1123.4H264.3V1134.1H256.8zM354 1123.4H357.9V1134.1H354zM361.2 1123.4H365.1V1134.1H361.2zM426 1154.7H429.9V1165.4H426zM357.6 1206.9H361.5V1217.6H357.6zM386.4 1206.9H390.3V1217.6H386.4zM393.6 1206.9H397.5V1217.6H393.6zM400.8 1206.9H408.3V1217.6H400.8zM418.8 1206.9H422.7V1217.6H418.8zM429.6 1206.9H433.6V1217.6H429.6zM393.6 1227.7H397.5V1238.4H393.6zM238.8 1238.1H242.7V1248.9H238.8zM336 1238.1H339.9V1248.9H336zM260.4 1259H264.3V1269.7H260.4zM332.4 1259H339.9V1269.7H332.4zM343.2 1259H347.1V1269.7H343.2z"/>
<path fill="#8fcb4e" d="M422.4 1071.3H426.3V1082H422.4zM325.2 1123.4H329.1V1134.1H325.2zM364.8 1123.4H368.7V1134.1H364.8zM411.6 1154.7H415.5V1165.4H411.6zM418.8 1154.7H426.3V1165.4H418.8zM429.6 1154.7H433.6V1165.4H429.6zM339.6 1206.9H343.5V1217.6H339.6zM361.2 1206.9H365.1V1217.6H361.2zM382.8 1206.9H386.7V1217.6H382.8zM397.2 1206.9H401.1V1217.6H397.2zM422.4 1206.9H429.9V1217.6H422.4zM328.8 1238.1H336.3V1248.9H328.8zM256.8 1259H260.7V1269.7H256.8zM264 1259H267.9V1269.7H264zM321.6 1259H329.1V1269.7H321.6z"/>
<path fill="#9dc943" d="M404.4 1071.3H415.5V1082H404.4zM426 1071.3H433.6V1082H426zM264 1123.4H271.5V1134.1H264zM224.4 1154.7H228.3V1165.4H224.4zM372 1154.7H375.9V1165.4H372zM354 1206.9H357.9V1217.6H354zM364.8 1206.9H383.1V1217.6H364.8zM408 1206.9H411.9V1217.6H408zM249.6 1259H257.1V1269.7H249.6zM318 1259H321.9V1269.7H318zM328.8 1259H332.7V1269.7H328.8z"/>
<path fill="#abc739" d="M415.2 1071.3H422.7V1082H415.2zM310.8 1123.4H314.7V1134.1H310.8zM321.6 1123.4H325.5V1134.1H321.6zM368.4 1123.4H372.3V1134.1H368.4zM220.8 1154.7H224.7V1165.4H220.8zM415.2 1154.7H419.1V1165.4H415.2zM249.6 1206.9H253.5V1217.6H249.6zM343.2 1206.9H347.1V1217.6H343.2zM390 1206.9H393.9V1217.6H390zM397.2 1227.7H401.1V1238.4H397.2zM426 1227.7H429.9V1238.4H426zM274.8 1259H278.7V1269.7H274.8zM282 1259H285.9V1269.7H282zM300 1259H303.9V1269.7H300z"/>
<path fill="#b9c431" d="M307.2 1123.4H311.1V1134.1H307.2zM318 1123.4H321.9V1134.1H318zM372 1123.4H375.9V1134.1H372zM379.2 1123.4H383.1V1134.1H379.2zM148.8 1154.7H156.3V1165.4H148.8zM332.4 1206.9H336.3V1217.6H332.4zM404.4 1227.7H408.3V1238.4H404.4zM285.6 1259H289.5V1269.7H285.6z"/>
<path fill="#c5c22a" d="M314.4 1123.4H318.3V1134.1H314.4zM375.6 1123.4H379.5V1134.1H375.6zM382.8 1123.4H386.7V1134.1H382.8zM418.8 1123.4H422.7V1134.1H418.8zM426 1123.4H429.9V1134.1H426zM145.2 1154.7H149.1V1165.4H145.2zM253.2 1206.9H257.1V1217.6H253.2zM271.2 1206.9H275.1V1217.6H271.2zM336 1206.9H339.9V1217.6H336zM242.4 1238.1H246.3V1248.9H242.4zM296.4 1259H300.3V1269.7H296.4zM303.6 1259H311.1V1269.7H303.6zM314.4 1259H318.3V1269.7H314.4z"/>
<path fill="#d1bf27" d="M271.2 1123.4H278.7V1134.1H271.2zM285.6 1123.4H289.5V1134.1H285.6zM296.4 1123.4H300.3V1134.1H296.4zM386.4 1123.4H390.3V1134.1H386.4zM422.4 1123.4H426.3V1134.1H422.4zM429.6 1123.4H433.6V1134.1H429.6zM156 1154.7H163.5V1165.4H156zM166.8 1154.7H170.7V1165.4H166.8zM386.4 1154.7H390.3V1165.4H386.4zM408 1154.7H411.9V1165.4H408zM260.4 1206.9H271.5V1217.6H260.4zM328.8 1206.9H332.7V1217.6H328.8zM400.8 1227.7H404.7V1238.4H400.8zM408 1227.7H411.9V1238.4H408zM249.6 1238.1H253.5V1248.9H249.6zM325.2 1238.1H329.1V1248.9H325.2zM278.4 1259H282.3V1269.7H278.4zM289.2 1259H296.7V1269.7H289.2z"/>
<path fill="#dcbd29" d="M278.4 1123.4H285.9V1134.1H278.4zM289.2 1123.4H293.1V1134.1H289.2zM300 1123.4H307.5V1134.1H300zM390 1123.4H393.9V1134.1H390zM397.2 1123.4H404.7V1134.1H397.2zM217.2 1154.7H221.1V1165.4H217.2zM375.6 1154.7H379.5V1165.4H375.6zM382.8 1154.7H386.7V1165.4H382.8zM393.6 1154.7H397.5V1165.4H393.6zM274.8 1206.9H278.7V1217.6H274.8zM411.6 1227.7H415.5V1238.4H411.6zM429.6 1227.7H433.6V1238.4H429.6zM321.6 1238.1H325.5V1248.9H321.6zM310.8 1259H314.7V1269.7H310.8z"/>
<path fill="#e6bb2d" d="M292.8 1123.4H296.7V1134.1H292.8zM415.2 1123.4H419.1V1134.1H415.2zM163.2 1154.7H167.1V1165.4H163.2zM256.8 1206.9H260.7V1217.6H256.8zM285.6 1206.9H293.1V1217.6H285.6zM415.2 1227.7H419.1V1238.4H415.2zM422.4 1227.7H426.3V1238.4H422.4zM246 1238.1H249.9V1248.9H246zM253.2 1238.1H257.1V1248.9H253.2zM260.4 1238.1H264.3V1248.9H260.4z"/>
<path fill="#f0ba36" d="M404.4 1123.4H415.5V1134.1H404.4zM170.4 1154.7H174.3V1165.4H170.4zM390 1154.7H393.9V1165.4H390zM397.2 1154.7H401.1V1165.4H397.2zM418.8 1227.7H422.7V1238.4H418.8zM256.8 1238.1H260.7V1248.9H256.8zM318 1238.1H321.9V1248.9H318z"/>
<path fill="#f8ba3d" d="M393.6 1123.4H397.5V1134.1H393.6zM379.2 1154.7H383.1V1165.4H379.2zM404.4 1154.7H408.3V1165.4H404.4zM278.4 1206.9H285.9V1217.6H278.4zM296.4 1206.9H300.3V1217.6H296.4z"/>
<path fill="#febe3c" d="M213.6 1154.7H217.5V1165.4H213.6zM300 1206.9H303.9V1217.6H300zM318 1206.9H321.9V1217.6H318zM264 1238.1H267.9V1248.9H264z"/>
<path fill="#fec338" d="M174 1154.7H181.5V1165.4H174zM292.8 1206.9H296.7V1217.6H292.8zM321.6 1206.9H329.1V1217.6H321.6zM310.8 1238.1H318.3V1248.9H310.8z"/>
<path fill="#fec934" d="M206.4 1154.7H213.9V1165.4H206.4zM400.8 1154.7H404.7V1165.4H400.8zM303.6 1206.9H307.5V1217.6H303.6zM314.4 1206.9H318.3V1217.6H314.4z"/>
<path fill="#fccf30" d="M267.6 1238.1H271.5V1248.9H267.6zM274.8 1238.1H278.7V1248.9H274.8zM285.6 1238.1H289.5V1248.9H285.6z"/>
<path fill="#fad62d" d="M181.2 1154.7H185.1V1165.4H181.2zM188.4 1154.7H192.3V1165.4H188.4zM271.2 1238.1H275.1V1248.9H271.2zM282 1238.1H285.9V1248.9H282z"/>
<path fill="#f7dc2a" d="M192 1154.7H195.9V1165.4H192zM278.4 1238.1H282.3V1248.9H278.4zM307.2 1238.1H311.1V1248.9H307.2z"/>
<path fill="#f5e327" d="M184.8 1154.7H188.7V1165.4H184.8zM307.2 1206.9H311.1V1217.6H307.2z"/>
<path fill="#f5e924" d="M195.6 1154.7H199.5V1165.4H195.6zM202.8 1154.7H206.7V1165.4H202.8zM310.8 1206.9H314.7V1217.6H310.8zM289.2 1238.1H293.1V1248.9H289.2zM303.6 1238.1H307.5V1248.9H303.6z"/>
<path fill="#f6ef20" d="M292.8 1238.1H296.7V1248.9H292.8z"/>
<path fill="#f7f51b" d="M296.4 1238.1H300.3V1248.9H296.4z"/>
<path fill="#f9fb15" d="M199.2 1154.7H203.1V1165.4H199.2zM300 1238.1H303.9V1248.9H300z"/></g><g shape-rendering="crispEdges"><path fill="#3e26a8" d="M628 1259H631.9V1269.7H628zM656.9 1259H664.4V1269.7H656.9z"/>
<path fill="#402ab4" d="M581.1 1259H588.6V1269.7H581.1zM595.6 1259H599.5V1269.7H595.6zM624.4 1259H628.3V1269.7H624.4zM631.6 1259H635.5V1269.7H631.6zM653.3 1259H657.2V1269.7H653.3z"/>
<path fill="#422ec0" d="M592 1259H595.9V1269.7H592zM610 1259H613.9V1269.7H610zM620.8 1259H624.7V1269.7H620.8zM635.2 1259H639.1V1269.7H635.2zM642.4 1259H646.3V1269.7H642.4zM649.6 1259H653.6V1269.7H649.6z"/>
<path fill="#4332cb" d="M573.9 1259H577.8V1269.7H573.9zM588.3 1259H592.2V1269.7H588.3zM602.8 1259H610.3V1269.7H602.8zM646 1259H649.9V1269.7H646z"/>
<path fill="#4537d5" d="M577.5 1259H581.4V1269.7H577.5zM599.2 1259H603.1V1269.7H599.2zM613.6 1259H621.1V1269.7H613.6zM638.8 1259H642.7V1269.7H638.8zM664.1 1259H668V1269.7H664.1z"/>
<path fill="#463cde" d="M566.7 1259H570.6V1269.7H566.7z"/>
<path fill="#4741e5" d="M570.3 1259H574.2V1269.7H570.3zM667.7 1259H675.2V1269.7H667.7z"/>
<path fill="#4747eb" d="M563.1 1259H567V1269.7H563.1z"/>
<path fill="#484df0" d="M530.6 1186H534.5V1196.7H530.6zM555.9 1238.1H563.4V1248.9H555.9z"/>
<path fill="#4852f4" d="M476.6 1113H480.5V1123.7H476.6zM487.4 1186H491.3V1196.7H487.4zM498.2 1186H505.7V1196.7H498.2zM509 1186H512.9V1196.7H509zM537.9 1186H541.8V1196.7H537.9zM559.5 1259H563.4V1269.7H559.5z"/>
<path fill="#4758f8" d="M480.2 1113H487.7V1123.7H480.2zM498.2 1113H502.1V1123.7H498.2zM548.7 1154.7H552.6V1165.4H548.7zM555.9 1154.7H559.8V1165.4H555.9zM494.6 1186H498.5V1196.7H494.6zM516.2 1186H520.1V1196.7H516.2zM534.2 1186H538.2V1196.7H534.2zM545.1 1238.1H556.2V1248.9H545.1zM487.4 1248.6H494.9V1259.3H487.4zM674.9 1259H678.8V1269.7H674.9z"/>
<path fill="#465efb" d="M516.2 1102.6H520.1V1113.3H516.2zM487.4 1113H491.3V1123.7H487.4zM494.6 1113H498.5V1123.7H494.6zM541.5 1154.7H549V1165.4H541.5zM552.3 1154.7H556.2V1165.4H552.3zM559.5 1154.7H563.4V1165.4H559.5zM476.6 1186H480.5V1196.7H476.6zM527 1186H530.9V1196.7H527zM577.5 1196.4H581.4V1207.2H577.5zM555.9 1259H559.8V1269.7H555.9z"/>
<path fill="#4563fd" d="M512.6 1060.8H516.5V1071.6H512.6zM541.5 1060.8H545.4V1071.6H541.5zM592 1060.8H595.9V1071.6H592zM624.4 1060.8H628.3V1071.6H624.4zM642.4 1060.8H646.3V1071.6H642.4zM555.9 1081.7H559.8V1092.4H555.9zM563.1 1081.7H570.6V1092.4H563.1zM523.4 1102.6H527.3V1113.3H523.4zM541.5 1102.6H545.4V1113.3H541.5zM555.9 1102.6H559.8V1113.3H555.9zM501.8 1113H505.7V1123.7H501.8zM692.9 1144.3H700.4V1155H692.9zM537.9 1154.7H541.8V1165.4H537.9zM491 1186H494.9V1196.7H491zM505.4 1186H509.3V1196.7H505.4zM512.6 1186H516.5V1196.7H512.6zM519.8 1186H527.3V1196.7H519.8zM573.9 1196.4H577.8V1207.2H573.9zM584.7 1196.4H595.9V1207.2H584.7zM624.4 1196.4H628.3V1207.2H624.4zM692.9 1217.3H696.8V1228H692.9zM718.2 1217.3H722.1V1228H718.2zM754.2 1217.3H758.1V1228H754.2zM563.1 1238.1H567V1248.9H563.1zM480.2 1248.6H484.1V1259.3H480.2zM498.2 1248.6H502.1V1259.3H498.2zM552.3 1259H556.2V1269.7H552.3zM678.5 1259H682.4V1269.7H678.5z"/>
<path fill="#4269fe" d="M476.6 1060.8H480.5V1071.6H476.6zM559.5 1060.8H567V1071.6H559.5zM628 1060.8H631.9V1071.6H628zM649.6 1060.8H657.2V1071.6H649.6zM671.3 1060.8H675.2V1071.6H671.3zM678.5 1060.8H682.4V1071.6H678.5zM559.5 1081.7H563.4V1092.4H559.5zM476.6 1102.6H480.5V1113.3H476.6zM519.8 1102.6H523.7V1113.3H519.8zM545.1 1102.6H552.6V1113.3H545.1zM491 1113H494.9V1123.7H491zM505.4 1113H512.9V1123.7H505.4zM674.9 1144.3H678.8V1155H674.9zM570.3 1154.7H574.2V1165.4H570.3zM584.7 1154.7H588.6V1165.4H584.7zM595.6 1154.7H599.5V1165.4H595.6zM480.2 1186H487.7V1196.7H480.2zM581.1 1196.4H585V1207.2H581.1zM620.8 1196.4H624.7V1207.2H620.8zM689.3 1217.3H693.2V1228H689.3zM696.5 1217.3H700.4V1228H696.5zM736.2 1217.3H740.1V1228H736.2zM761.4 1217.3H765.4V1228H761.4zM476.6 1248.6H480.5V1259.3H476.6zM483.8 1248.6H487.7V1259.3H483.8zM494.6 1248.6H498.5V1259.3H494.6zM505.4 1248.6H509.3V1259.3H505.4zM519.8 1248.6H527.3V1259.3H519.8zM682.1 1259H686V1269.7H682.1z"/>
<path fill="#3e6fff" d="M480.2 1060.8H484.1V1071.6H480.2zM491 1060.8H494.9V1071.6H491zM509 1060.8H512.9V1071.6H509zM516.2 1060.8H530.9V1071.6H516.2zM537.9 1060.8H541.8V1071.6H537.9zM545.1 1060.8H549V1071.6H545.1zM588.3 1060.8H592.2V1071.6H588.3zM595.6 1060.8H606.7V1071.6H595.6zM610 1060.8H617.5V1071.6H610zM620.8 1060.8H624.7V1071.6H620.8zM635.2 1060.8H642.7V1071.6H635.2zM656.9 1060.8H660.8V1071.6H656.9zM667.7 1060.8H671.6V1071.6H667.7zM674.9 1060.8H678.8V1071.6H674.9zM682.1 1060.8H686V1071.6H682.1zM692.9 1060.8H696.8V1071.6H692.9zM548.7 1081.7H556.2V1092.4H548.7zM498.2 1102.6H505.7V1113.3H498.2zM512.6 1102.6H516.5V1113.3H512.6zM512.6 1113H520.1V1123.7H512.6zM689.3 1144.3H693.2V1155H689.3zM700.1 1144.3H718.5V1155H700.1zM563.1 1154.7H567V1165.4H563.1zM573.9 1154.7H577.8V1165.4H573.9zM588.3 1154.7H595.9V1165.4H588.3zM541.5 1186H545.4V1196.7H541.5zM595.6 1196.4H603.1V1207.2H595.6zM610 1196.4H621.1V1207.2H610zM631.6 1196.4H642.7V1207.2H631.6zM711 1217.3H714.9V1228H711zM721.8 1217.3H725.7V1228H721.8zM732.6 1217.3H736.5V1228H732.6zM739.8 1217.3H743.7V1228H739.8zM501.8 1248.6H505.7V1259.3H501.8zM509 1248.6H520.1V1259.3H509zM548.7 1259H552.6V1269.7H548.7zM685.7 1259H689.6V1269.7H685.7zM685.7 1279.9H689.6V1290.6H685.7z"/>
<path fill="#3875fe" d="M483.8 1060.8H491.3V1071.6H483.8zM494.6 1060.8H498.5V1071.6H494.6zM505.4 1060.8H509.3V1071.6H505.4zM530.6 1060.8H534.5V1071.6H530.6zM552.3 1060.8H559.8V1071.6H552.3zM566.7 1060.8H581.4V1071.6H566.7zM584.7 1060.8H588.6V1071.6H584.7zM617.2 1060.8H621.1V1071.6H617.2zM631.6 1060.8H635.5V1071.6H631.6zM646 1060.8H649.9V1071.6H646zM685.7 1060.8H689.6V1071.6H685.7zM700.1 1060.8H704V1071.6H700.1zM747 1060.8H750.9V1071.6H747zM509 1081.7H512.9V1092.4H509zM527 1081.7H530.9V1092.4H527zM541.5 1081.7H545.4V1092.4H541.5zM480.2 1102.6H498.5V1113.3H480.2zM505.4 1102.6H512.9V1113.3H505.4zM527 1102.6H530.9V1113.3H527zM534.2 1102.6H541.8V1113.3H534.2zM552.3 1102.6H556.2V1113.3H552.3zM566.7 1102.6H570.6V1113.3H566.7zM519.8 1113H527.3V1123.7H519.8zM682.1 1144.3H689.6V1155H682.1zM534.2 1154.7H538.2V1165.4H534.2zM577.5 1154.7H585V1165.4H577.5zM606.4 1196.4H610.3V1207.2H606.4zM628 1196.4H631.9V1207.2H628zM552.3 1206.9H556.2V1217.6H552.3zM685.7 1217.3H689.6V1228H685.7zM700.1 1217.3H707.6V1228H700.1zM725.4 1217.3H732.9V1228H725.4zM750.6 1217.3H754.5V1228H750.6zM757.8 1217.3H761.7V1228H757.8zM592 1227.7H595.9V1238.4H592zM527 1248.6H530.9V1259.3H527zM545.1 1259H549V1269.7H545.1zM631.6 1279.9H635.5V1290.6H631.6zM537.9 1300.7H541.8V1311.5H537.9z"/>
<path fill="#327cfc" d="M577.5 1050.4H581.4V1061.1H577.5zM534.2 1060.8H538.2V1071.6H534.2zM548.7 1060.8H552.6V1071.6H548.7zM581.1 1060.8H585V1071.6H581.1zM606.4 1060.8H610.3V1071.6H606.4zM664.1 1060.8H668V1071.6H664.1zM689.3 1060.8H693.2V1071.6H689.3zM729 1060.8H736.5V1071.6H729zM743.4 1060.8H747.3V1071.6H743.4zM757.8 1060.8H761.7V1071.6H757.8zM494.6 1081.7H498.5V1092.4H494.6zM516.2 1081.7H520.1V1092.4H516.2zM523.4 1081.7H527.3V1092.4H523.4zM537.9 1081.7H541.8V1092.4H537.9zM545.1 1081.7H549V1092.4H545.1zM570.3 1081.7H577.8V1092.4H570.3zM530.6 1102.6H534.5V1113.3H530.6zM559.5 1102.6H567V1113.3H559.5zM678.5 1144.3H682.4V1155H678.5zM516.2 1154.7H520.1V1165.4H516.2zM566.7 1154.7H570.6V1165.4H566.7zM545.1 1186H549V1196.7H545.1zM602.8 1196.4H606.7V1207.2H602.8zM642.4 1196.4H649.9V1207.2H642.4zM754.2 1196.4H758.1V1207.2H754.2zM516.2 1206.9H520.1V1217.6H516.2zM534.2 1206.9H538.2V1217.6H534.2zM548.7 1206.9H552.6V1217.6H548.7zM559.5 1206.9H563.4V1217.6H559.5zM566.7 1206.9H570.6V1217.6H566.7zM573.9 1206.9H577.8V1217.6H573.9zM602.8 1206.9H606.7V1217.6H602.8zM707.4 1217.3H711.3V1228H707.4zM714.6 1217.3H718.5V1228H714.6zM747 1217.3H750.9V1228H747zM602.8 1227.7H606.7V1238.4H602.8zM566.7 1238.1H570.6V1248.9H566.7zM573.9 1279.9H577.8V1290.6H573.9zM678.5 1279.9H686V1290.6H678.5zM552.3 1300.7H559.8V1311.5H552.3z"/>
<path fill="#2f81fa" d="M498.2 1050.4H502.1V1061.1H498.2zM530.6 1050.4H534.5V1061.1H530.6zM541.5 1050.4H545.4V1061.1H541.5zM599.2 1050.4H603.1V1061.1H599.2zM617.2 1050.4H621.1V1061.1H617.2zM635.2 1050.4H639.1V1061.1H635.2zM656.9 1050.4H660.8V1061.1H656.9zM743.4 1050.4H747.3V1061.1H743.4zM501.8 1060.8H505.7V1071.6H501.8zM660.5 1060.8H664.4V1071.6H660.5zM696.5 1060.8H700.4V1071.6H696.5zM707.4 1060.8H729.3V1071.6H707.4zM736.2 1060.8H743.7V1071.6H736.2zM750.6 1060.8H754.5V1071.6H750.6zM476.6 1081.7H484.1V1092.4H476.6zM487.4 1081.7H491.3V1092.4H487.4zM505.4 1081.7H509.3V1092.4H505.4zM512.6 1081.7H516.5V1092.4H512.6zM519.8 1081.7H523.7V1092.4H519.8zM534.2 1081.7H538.2V1092.4H534.2zM577.5 1081.7H581.4V1092.4H577.5zM527 1113H530.9V1123.7H527zM671.3 1144.3H675.2V1155H671.3zM505.4 1154.7H509.3V1165.4H505.4zM599.2 1154.7H606.7V1165.4H599.2zM714.6 1186H718.5V1196.7H714.6zM570.3 1196.4H574.2V1207.2H570.3zM725.4 1196.4H732.9V1207.2H725.4zM747 1196.4H754.5V1207.2H747zM480.2 1206.9H494.9V1217.6H480.2zM498.2 1206.9H516.5V1217.6H498.2zM519.8 1206.9H523.7V1217.6H519.8zM530.6 1206.9H534.5V1217.6H530.6zM545.1 1206.9H549V1217.6H545.1zM563.1 1206.9H567V1217.6H563.1zM570.3 1206.9H574.2V1217.6H570.3zM577.5 1206.9H585V1217.6H577.5zM613.6 1206.9H617.5V1217.6H613.6zM635.2 1206.9H639.1V1217.6H635.2zM664.1 1206.9H675.2V1217.6H664.1zM682.1 1206.9H686V1217.6H682.1zM689.3 1206.9H696.8V1217.6H689.3zM714.6 1206.9H718.5V1217.6H714.6zM725.4 1206.9H729.3V1217.6H725.4zM747 1206.9H750.9V1217.6H747zM757.8 1206.9H761.7V1217.6H757.8zM516.2 1217.3H520.1V1228H516.2zM743.4 1217.3H747.3V1228H743.4zM595.6 1227.7H603.1V1238.4H595.6zM606.4 1227.7H613.9V1238.4H606.4zM620.8 1227.7H624.7V1238.4H620.8zM628 1227.7H631.9V1238.4H628zM559.5 1269.4H563.4V1280.2H559.5zM588.3 1279.9H592.2V1290.6H588.3zM671.3 1279.9H675.2V1290.6H671.3zM692.9 1279.9H696.8V1290.6H692.9zM707.4 1279.9H711.3V1290.6H707.4zM736.2 1290.3H740.1V1301H736.2z"/>
<path fill="#2e87f7" d="M476.6 1050.4H480.5V1061.1H476.6zM523.4 1050.4H530.9V1061.1H523.4zM552.3 1050.4H563.4V1061.1H552.3zM581.1 1050.4H585V1061.1H581.1zM595.6 1050.4H599.5V1061.1H595.6zM602.8 1050.4H606.7V1061.1H602.8zM638.8 1050.4H642.7V1061.1H638.8zM649.6 1050.4H657.2V1061.1H649.6zM682.1 1050.4H686V1061.1H682.1zM747 1050.4H750.9V1061.1H747zM498.2 1060.8H502.1V1071.6H498.2zM754.2 1060.8H758.1V1071.6H754.2zM761.4 1060.8H765.4V1071.6H761.4zM483.8 1081.7H487.7V1092.4H483.8zM491 1081.7H494.9V1092.4H491zM501.8 1081.7H505.7V1092.4H501.8zM530.6 1081.7H534.5V1092.4H530.6zM635.2 1144.3H639.1V1155H635.2zM642.4 1144.3H653.6V1155H642.4zM487.4 1154.7H491.3V1165.4H487.4zM494.6 1154.7H498.5V1165.4H494.6zM501.8 1154.7H505.7V1165.4H501.8zM512.6 1154.7H516.5V1165.4H512.6zM523.4 1154.7H527.3V1165.4H523.4zM649.6 1196.4H660.8V1207.2H649.6zM721.8 1196.4H725.7V1207.2H721.8zM732.6 1196.4H736.5V1207.2H732.6zM757.8 1196.4H765.4V1207.2H757.8zM476.6 1206.9H480.5V1217.6H476.6zM494.6 1206.9H498.5V1217.6H494.6zM523.4 1206.9H530.9V1217.6H523.4zM555.9 1206.9H559.8V1217.6H555.9zM595.6 1206.9H599.5V1217.6H595.6zM610 1206.9H613.9V1217.6H610zM620.8 1206.9H628.3V1217.6H620.8zM638.8 1206.9H649.9V1217.6H638.8zM674.9 1206.9H682.4V1217.6H674.9zM685.7 1206.9H689.6V1217.6H685.7zM696.5 1206.9H714.9V1217.6H696.5zM721.8 1206.9H725.7V1217.6H721.8zM732.6 1206.9H736.5V1217.6H732.6zM743.4 1206.9H747.3V1217.6H743.4zM754.2 1206.9H758.1V1217.6H754.2zM483.8 1217.3H487.7V1228H483.8zM498.2 1217.3H502.1V1228H498.2zM530.6 1217.3H534.5V1228H530.6zM631.6 1217.3H635.5V1228H631.6zM577.5 1227.7H585V1238.4H577.5zM588.3 1227.7H592.2V1238.4H588.3zM624.4 1227.7H628.3V1238.4H624.4zM631.6 1227.7H635.5V1238.4H631.6zM534.2 1248.6H538.2V1259.3H534.2zM541.5 1259H545.4V1269.7H541.5zM552.3 1269.4H559.8V1280.2H552.3zM563.1 1269.4H567V1280.2H563.1zM570.3 1279.9H574.2V1290.6H570.3zM606.4 1279.9H610.3V1290.6H606.4zM646 1279.9H653.6V1290.6H646zM660.5 1279.9H671.6V1290.6H660.5zM674.9 1279.9H678.8V1290.6H674.9zM689.3 1279.9H693.2V1290.6H689.3zM696.5 1279.9H700.4V1290.6H696.5zM703.7 1279.9H707.6V1290.6H703.7zM711 1279.9H714.9V1290.6H711zM718.2 1279.9H722.1V1290.6H718.2zM703.7 1290.3H714.9V1301H703.7zM725.4 1290.3H729.3V1301H725.4zM732.6 1290.3H736.5V1301H732.6zM534.2 1300.7H538.2V1311.5H534.2zM545.1 1300.7H552.6V1311.5H545.1zM559.5 1300.7H567V1311.5H559.5zM747 1300.7H750.9V1311.5H747z"/>
<path fill="#2d8cf3" d="M494.6 1050.4H498.5V1061.1H494.6zM505.4 1050.4H516.5V1061.1H505.4zM534.2 1050.4H541.8V1061.1H534.2zM548.7 1050.4H552.6V1061.1H548.7zM563.1 1050.4H574.2V1061.1H563.1zM613.6 1050.4H617.5V1061.1H613.6zM620.8 1050.4H628.3V1061.1H620.8zM646 1050.4H649.9V1061.1H646zM674.9 1050.4H682.4V1061.1H674.9zM685.7 1050.4H689.6V1061.1H685.7zM707.4 1050.4H711.3V1061.1H707.4zM714.6 1050.4H718.5V1061.1H714.6zM729 1050.4H732.9V1061.1H729zM739.8 1050.4H743.7V1061.1H739.8zM703.7 1060.8H707.6V1071.6H703.7zM498.2 1081.7H502.1V1092.4H498.2zM584.7 1102.6H592.2V1113.3H584.7zM606.4 1102.6H610.3V1113.3H606.4zM613.6 1102.6H617.5V1113.3H613.6zM653.3 1102.6H657.2V1113.3H653.3zM631.6 1144.3H635.5V1155H631.6zM638.8 1144.3H642.7V1155H638.8zM653.3 1144.3H671.6V1155H653.3zM483.8 1154.7H487.7V1165.4H483.8zM491 1154.7H494.9V1165.4H491zM498.2 1154.7H502.1V1165.4H498.2zM530.6 1154.7H534.5V1165.4H530.6zM613.6 1154.7H617.5V1165.4H613.6zM674.9 1154.7H678.8V1165.4H674.9zM754.2 1186H758.1V1196.7H754.2zM696.5 1196.4H700.4V1207.2H696.5zM707.4 1196.4H711.3V1207.2H707.4zM718.2 1196.4H722.1V1207.2H718.2zM736.2 1196.4H740.1V1207.2H736.2zM743.4 1196.4H747.3V1207.2H743.4zM537.9 1206.9H541.8V1217.6H537.9zM584.7 1206.9H595.9V1217.6H584.7zM606.4 1206.9H610.3V1217.6H606.4zM617.2 1206.9H621.1V1217.6H617.2zM628 1206.9H631.9V1217.6H628zM660.5 1206.9H664.4V1217.6H660.5zM718.2 1206.9H722.1V1217.6H718.2zM729 1206.9H732.9V1217.6H729zM736.2 1206.9H740.1V1217.6H736.2zM487.4 1217.3H494.9V1228H487.4zM519.8 1217.3H530.9V1228H519.8zM624.4 1217.3H628.3V1228H624.4zM642.4 1217.3H646.3V1228H642.4zM678.5 1217.3H686V1228H678.5zM566.7 1227.7H574.2V1238.4H566.7zM584.7 1227.7H588.6V1238.4H584.7zM613.6 1227.7H621.1V1238.4H613.6zM638.8 1227.7H649.9V1238.4H638.8zM530.6 1248.6H534.5V1259.3H530.6zM689.3 1259H693.2V1269.7H689.3zM548.7 1269.4H552.6V1280.2H548.7zM566.7 1269.4H570.6V1280.2H566.7zM541.5 1279.9H545.4V1290.6H541.5zM555.9 1279.9H559.8V1290.6H555.9zM566.7 1279.9H570.6V1290.6H566.7zM581.1 1279.9H585V1290.6H581.1zM592 1279.9H603.1V1290.6H592zM610 1279.9H613.9V1290.6H610zM628 1279.9H631.9V1290.6H628zM635.2 1279.9H642.7V1290.6H635.2zM653.3 1279.9H660.8V1290.6H653.3zM700.1 1279.9H704V1290.6H700.1zM714.6 1279.9H718.5V1290.6H714.6zM725.4 1279.9H729.3V1290.6H725.4zM714.6 1290.3H725.7V1301H714.6zM729 1290.3H732.9V1301H729zM754.2 1290.3H758.1V1301H754.2zM541.5 1300.7H545.4V1311.5H541.5zM566.7 1300.7H574.2V1311.5H566.7z"/>
<path fill="#2b91ef" d="M480.2 1050.4H487.7V1061.1H480.2zM501.8 1050.4H505.7V1061.1H501.8zM516.2 1050.4H523.7V1061.1H516.2zM545.1 1050.4H549V1061.1H545.1zM573.9 1050.4H577.8V1061.1H573.9zM584.7 1050.4H588.6V1061.1H584.7zM610 1050.4H613.9V1061.1H610zM628 1050.4H635.5V1061.1H628zM642.4 1050.4H646.3V1061.1H642.4zM667.7 1050.4H671.6V1061.1H667.7zM689.3 1050.4H693.2V1061.1H689.3zM700.1 1050.4H707.6V1061.1H700.1zM711 1050.4H714.9V1061.1H711zM718.2 1050.4H725.7V1061.1H718.2zM732.6 1050.4H740.1V1061.1H732.6zM750.6 1050.4H758.1V1061.1H750.6zM584.7 1081.7H588.6V1092.4H584.7zM606.4 1081.7H610.3V1092.4H606.4zM620.8 1081.7H624.7V1092.4H620.8zM631.6 1081.7H635.5V1092.4H631.6zM570.3 1102.6H574.2V1113.3H570.3zM592 1102.6H595.9V1113.3H592zM617.2 1102.6H624.7V1113.3H617.2zM628 1102.6H631.9V1113.3H628zM635.2 1102.6H639.1V1113.3H635.2zM642.4 1102.6H646.3V1113.3H642.4zM649.6 1102.6H653.6V1113.3H649.6zM530.6 1113H534.5V1123.7H530.6zM624.4 1144.3H631.9V1155H624.4zM718.2 1144.3H725.7V1155H718.2zM476.6 1154.7H484.1V1165.4H476.6zM509 1154.7H512.9V1165.4H509zM519.8 1154.7H523.7V1165.4H519.8zM527 1154.7H530.9V1165.4H527zM606.4 1154.7H610.3V1165.4H606.4zM620.8 1154.7H624.7V1165.4H620.8zM646 1154.7H649.9V1165.4H646zM671.3 1154.7H675.2V1165.4H671.3zM689.3 1154.7H696.8V1165.4H689.3zM725.4 1154.7H729.3V1165.4H725.4zM739.8 1154.7H743.7V1165.4H739.8zM548.7 1186H559.8V1196.7H548.7zM747 1186H750.9V1196.7H747zM757.8 1186H761.7V1196.7H757.8zM566.7 1196.4H570.6V1207.2H566.7zM682.1 1196.4H686V1207.2H682.1zM689.3 1196.4H696.8V1207.2H689.3zM703.7 1196.4H707.6V1207.2H703.7zM711 1196.4H714.9V1207.2H711zM739.8 1196.4H743.7V1207.2H739.8zM541.5 1206.9H545.4V1217.6H541.5zM599.2 1206.9H603.1V1217.6H599.2zM631.6 1206.9H635.5V1217.6H631.6zM649.6 1206.9H653.6V1217.6H649.6zM656.9 1206.9H660.8V1217.6H656.9zM739.8 1206.9H743.7V1217.6H739.8zM750.6 1206.9H754.5V1217.6H750.6zM761.4 1206.9H765.4V1217.6H761.4zM480.2 1217.3H484.1V1228H480.2zM501.8 1217.3H505.7V1228H501.8zM512.6 1217.3H516.5V1228H512.6zM541.5 1217.3H545.4V1228H541.5zM628 1217.3H631.9V1228H628zM653.3 1217.3H657.2V1228H653.3zM480.2 1227.7H487.7V1238.4H480.2zM555.9 1227.7H559.8V1238.4H555.9zM635.2 1227.7H639.1V1238.4H635.2zM667.7 1227.7H671.6V1238.4H667.7zM739.8 1227.7H750.9V1238.4H739.8zM541.5 1238.1H545.4V1248.9H541.5zM537.9 1248.6H541.8V1259.3H537.9zM721.8 1248.6H725.7V1259.3H721.8zM729 1248.6H732.9V1259.3H729zM537.9 1259H541.8V1269.7H537.9zM570.3 1269.4H574.2V1280.2H570.3zM505.4 1279.9H509.3V1290.6H505.4zM548.7 1279.9H556.2V1290.6H548.7zM559.5 1279.9H567V1290.6H559.5zM577.5 1279.9H581.4V1290.6H577.5zM584.7 1279.9H588.6V1290.6H584.7zM613.6 1279.9H617.5V1290.6H613.6zM624.4 1279.9H628.3V1290.6H624.4zM721.8 1279.9H725.7V1290.6H721.8zM729 1279.9H740.1V1290.6H729zM743.4 1279.9H747.3V1290.6H743.4zM761.4 1279.9H765.4V1290.6H761.4zM696.5 1290.3H704V1301H696.5zM739.8 1290.3H750.9V1301H739.8zM602.8 1300.7H606.7V1311.5H602.8zM671.3 1300.7H675.2V1311.5H671.3zM714.6 1300.7H722.1V1311.5H714.6zM725.4 1300.7H729.3V1311.5H725.4zM739.8 1300.7H743.7V1311.5H739.8zM750.6 1300.7H754.5V1311.5H750.6z"/>
<path fill="#2797eb" d="M487.4 1050.4H494.9V1061.1H487.4zM588.3 1050.4H595.9V1061.1H588.3zM671.3 1050.4H675.2V1061.1H671.3zM696.5 1050.4H700.4V1061.1H696.5zM725.4 1050.4H729.3V1061.1H725.4zM761.4 1050.4H765.4V1061.1H761.4zM483.8 1071.3H487.7V1082H483.8zM581.1 1081.7H585V1092.4H581.1zM588.3 1081.7H603.1V1092.4H588.3zM613.6 1081.7H621.1V1092.4H613.6zM624.4 1081.7H631.9V1092.4H624.4zM573.9 1102.6H581.4V1113.3H573.9zM599.2 1102.6H606.7V1113.3H599.2zM610 1102.6H613.9V1113.3H610zM631.6 1102.6H635.5V1113.3H631.6zM638.8 1102.6H642.7V1113.3H638.8zM537.9 1113H541.8V1123.7H537.9zM577.5 1144.3H585V1155H577.5zM725.4 1144.3H729.3V1155H725.4zM638.8 1154.7H642.7V1165.4H638.8zM664.1 1154.7H671.6V1165.4H664.1zM678.5 1154.7H682.4V1165.4H678.5zM685.7 1154.7H689.6V1165.4H685.7zM707.4 1154.7H718.5V1165.4H707.4zM732.6 1154.7H740.1V1165.4H732.6zM743.4 1154.7H754.5V1165.4H743.4zM711 1186H714.9V1196.7H711zM718.2 1186H722.1V1196.7H718.2zM725.4 1186H740.1V1196.7H725.4zM750.6 1186H754.5V1196.7H750.6zM559.5 1196.4H567V1207.2H559.5zM664.1 1196.4H671.6V1207.2H664.1zM674.9 1196.4H682.4V1207.2H674.9zM685.7 1196.4H689.6V1207.2H685.7zM700.1 1196.4H704V1207.2H700.1zM714.6 1196.4H718.5V1207.2H714.6zM653.3 1206.9H657.2V1217.6H653.3zM476.6 1217.3H480.5V1228H476.6zM494.6 1217.3H498.5V1228H494.6zM509 1217.3H512.9V1228H509zM534.2 1217.3H538.2V1228H534.2zM545.1 1217.3H549V1228H545.1zM617.2 1217.3H621.1V1228H617.2zM635.2 1217.3H642.7V1228H635.2zM646 1217.3H653.6V1228H646zM656.9 1217.3H660.8V1228H656.9zM512.6 1227.7H516.5V1238.4H512.6zM537.9 1227.7H545.4V1238.4H537.9zM559.5 1227.7H567V1238.4H559.5zM707.4 1227.7H711.3V1238.4H707.4zM750.6 1227.7H754.5V1238.4H750.6zM570.3 1238.1H574.2V1248.9H570.3zM703.7 1248.6H707.6V1259.3H703.7zM714.6 1248.6H722.1V1259.3H714.6zM725.4 1248.6H729.3V1259.3H725.4zM732.6 1248.6H740.1V1259.3H732.6zM754.2 1248.6H758.1V1259.3H754.2zM692.9 1259H696.8V1269.7H692.9zM519.8 1269.4H523.7V1280.2H519.8zM545.1 1269.4H549V1280.2H545.1zM573.9 1269.4H577.8V1280.2H573.9zM584.7 1269.4H588.6V1280.2H584.7zM476.6 1279.9H480.5V1290.6H476.6zM487.4 1279.9H494.9V1290.6H487.4zM498.2 1279.9H505.7V1290.6H498.2zM509 1279.9H512.9V1290.6H509zM519.8 1279.9H530.9V1290.6H519.8zM534.2 1279.9H538.2V1290.6H534.2zM545.1 1279.9H549V1290.6H545.1zM620.8 1279.9H624.7V1290.6H620.8zM642.4 1279.9H646.3V1290.6H642.4zM739.8 1279.9H743.7V1290.6H739.8zM747 1279.9H758.1V1290.6H747zM750.6 1290.3H754.5V1301H750.6zM757.8 1290.3H761.7V1301H757.8zM519.8 1300.7H523.7V1311.5H519.8zM530.6 1300.7H534.5V1311.5H530.6zM573.9 1300.7H581.4V1311.5H573.9zM584.7 1300.7H592.2V1311.5H584.7zM595.6 1300.7H603.1V1311.5H595.6zM628 1300.7H631.9V1311.5H628zM635.2 1300.7H639.1V1311.5H635.2zM649.6 1300.7H653.6V1311.5H649.6zM711 1300.7H714.9V1311.5H711zM721.8 1300.7H725.7V1311.5H721.8zM736.2 1300.7H740.1V1311.5H736.2zM743.4 1300.7H747.3V1311.5H743.4z"/>
<path fill="#259be8" d="M606.4 1050.4H610.3V1061.1H606.4zM660.5 1050.4H668V1061.1H660.5zM692.9 1050.4H696.8V1061.1H692.9zM534.2 1071.3H538.2V1082H534.2zM570.3 1071.3H577.8V1082H570.3zM584.7 1071.3H588.6V1082H584.7zM610 1081.7H613.9V1092.4H610zM581.1 1102.6H585V1113.3H581.1zM595.6 1102.6H599.5V1113.3H595.6zM624.4 1102.6H628.3V1113.3H624.4zM646 1102.6H649.9V1113.3H646zM534.2 1113H538.2V1123.7H534.2zM494.6 1144.3H498.5V1155H494.6zM523.4 1144.3H530.9V1155H523.4zM584.7 1144.3H588.6V1155H584.7zM613.6 1144.3H624.7V1155H613.6zM729 1144.3H732.9V1155H729zM610 1154.7H613.9V1165.4H610zM617.2 1154.7H621.1V1165.4H617.2zM624.4 1154.7H628.3V1165.4H624.4zM642.4 1154.7H646.3V1165.4H642.4zM649.6 1154.7H653.6V1165.4H649.6zM656.9 1154.7H660.8V1165.4H656.9zM682.1 1154.7H686V1165.4H682.1zM696.5 1154.7H700.4V1165.4H696.5zM703.7 1154.7H707.6V1165.4H703.7zM718.2 1154.7H722.1V1165.4H718.2zM729 1154.7H732.9V1165.4H729zM757.8 1154.7H765.4V1165.4H757.8zM498.2 1165.1H502.1V1175.9H498.2zM696.5 1186H700.4V1196.7H696.5zM721.8 1186H725.7V1196.7H721.8zM739.8 1186H747.3V1196.7H739.8zM761.4 1186H765.4V1196.7H761.4zM498.2 1196.4H502.1V1207.2H498.2zM512.6 1196.4H516.5V1207.2H512.6zM660.5 1196.4H664.4V1207.2H660.5zM671.3 1196.4H675.2V1207.2H671.3zM505.4 1217.3H509.3V1228H505.4zM537.9 1217.3H541.8V1228H537.9zM620.8 1217.3H624.7V1228H620.8zM660.5 1217.3H671.6V1228H660.5zM487.4 1227.7H494.9V1238.4H487.4zM501.8 1227.7H505.7V1238.4H501.8zM509 1227.7H512.9V1238.4H509zM516.2 1227.7H520.1V1238.4H516.2zM545.1 1227.7H549V1238.4H545.1zM552.3 1227.7H556.2V1238.4H552.3zM573.9 1227.7H577.8V1238.4H573.9zM660.5 1227.7H664.4V1238.4H660.5zM689.3 1227.7H707.6V1238.4H689.3zM711 1227.7H714.9V1238.4H711zM729 1227.7H732.9V1238.4H729zM736.2 1227.7H740.1V1238.4H736.2zM761.4 1227.7H765.4V1238.4H761.4zM541.5 1248.6H545.4V1259.3H541.5zM682.1 1248.6H686V1259.3H682.1zM707.4 1248.6H714.9V1259.3H707.4zM739.8 1248.6H750.9V1259.3H739.8zM757.8 1248.6H765.4V1259.3H757.8zM534.2 1259H538.2V1269.7H534.2zM483.8 1269.4H487.7V1280.2H483.8zM491 1269.4H494.9V1280.2H491zM498.2 1269.4H502.1V1280.2H498.2zM516.2 1269.4H520.1V1280.2H516.2zM577.5 1269.4H585V1280.2H577.5zM610 1269.4H613.9V1280.2H610zM620.8 1269.4H631.9V1280.2H620.8zM664.1 1269.4H668V1280.2H664.1zM494.6 1279.9H498.5V1290.6H494.6zM512.6 1279.9H516.5V1290.6H512.6zM530.6 1279.9H534.5V1290.6H530.6zM537.9 1279.9H541.8V1290.6H537.9zM602.8 1279.9H606.7V1290.6H602.8zM530.6 1290.3H534.5V1301H530.6zM761.4 1290.3H765.4V1301H761.4zM480.2 1300.7H484.1V1311.5H480.2zM581.1 1300.7H585V1311.5H581.1zM606.4 1300.7H610.3V1311.5H606.4zM613.6 1300.7H617.5V1311.5H613.6zM620.8 1300.7H628.3V1311.5H620.8zM631.6 1300.7H635.5V1311.5H631.6zM638.8 1300.7H649.9V1311.5H638.8zM653.3 1300.7H671.6V1311.5H653.3zM674.9 1300.7H678.8V1311.5H674.9zM685.7 1300.7H689.6V1311.5H685.7zM692.9 1300.7H696.8V1311.5H692.9zM700.1 1300.7H707.6V1311.5H700.1zM729 1300.7H736.5V1311.5H729zM757.8 1300.7H761.7V1311.5H757.8z"/>
<path fill="#23a0e5" d="M757.8 1050.4H761.7V1061.1H757.8zM476.6 1071.3H480.5V1082H476.6zM512.6 1071.3H516.5V1082H512.6zM541.5 1071.3H549V1082H541.5zM577.5 1071.3H585V1082H577.5zM606.4 1071.3H610.3V1082H606.4zM631.6 1071.3H639.1V1082H631.6zM649.6 1071.3H653.6V1082H649.6zM667.7 1071.3H671.6V1082H667.7zM732.6 1071.3H740.1V1082H732.6zM747 1071.3H750.9V1082H747zM602.8 1081.7H606.7V1092.4H602.8zM498.2 1092.1H502.1V1102.9H498.2zM512.6 1092.1H516.5V1102.9H512.6zM606.4 1092.1H610.3V1102.9H606.4zM757.8 1102.6H765.4V1113.3H757.8zM541.5 1113H545.4V1123.7H541.5zM491 1144.3H494.9V1155H491zM512.6 1144.3H523.7V1155H512.6zM530.6 1144.3H534.5V1155H530.6zM559.5 1144.3H567V1155H559.5zM732.6 1144.3H736.5V1155H732.6zM747 1144.3H750.9V1155H747zM761.4 1144.3H765.4V1155H761.4zM628 1154.7H631.9V1165.4H628zM653.3 1154.7H657.2V1165.4H653.3zM660.5 1154.7H664.4V1165.4H660.5zM700.1 1154.7H704V1165.4H700.1zM721.8 1154.7H725.7V1165.4H721.8zM527 1165.1H530.9V1175.9H527zM534.2 1165.1H538.2V1175.9H534.2zM559.5 1186H567V1196.7H559.5zM707.4 1186H711.3V1196.7H707.4zM487.4 1196.4H491.3V1207.2H487.4zM516.2 1196.4H520.1V1207.2H516.2zM545.1 1196.4H552.6V1207.2H545.1zM555.9 1196.4H559.8V1207.2H555.9zM610 1217.3H613.9V1228H610zM671.3 1217.3H678.8V1228H671.3zM476.6 1227.7H480.5V1238.4H476.6zM494.6 1227.7H502.1V1238.4H494.6zM505.4 1227.7H509.3V1238.4H505.4zM519.8 1227.7H538.2V1238.4H519.8zM649.6 1227.7H660.8V1238.4H649.6zM671.3 1227.7H675.2V1238.4H671.3zM682.1 1227.7H689.6V1238.4H682.1zM714.6 1227.7H718.5V1238.4H714.6zM721.8 1227.7H729.3V1238.4H721.8zM732.6 1227.7H736.5V1238.4H732.6zM757.8 1227.7H761.7V1238.4H757.8zM685.7 1248.6H693.2V1259.3H685.7zM700.1 1248.6H704V1259.3H700.1zM750.6 1248.6H754.5V1259.3H750.6zM696.5 1259H700.4V1269.7H696.5zM703.7 1259H707.6V1269.7H703.7zM476.6 1269.4H480.5V1280.2H476.6zM494.6 1269.4H498.5V1280.2H494.6zM512.6 1269.4H516.5V1280.2H512.6zM523.4 1269.4H527.3V1280.2H523.4zM537.9 1269.4H541.8V1280.2H537.9zM595.6 1269.4H599.5V1280.2H595.6zM606.4 1269.4H610.3V1280.2H606.4zM631.6 1269.4H639.1V1280.2H631.6zM646 1269.4H649.9V1280.2H646zM653.3 1269.4H664.4V1280.2H653.3zM667.7 1269.4H671.6V1280.2H667.7zM757.8 1269.4H761.7V1280.2H757.8zM480.2 1279.9H484.1V1290.6H480.2zM516.2 1279.9H520.1V1290.6H516.2zM617.2 1279.9H621.1V1290.6H617.2zM757.8 1279.9H761.7V1290.6H757.8zM476.6 1290.3H480.5V1301H476.6zM512.6 1290.3H516.5V1301H512.6zM487.4 1300.7H494.9V1311.5H487.4zM498.2 1300.7H502.1V1311.5H498.2zM512.6 1300.7H520.1V1311.5H512.6zM527 1300.7H530.9V1311.5H527zM592 1300.7H595.9V1311.5H592zM678.5 1300.7H686V1311.5H678.5zM689.3 1300.7H693.2V1311.5H689.3zM696.5 1300.7H700.4V1311.5H696.5zM754.2 1300.7H758.1V1311.5H754.2z"/>
<path fill="#20a5e3" d="M519.8 1029.5H527.3V1040.3H519.8zM530.6 1029.5H534.5V1040.3H530.6zM480.2 1071.3H484.1V1082H480.2zM487.4 1071.3H491.3V1082H487.4zM498.2 1071.3H505.7V1082H498.2zM516.2 1071.3H520.1V1082H516.2zM527 1071.3H530.9V1082H527zM537.9 1071.3H541.8V1082H537.9zM559.5 1071.3H563.4V1082H559.5zM588.3 1071.3H595.9V1082H588.3zM599.2 1071.3H606.7V1082H599.2zM624.4 1071.3H628.3V1082H624.4zM638.8 1071.3H642.7V1082H638.8zM646 1071.3H649.9V1082H646zM653.3 1071.3H657.2V1082H653.3zM671.3 1071.3H675.2V1082H671.3zM682.1 1071.3H689.6V1082H682.1zM700.1 1071.3H704V1082H700.1zM707.4 1071.3H714.9V1082H707.4zM721.8 1071.3H725.7V1082H721.8zM483.8 1092.1H487.7V1102.9H483.8zM516.2 1092.1H523.7V1102.9H516.2zM534.2 1092.1H538.2V1102.9H534.2zM545.1 1092.1H549V1102.9H545.1zM678.5 1092.1H682.4V1102.9H678.5zM757.8 1092.1H761.7V1102.9H757.8zM656.9 1102.6H664.4V1113.3H656.9zM725.4 1102.6H729.3V1113.3H725.4zM747 1102.6H750.9V1113.3H747zM754.2 1102.6H758.1V1113.3H754.2zM548.7 1113H552.6V1123.7H548.7zM689.3 1133.8H693.2V1144.6H689.3zM498.2 1144.3H509.3V1155H498.2zM534.2 1144.3H538.2V1155H534.2zM548.7 1144.3H559.8V1155H548.7zM573.9 1144.3H577.8V1155H573.9zM595.6 1144.3H599.5V1155H595.6zM602.8 1144.3H613.9V1155H602.8zM739.8 1144.3H747.3V1155H739.8zM754.2 1144.3H761.7V1155H754.2zM631.6 1154.7H639.1V1165.4H631.6zM501.8 1165.1H509.3V1175.9H501.8zM512.6 1165.1H516.5V1175.9H512.6zM541.5 1165.1H545.4V1175.9H541.5zM692.9 1165.1H696.8V1175.9H692.9zM667.7 1186H675.2V1196.7H667.7zM678.5 1186H682.4V1196.7H678.5zM685.7 1186H696.8V1196.7H685.7zM491 1196.4H498.5V1207.2H491zM505.4 1196.4H512.9V1207.2H505.4zM519.8 1196.4H534.5V1207.2H519.8zM552.3 1196.4H556.2V1207.2H552.3zM613.6 1217.3H617.5V1228H613.6zM548.7 1227.7H552.6V1238.4H548.7zM664.1 1227.7H668V1238.4H664.1zM718.2 1227.7H722.1V1238.4H718.2zM754.2 1227.7H758.1V1238.4H754.2zM523.4 1238.1H527.3V1248.9H523.4zM584.7 1238.1H588.6V1248.9H584.7zM678.5 1238.1H682.4V1248.9H678.5zM696.5 1238.1H700.4V1248.9H696.5zM725.4 1238.1H729.3V1248.9H725.4zM545.1 1248.6H549V1259.3H545.1zM563.1 1248.6H570.6V1259.3H563.1zM624.4 1248.6H628.3V1259.3H624.4zM660.5 1248.6H664.4V1259.3H660.5zM671.3 1248.6H682.4V1259.3H671.3zM692.9 1248.6H696.8V1259.3H692.9zM480.2 1269.4H484.1V1280.2H480.2zM501.8 1269.4H509.3V1280.2H501.8zM527 1269.4H530.9V1280.2H527zM588.3 1269.4H595.9V1280.2H588.3zM599.2 1269.4H606.7V1280.2H599.2zM617.2 1269.4H621.1V1280.2H617.2zM642.4 1269.4H646.3V1280.2H642.4zM649.6 1269.4H653.6V1280.2H649.6zM671.3 1269.4H678.8V1280.2H671.3zM692.9 1269.4H696.8V1280.2H692.9zM703.7 1269.4H707.6V1280.2H703.7zM711 1269.4H718.5V1280.2H711zM729 1269.4H732.9V1280.2H729zM754.2 1269.4H758.1V1280.2H754.2zM498.2 1290.3H502.1V1301H498.2zM527 1290.3H530.9V1301H527zM563.1 1290.3H567V1301H563.1zM689.3 1290.3H696.8V1301H689.3zM476.6 1300.7H480.5V1311.5H476.6zM483.8 1300.7H487.7V1311.5H483.8zM505.4 1300.7H512.9V1311.5H505.4zM610 1300.7H613.9V1311.5H610zM707.4 1300.7H711.3V1311.5H707.4zM761.4 1300.7H765.4V1311.5H761.4z"/>
<path fill="#1ca9df" d="M527 1029.5H530.9V1040.3H527zM581.1 1029.5H585V1040.3H581.1zM642.4 1029.5H646.3V1040.3H642.4zM682.1 1029.5H686V1040.3H682.1zM700.1 1029.5H704V1040.3H700.1zM750.6 1029.5H754.5V1040.3H750.6zM491 1071.3H494.9V1082H491zM505.4 1071.3H512.9V1082H505.4zM519.8 1071.3H527.3V1082H519.8zM530.6 1071.3H534.5V1082H530.6zM548.7 1071.3H552.6V1082H548.7zM555.9 1071.3H559.8V1082H555.9zM566.7 1071.3H570.6V1082H566.7zM610 1071.3H613.9V1082H610zM660.5 1071.3H668V1082H660.5zM678.5 1071.3H682.4V1082H678.5zM714.6 1071.3H722.1V1082H714.6zM729 1071.3H732.9V1082H729zM743.4 1071.3H747.3V1082H743.4zM750.6 1071.3H765.4V1082H750.6zM761.4 1081.7H765.4V1092.4H761.4zM476.6 1092.1H484.1V1102.9H476.6zM491 1092.1H498.5V1102.9H491zM523.4 1092.1H534.5V1102.9H523.4zM739.8 1092.1H743.7V1102.9H739.8zM721.8 1102.6H725.7V1113.3H721.8zM729 1102.6H736.5V1113.3H729zM739.8 1102.6H747.3V1113.3H739.8zM545.1 1113H549V1123.7H545.1zM653.3 1133.8H657.2V1144.6H653.3zM660.5 1133.8H664.4V1144.6H660.5zM674.9 1133.8H678.8V1144.6H674.9zM711 1133.8H714.9V1144.6H711zM476.6 1144.3H491.3V1155H476.6zM509 1144.3H512.9V1155H509zM537.9 1144.3H545.4V1155H537.9zM566.7 1144.3H570.6V1155H566.7zM588.3 1144.3H595.9V1155H588.3zM599.2 1144.3H603.1V1155H599.2zM736.2 1144.3H740.1V1155H736.2zM750.6 1144.3H754.5V1155H750.6zM754.2 1154.7H758.1V1165.4H754.2zM476.6 1165.1H484.1V1175.9H476.6zM491 1165.1H498.5V1175.9H491zM509 1165.1H512.9V1175.9H509zM516.2 1165.1H523.7V1175.9H516.2zM545.1 1165.1H549V1175.9H545.1zM671.3 1165.1H675.2V1175.9H671.3zM678.5 1165.1H682.4V1175.9H678.5zM703.7 1165.1H707.6V1175.9H703.7zM736.2 1165.1H740.1V1175.9H736.2zM747 1165.1H750.9V1175.9H747zM566.7 1186H570.6V1196.7H566.7zM664.1 1186H668V1196.7H664.1zM682.1 1186H686V1196.7H682.1zM703.7 1186H707.6V1196.7H703.7zM476.6 1196.4H487.7V1207.2H476.6zM501.8 1196.4H505.7V1207.2H501.8zM534.2 1196.4H545.4V1207.2H534.2zM548.7 1217.3H556.2V1228H548.7zM584.7 1217.3H588.6V1228H584.7zM602.8 1217.3H606.7V1228H602.8zM674.9 1227.7H682.4V1238.4H674.9zM476.6 1238.1H484.1V1248.9H476.6zM512.6 1238.1H516.5V1248.9H512.6zM527 1238.1H530.9V1248.9H527zM577.5 1238.1H585V1248.9H577.5zM613.6 1238.1H617.5V1248.9H613.6zM635.2 1238.1H639.1V1248.9H635.2zM682.1 1238.1H686V1248.9H682.1zM732.6 1238.1H736.5V1248.9H732.6zM757.8 1238.1H761.7V1248.9H757.8zM487.4 1259H491.3V1269.7H487.4zM700.1 1259H704V1269.7H700.1zM707.4 1259H711.3V1269.7H707.4zM509 1269.4H512.9V1280.2H509zM534.2 1269.4H538.2V1280.2H534.2zM541.5 1269.4H545.4V1280.2H541.5zM613.6 1269.4H617.5V1280.2H613.6zM638.8 1269.4H642.7V1280.2H638.8zM678.5 1269.4H686V1280.2H678.5zM696.5 1269.4H704V1280.2H696.5zM721.8 1269.4H729.3V1280.2H721.8zM736.2 1269.4H747.3V1280.2H736.2zM750.6 1269.4H754.5V1280.2H750.6zM483.8 1279.9H487.7V1290.6H483.8zM491 1290.3H494.9V1301H491zM501.8 1290.3H509.3V1301H501.8zM523.4 1290.3H527.3V1301H523.4zM541.5 1290.3H549V1301H541.5zM559.5 1290.3H563.4V1301H559.5zM685.7 1290.3H689.6V1301H685.7zM494.6 1300.7H498.5V1311.5H494.6zM523.4 1300.7H527.3V1311.5H523.4zM617.2 1300.7H621.1V1311.5H617.2z"/>
<path fill="#18addb" d="M498.2 1029.5H505.7V1040.3H498.2zM509 1029.5H512.9V1040.3H509zM534.2 1029.5H541.8V1040.3H534.2zM545.1 1029.5H552.6V1040.3H545.1zM559.5 1029.5H563.4V1040.3H559.5zM566.7 1029.5H570.6V1040.3H566.7zM577.5 1029.5H581.4V1040.3H577.5zM584.7 1029.5H588.6V1040.3H584.7zM617.2 1029.5H621.1V1040.3H617.2zM635.2 1029.5H639.1V1040.3H635.2zM656.9 1029.5H660.8V1040.3H656.9zM671.3 1029.5H682.4V1040.3H671.3zM729 1029.5H740.1V1040.3H729zM754.2 1029.5H765.4V1040.3H754.2zM552.3 1071.3H556.2V1082H552.3zM563.1 1071.3H567V1082H563.1zM595.6 1071.3H599.5V1082H595.6zM613.6 1071.3H617.5V1082H613.6zM620.8 1071.3H624.7V1082H620.8zM628 1071.3H631.9V1082H628zM656.9 1071.3H660.8V1082H656.9zM674.9 1071.3H678.8V1082H674.9zM689.3 1071.3H693.2V1082H689.3zM696.5 1071.3H700.4V1082H696.5zM703.7 1071.3H707.6V1082H703.7zM725.4 1071.3H729.3V1082H725.4zM739.8 1071.3H743.7V1082H739.8zM750.6 1081.7H761.7V1092.4H750.6zM501.8 1092.1H512.9V1102.9H501.8zM537.9 1092.1H541.8V1102.9H537.9zM548.7 1092.1H552.6V1102.9H548.7zM592 1092.1H595.9V1102.9H592zM602.8 1092.1H606.7V1102.9H602.8zM628 1092.1H631.9V1102.9H628zM656.9 1092.1H660.8V1102.9H656.9zM671.3 1092.1H675.2V1102.9H671.3zM682.1 1092.1H696.8V1102.9H682.1zM703.7 1092.1H707.6V1102.9H703.7zM721.8 1092.1H729.3V1102.9H721.8zM743.4 1092.1H758.1V1102.9H743.4zM736.2 1102.6H740.1V1113.3H736.2zM750.6 1102.6H754.5V1113.3H750.6zM552.3 1113H556.2V1123.7H552.3zM581.1 1133.8H588.6V1144.6H581.1zM595.6 1133.8H599.5V1144.6H595.6zM624.4 1133.8H628.3V1144.6H624.4zM671.3 1133.8H675.2V1144.6H671.3zM682.1 1133.8H689.6V1144.6H682.1zM700.1 1133.8H704V1144.6H700.1zM714.6 1133.8H718.5V1144.6H714.6zM750.6 1133.8H754.5V1144.6H750.6zM545.1 1144.3H549V1155H545.1zM570.3 1144.3H574.2V1155H570.3zM483.8 1165.1H491.3V1175.9H483.8zM523.4 1165.1H527.3V1175.9H523.4zM530.6 1165.1H534.5V1175.9H530.6zM537.9 1165.1H541.8V1175.9H537.9zM548.7 1165.1H552.6V1175.9H548.7zM595.6 1165.1H599.5V1175.9H595.6zM606.4 1165.1H610.3V1175.9H606.4zM613.6 1165.1H617.5V1175.9H613.6zM624.4 1165.1H628.3V1175.9H624.4zM664.1 1165.1H668V1175.9H664.1zM674.9 1165.1H678.8V1175.9H674.9zM689.3 1165.1H693.2V1175.9H689.3zM700.1 1165.1H704V1175.9H700.1zM721.8 1165.1H725.7V1175.9H721.8zM739.8 1165.1H743.7V1175.9H739.8zM754.2 1165.1H758.1V1175.9H754.2zM570.3 1186H577.8V1196.7H570.3zM631.6 1186H649.9V1196.7H631.6zM656.9 1186H664.4V1196.7H656.9zM674.9 1186H678.8V1196.7H674.9zM700.1 1186H704V1196.7H700.1zM555.9 1217.3H559.8V1228H555.9zM588.3 1217.3H599.5V1228H588.3zM606.4 1217.3H610.3V1228H606.4zM483.8 1238.1H487.7V1248.9H483.8zM498.2 1238.1H509.3V1248.9H498.2zM573.9 1238.1H577.8V1248.9H573.9zM599.2 1238.1H603.1V1248.9H599.2zM638.8 1238.1H649.9V1248.9H638.8zM656.9 1238.1H660.8V1248.9H656.9zM674.9 1238.1H678.8V1248.9H674.9zM685.7 1238.1H689.6V1248.9H685.7zM692.9 1238.1H696.8V1248.9H692.9zM700.1 1238.1H707.6V1248.9H700.1zM711 1238.1H722.1V1248.9H711zM739.8 1238.1H743.7V1248.9H739.8zM747 1238.1H750.9V1248.9H747zM552.3 1248.6H556.2V1259.3H552.3zM570.3 1248.6H574.2V1259.3H570.3zM581.1 1248.6H585V1259.3H581.1zM588.3 1248.6H595.9V1259.3H588.3zM606.4 1248.6H610.3V1259.3H606.4zM620.8 1248.6H624.7V1259.3H620.8zM635.2 1248.6H653.6V1259.3H635.2zM656.9 1248.6H660.8V1259.3H656.9zM664.1 1248.6H671.6V1259.3H664.1zM696.5 1248.6H700.4V1259.3H696.5zM491 1259H494.9V1269.7H491zM512.6 1259H516.5V1269.7H512.6zM519.8 1259H527.3V1269.7H519.8zM530.6 1259H534.5V1269.7H530.6zM487.4 1269.4H491.3V1280.2H487.4zM530.6 1269.4H534.5V1280.2H530.6zM685.7 1269.4H693.2V1280.2H685.7zM707.4 1269.4H711.3V1280.2H707.4zM732.6 1269.4H736.5V1280.2H732.6zM747 1269.4H750.9V1280.2H747zM480.2 1290.3H484.1V1301H480.2zM487.4 1290.3H491.3V1301H487.4zM494.6 1290.3H498.5V1301H494.6zM509 1290.3H512.9V1301H509zM516.2 1290.3H520.1V1301H516.2zM534.2 1290.3H541.8V1301H534.2zM548.7 1290.3H552.6V1301H548.7zM555.9 1290.3H559.8V1301H555.9zM674.9 1290.3H686V1301H674.9zM501.8 1300.7H505.7V1311.5H501.8z"/>
<path fill="#12b1d6" d="M476.6 1029.5H484.1V1040.3H476.6zM491 1029.5H498.5V1040.3H491zM505.4 1029.5H509.3V1040.3H505.4zM516.2 1029.5H520.1V1040.3H516.2zM552.3 1029.5H556.2V1040.3H552.3zM573.9 1029.5H577.8V1040.3H573.9zM592 1029.5H595.9V1040.3H592zM602.8 1029.5H606.7V1040.3H602.8zM613.6 1029.5H617.5V1040.3H613.6zM638.8 1029.5H642.7V1040.3H638.8zM646 1029.5H649.9V1040.3H646zM653.3 1029.5H657.2V1040.3H653.3zM664.1 1029.5H668V1040.3H664.1zM692.9 1029.5H696.8V1040.3H692.9zM711 1029.5H722.1V1040.3H711zM725.4 1029.5H729.3V1040.3H725.4zM743.4 1029.5H747.3V1040.3H743.4zM494.6 1071.3H498.5V1082H494.6zM617.2 1071.3H621.1V1082H617.2zM642.4 1071.3H646.3V1082H642.4zM692.9 1071.3H696.8V1082H692.9zM635.2 1081.7H639.1V1092.4H635.2zM689.3 1081.7H693.2V1092.4H689.3zM736.2 1081.7H743.7V1092.4H736.2zM487.4 1092.1H491.3V1102.9H487.4zM541.5 1092.1H545.4V1102.9H541.5zM610 1092.1H613.9V1102.9H610zM617.2 1092.1H624.7V1102.9H617.2zM635.2 1092.1H639.1V1102.9H635.2zM649.6 1092.1H653.6V1102.9H649.6zM674.9 1092.1H678.8V1102.9H674.9zM711 1092.1H714.9V1102.9H711zM718.2 1092.1H722.1V1102.9H718.2zM736.2 1092.1H740.1V1102.9H736.2zM707.4 1102.6H711.3V1113.3H707.4zM592 1133.8H595.9V1144.6H592zM599.2 1133.8H603.1V1144.6H599.2zM617.2 1133.8H624.7V1144.6H617.2zM628 1133.8H631.9V1144.6H628zM635.2 1133.8H653.6V1144.6H635.2zM656.9 1133.8H660.8V1144.6H656.9zM664.1 1133.8H671.6V1144.6H664.1zM678.5 1133.8H682.4V1144.6H678.5zM696.5 1133.8H700.4V1144.6H696.5zM725.4 1133.8H729.3V1144.6H725.4zM736.2 1133.8H750.9V1144.6H736.2zM754.2 1133.8H758.1V1144.6H754.2zM761.4 1133.8H765.4V1144.6H761.4zM559.5 1165.1H563.4V1175.9H559.5zM570.3 1165.1H574.2V1175.9H570.3zM584.7 1165.1H588.6V1175.9H584.7zM610 1165.1H613.9V1175.9H610zM620.8 1165.1H624.7V1175.9H620.8zM682.1 1165.1H686V1175.9H682.1zM696.5 1165.1H700.4V1175.9H696.5zM714.6 1165.1H722.1V1175.9H714.6zM725.4 1165.1H732.9V1175.9H725.4zM750.6 1165.1H754.5V1175.9H750.6zM757.8 1165.1H761.7V1175.9H757.8zM577.5 1186H581.4V1196.7H577.5zM602.8 1186H606.7V1196.7H602.8zM649.6 1186H657.2V1196.7H649.6zM559.5 1217.3H563.4V1228H559.5zM566.7 1217.3H574.2V1228H566.7zM581.1 1217.3H585V1228H581.1zM599.2 1217.3H603.1V1228H599.2zM509 1238.1H512.9V1248.9H509zM516.2 1238.1H523.7V1248.9H516.2zM592 1238.1H599.5V1248.9H592zM602.8 1238.1H606.7V1248.9H602.8zM610 1238.1H613.9V1248.9H610zM617.2 1238.1H624.7V1248.9H617.2zM649.6 1238.1H657.2V1248.9H649.6zM671.3 1238.1H675.2V1248.9H671.3zM707.4 1238.1H711.3V1248.9H707.4zM721.8 1238.1H725.7V1248.9H721.8zM729 1238.1H732.9V1248.9H729zM736.2 1238.1H740.1V1248.9H736.2zM743.4 1238.1H747.3V1248.9H743.4zM750.6 1238.1H758.1V1248.9H750.6zM761.4 1238.1H765.4V1248.9H761.4zM548.7 1248.6H552.6V1259.3H548.7zM559.5 1248.6H563.4V1259.3H559.5zM577.5 1248.6H581.4V1259.3H577.5zM595.6 1248.6H606.7V1259.3H595.6zM613.6 1248.6H617.5V1259.3H613.6zM631.6 1248.6H635.5V1259.3H631.6zM653.3 1248.6H657.2V1259.3H653.3zM476.6 1259H484.1V1269.7H476.6zM509 1259H512.9V1269.7H509zM714.6 1259H718.5V1269.7H714.6zM718.2 1269.4H722.1V1280.2H718.2zM761.4 1269.4H765.4V1280.2H761.4zM483.8 1290.3H487.7V1301H483.8zM566.7 1290.3H570.6V1301H566.7z"/>
<path fill="#08b5d0" d="M512.6 1029.5H516.5V1040.3H512.6zM541.5 1029.5H545.4V1040.3H541.5zM555.9 1029.5H559.8V1040.3H555.9zM563.1 1029.5H567V1040.3H563.1zM570.3 1029.5H574.2V1040.3H570.3zM606.4 1029.5H610.3V1040.3H606.4zM620.8 1029.5H628.3V1040.3H620.8zM631.6 1029.5H635.5V1040.3H631.6zM649.6 1029.5H653.6V1040.3H649.6zM660.5 1029.5H664.4V1040.3H660.5zM667.7 1029.5H671.6V1040.3H667.7zM696.5 1029.5H700.4V1040.3H696.5zM703.7 1029.5H707.6V1040.3H703.7zM721.8 1029.5H725.7V1040.3H721.8zM739.8 1029.5H743.7V1040.3H739.8zM747 1029.5H750.9V1040.3H747zM671.3 1081.7H675.2V1092.4H671.3zM692.9 1081.7H696.8V1092.4H692.9zM729 1081.7H736.5V1092.4H729zM743.4 1081.7H750.9V1092.4H743.4zM555.9 1092.1H559.8V1102.9H555.9zM563.1 1092.1H567V1102.9H563.1zM573.9 1092.1H577.8V1102.9H573.9zM588.3 1092.1H592.2V1102.9H588.3zM599.2 1092.1H603.1V1102.9H599.2zM613.6 1092.1H617.5V1102.9H613.6zM624.4 1092.1H628.3V1102.9H624.4zM638.8 1092.1H649.9V1102.9H638.8zM660.5 1092.1H664.4V1102.9H660.5zM667.7 1092.1H671.6V1102.9H667.7zM696.5 1092.1H704V1102.9H696.5zM732.6 1092.1H736.5V1102.9H732.6zM761.4 1092.1H765.4V1102.9H761.4zM664.1 1102.6H668V1113.3H664.1zM671.3 1102.6H675.2V1113.3H671.3zM685.7 1102.6H689.6V1113.3H685.7zM696.5 1102.6H700.4V1113.3H696.5zM711 1102.6H714.9V1113.3H711zM718.2 1102.6H722.1V1113.3H718.2zM559.5 1123.4H563.4V1134.1H559.5zM512.6 1133.8H516.5V1144.6H512.6zM563.1 1133.8H567V1144.6H563.1zM573.9 1133.8H577.8V1144.6H573.9zM588.3 1133.8H592.2V1144.6H588.3zM606.4 1133.8H617.5V1144.6H606.4zM631.6 1133.8H635.5V1144.6H631.6zM692.9 1133.8H696.8V1144.6H692.9zM703.7 1133.8H711.3V1144.6H703.7zM721.8 1133.8H725.7V1144.6H721.8zM729 1133.8H732.9V1144.6H729zM552.3 1165.1H556.2V1175.9H552.3zM563.1 1165.1H567V1175.9H563.1zM577.5 1165.1H581.4V1175.9H577.5zM599.2 1165.1H606.7V1175.9H599.2zM617.2 1165.1H621.1V1175.9H617.2zM628 1165.1H649.9V1175.9H628zM667.7 1165.1H671.6V1175.9H667.7zM685.7 1165.1H689.6V1175.9H685.7zM711 1165.1H714.9V1175.9H711zM732.6 1165.1H736.5V1175.9H732.6zM743.4 1165.1H747.3V1175.9H743.4zM761.4 1165.1H765.4V1175.9H761.4zM599.2 1186H603.1V1196.7H599.2zM624.4 1186H631.9V1196.7H624.4zM563.1 1217.3H567V1228H563.1zM573.9 1217.3H581.4V1228H573.9zM530.6 1238.1H541.8V1248.9H530.6zM588.3 1238.1H592.2V1248.9H588.3zM628 1238.1H635.5V1248.9H628zM660.5 1238.1H668V1248.9H660.5zM689.3 1238.1H693.2V1248.9H689.3zM573.9 1248.6H577.8V1259.3H573.9zM610 1248.6H613.9V1259.3H610zM617.2 1248.6H621.1V1259.3H617.2zM628 1248.6H631.9V1259.3H628zM527 1259H530.9V1269.7H527zM711 1259H714.9V1269.7H711zM718.2 1259H722.1V1269.7H718.2zM519.8 1290.3H523.7V1301H519.8zM552.3 1290.3H556.2V1301H552.3zM664.1 1290.3H675.2V1301H664.1z"/>
<path fill="#01b8ca" d="M487.4 1029.5H491.3V1040.3H487.4zM595.6 1029.5H603.1V1040.3H595.6zM610 1029.5H613.9V1040.3H610zM707.4 1029.5H711.3V1040.3H707.4zM685.7 1081.7H689.6V1092.4H685.7zM696.5 1081.7H718.5V1092.4H696.5zM721.8 1081.7H729.3V1092.4H721.8zM552.3 1092.1H556.2V1102.9H552.3zM559.5 1092.1H563.4V1102.9H559.5zM595.6 1092.1H599.5V1102.9H595.6zM631.6 1092.1H635.5V1102.9H631.6zM653.3 1092.1H657.2V1102.9H653.3zM707.4 1092.1H711.3V1102.9H707.4zM714.6 1092.1H718.5V1102.9H714.6zM729 1092.1H732.9V1102.9H729zM674.9 1102.6H686V1113.3H674.9zM689.3 1102.6H693.2V1113.3H689.3zM700.1 1102.6H704V1113.3H700.1zM714.6 1102.6H718.5V1113.3H714.6zM505.4 1123.4H509.3V1134.1H505.4zM519.8 1123.4H523.7V1134.1H519.8zM534.2 1123.4H538.2V1134.1H534.2zM548.7 1123.4H559.8V1134.1H548.7zM653.3 1123.4H657.2V1134.1H653.3zM660.5 1123.4H664.4V1134.1H660.5zM674.9 1123.4H678.8V1134.1H674.9zM739.8 1123.4H743.7V1134.1H739.8zM747 1123.4H750.9V1134.1H747zM754.2 1123.4H758.1V1134.1H754.2zM476.6 1133.8H484.1V1144.6H476.6zM505.4 1133.8H509.3V1144.6H505.4zM534.2 1133.8H538.2V1144.6H534.2zM602.8 1133.8H606.7V1144.6H602.8zM718.2 1133.8H722.1V1144.6H718.2zM732.6 1133.8H736.5V1144.6H732.6zM757.8 1133.8H761.7V1144.6H757.8zM555.9 1165.1H559.8V1175.9H555.9zM566.7 1165.1H570.6V1175.9H566.7zM573.9 1165.1H577.8V1175.9H573.9zM581.1 1165.1H585V1175.9H581.1zM592 1165.1H595.9V1175.9H592zM656.9 1165.1H660.8V1175.9H656.9zM707.4 1165.1H711.3V1175.9H707.4zM592 1186H599.5V1196.7H592zM613.6 1186H617.5V1196.7H613.6zM620.8 1186H624.7V1196.7H620.8zM491 1238.1H498.5V1248.9H491zM624.4 1238.1H628.3V1248.9H624.4zM555.9 1248.6H559.8V1259.3H555.9zM584.7 1248.6H588.6V1259.3H584.7zM483.8 1259H487.7V1269.7H483.8zM494.6 1259H502.1V1269.7H494.6zM573.9 1290.3H577.8V1301H573.9zM581.1 1290.3H585V1301H581.1z"/>
<path fill="#02bac3" d="M588.3 1029.5H592.2V1040.3H588.3zM628 1029.5H631.9V1040.3H628zM685.7 1029.5H693.2V1040.3H685.7zM541.5 1040H545.4V1050.7H541.5zM667.7 1081.7H671.6V1092.4H667.7zM674.9 1081.7H678.8V1092.4H674.9zM682.1 1081.7H686V1092.4H682.1zM718.2 1081.7H722.1V1092.4H718.2zM566.7 1092.1H574.2V1102.9H566.7zM577.5 1092.1H585V1102.9H577.5zM664.1 1092.1H668V1102.9H664.1zM667.7 1102.6H671.6V1113.3H667.7zM692.9 1102.6H696.8V1113.3H692.9zM703.7 1102.6H707.6V1113.3H703.7zM555.9 1113H559.8V1123.7H555.9zM476.6 1123.4H480.5V1134.1H476.6zM483.8 1123.4H491.3V1134.1H483.8zM501.8 1123.4H505.7V1134.1H501.8zM523.4 1123.4H527.3V1134.1H523.4zM530.6 1123.4H534.5V1134.1H530.6zM537.9 1123.4H541.8V1134.1H537.9zM545.1 1123.4H549V1134.1H545.1zM599.2 1123.4H603.1V1134.1H599.2zM628 1123.4H631.9V1134.1H628zM642.4 1123.4H653.6V1134.1H642.4zM667.7 1123.4H671.6V1134.1H667.7zM678.5 1123.4H682.4V1134.1H678.5zM761.4 1123.4H765.4V1134.1H761.4zM494.6 1133.8H498.5V1144.6H494.6zM501.8 1133.8H505.7V1144.6H501.8zM516.2 1133.8H520.1V1144.6H516.2zM527 1133.8H530.9V1144.6H527zM537.9 1133.8H545.4V1144.6H537.9zM552.3 1133.8H556.2V1144.6H552.3zM570.3 1133.8H574.2V1144.6H570.3zM577.5 1133.8H581.4V1144.6H577.5zM649.6 1165.1H657.2V1175.9H649.6zM660.5 1165.1H664.4V1175.9H660.5zM581.1 1186H585V1196.7H581.1zM588.3 1186H592.2V1196.7H588.3zM606.4 1186H613.9V1196.7H606.4zM487.4 1238.1H491.3V1248.9H487.4zM606.4 1238.1H610.3V1248.9H606.4zM667.7 1238.1H671.6V1248.9H667.7zM501.8 1259H509.3V1269.7H501.8zM516.2 1259H520.1V1269.7H516.2zM721.8 1259H729.3V1269.7H721.8zM732.6 1259H736.5V1269.7H732.6zM570.3 1290.3H574.2V1301H570.3zM660.5 1290.3H664.4V1301H660.5z"/>
<path fill="#0bbdbd" d="M483.8 1029.5H487.7V1040.3H483.8zM483.8 1040H487.7V1050.7H483.8zM505.4 1040H509.3V1050.7H505.4zM537.9 1040H541.8V1050.7H537.9zM545.1 1040H549V1050.7H545.1zM584.7 1092.1H588.6V1102.9H584.7zM509 1123.4H516.5V1134.1H509zM527 1123.4H530.9V1134.1H527zM566.7 1123.4H570.6V1134.1H566.7zM577.5 1123.4H585V1134.1H577.5zM595.6 1123.4H599.5V1134.1H595.6zM602.8 1123.4H606.7V1134.1H602.8zM610 1123.4H613.9V1134.1H610zM624.4 1123.4H628.3V1134.1H624.4zM635.2 1123.4H642.7V1134.1H635.2zM664.1 1123.4H668V1134.1H664.1zM671.3 1123.4H675.2V1134.1H671.3zM682.1 1123.4H686V1134.1H682.1zM696.5 1123.4H700.4V1134.1H696.5zM718.2 1123.4H722.1V1134.1H718.2zM732.6 1123.4H736.5V1134.1H732.6zM750.6 1123.4H754.5V1134.1H750.6zM757.8 1123.4H761.7V1134.1H757.8zM483.8 1133.8H487.7V1144.6H483.8zM491 1133.8H494.9V1144.6H491zM523.4 1133.8H527.3V1144.6H523.4zM530.6 1133.8H534.5V1144.6H530.6zM545.1 1133.8H552.6V1144.6H545.1zM555.9 1133.8H563.4V1144.6H555.9zM588.3 1165.1H592.2V1175.9H588.3zM729 1259H732.9V1269.7H729zM577.5 1290.3H581.4V1301H577.5zM656.9 1290.3H660.8V1301H656.9z"/>
<path fill="#19bfb6" d="M501.8 1040H505.7V1050.7H501.8zM519.8 1040H523.7V1050.7H519.8zM530.6 1040H534.5V1050.7H530.6zM559.5 1040H563.4V1050.7H559.5zM664.1 1081.7H668V1092.4H664.1zM678.5 1081.7H682.4V1092.4H678.5zM559.5 1113H563.4V1123.7H559.5zM480.2 1123.4H484.1V1134.1H480.2zM491 1123.4H502.1V1134.1H491zM516.2 1123.4H520.1V1134.1H516.2zM541.5 1123.4H545.4V1134.1H541.5zM570.3 1123.4H574.2V1134.1H570.3zM613.6 1123.4H624.7V1134.1H613.6zM631.6 1123.4H635.5V1134.1H631.6zM656.9 1123.4H660.8V1134.1H656.9zM692.9 1123.4H696.8V1134.1H692.9zM700.1 1123.4H704V1134.1H700.1zM721.8 1123.4H725.7V1134.1H721.8zM729 1123.4H732.9V1134.1H729zM743.4 1123.4H747.3V1134.1H743.4zM487.4 1133.8H491.3V1144.6H487.4zM498.2 1133.8H502.1V1144.6H498.2zM509 1133.8H512.9V1144.6H509zM519.8 1133.8H523.7V1144.6H519.8zM566.7 1133.8H570.6V1144.6H566.7zM584.7 1186H588.6V1196.7H584.7zM617.2 1186H621.1V1196.7H617.2zM736.2 1259H740.1V1269.7H736.2zM584.7 1290.3H588.6V1301H584.7zM653.3 1290.3H657.2V1301H653.3z"/>
<path fill="#24c1ae" d="M476.6 1040H484.1V1050.7H476.6zM494.6 1040H498.5V1050.7H494.6zM509 1040H512.9V1050.7H509zM523.4 1040H530.9V1050.7H523.4zM534.2 1040H538.2V1050.7H534.2zM555.9 1040H559.8V1050.7H555.9zM570.3 1040H574.2V1050.7H570.3zM602.8 1040H610.3V1050.7H602.8zM613.6 1040H624.7V1050.7H613.6zM573.9 1123.4H577.8V1134.1H573.9zM584.7 1123.4H595.9V1134.1H584.7zM606.4 1123.4H610.3V1134.1H606.4zM685.7 1123.4H693.2V1134.1H685.7zM703.7 1123.4H707.6V1134.1H703.7zM711 1123.4H714.9V1134.1H711zM736.2 1123.4H740.1V1134.1H736.2zM537.9 1175.6H541.8V1186.3H537.9zM617.2 1175.6H621.1V1186.3H617.2zM739.8 1259H743.7V1269.7H739.8zM588.3 1290.3H592.2V1301H588.3z"/>
<path fill="#2cc4a7" d="M487.4 1040H491.3V1050.7H487.4zM498.2 1040H502.1V1050.7H498.2zM516.2 1040H520.1V1050.7H516.2zM548.7 1040H556.2V1050.7H548.7zM563.1 1040H567V1050.7H563.1zM573.9 1040H577.8V1050.7H573.9zM584.7 1040H603.1V1050.7H584.7zM610 1040H613.9V1050.7H610zM638.8 1081.7H646.3V1092.4H638.8zM653.3 1081.7H657.2V1092.4H653.3zM660.5 1081.7H664.4V1092.4H660.5zM700.1 1113H704V1123.7H700.1zM729 1113H732.9V1123.7H729zM563.1 1123.4H567V1134.1H563.1zM707.4 1123.4H711.3V1134.1H707.4zM714.6 1123.4H718.5V1134.1H714.6zM725.4 1123.4H729.3V1134.1H725.4zM505.4 1175.6H509.3V1186.3H505.4zM534.2 1175.6H538.2V1186.3H534.2zM545.1 1175.6H549V1186.3H545.1zM559.5 1175.6H567V1186.3H559.5zM646 1290.3H653.6V1301H646z"/>
<path fill="#31c69f" d="M491 1040H494.9V1050.7H491zM512.6 1040H516.5V1050.7H512.6zM566.7 1040H570.6V1050.7H566.7zM581.1 1040H585V1050.7H581.1zM631.6 1040H635.5V1050.7H631.6zM656.9 1040H660.8V1050.7H656.9zM667.7 1040H671.6V1050.7H667.7zM689.3 1040H693.2V1050.7H689.3zM729 1040H736.5V1050.7H729zM649.6 1081.7H653.6V1092.4H649.6zM656.9 1081.7H660.8V1092.4H656.9zM707.4 1113H714.9V1123.7H707.4zM718.2 1113H725.7V1123.7H718.2zM732.6 1113H736.5V1123.7H732.6zM739.8 1113H743.7V1123.7H739.8zM747 1113H750.9V1123.7H747zM483.8 1175.6H491.3V1186.3H483.8zM498.2 1175.6H502.1V1186.3H498.2zM548.7 1175.6H552.6V1186.3H548.7zM555.9 1175.6H559.8V1186.3H555.9zM566.7 1175.6H574.2V1186.3H566.7zM620.8 1175.6H624.7V1186.3H620.8zM592 1290.3H595.9V1301H592z"/>
<path fill="#37c897" d="M624.4 1040H628.3V1050.7H624.4zM638.8 1040H653.6V1050.7H638.8zM664.1 1040H668V1050.7H664.1zM671.3 1040H675.2V1050.7H671.3zM678.5 1040H682.4V1050.7H678.5zM685.7 1040H689.6V1050.7H685.7zM725.4 1113H729.3V1123.7H725.4zM757.8 1113H765.4V1123.7H757.8zM480.2 1175.6H484.1V1186.3H480.2zM491 1175.6H498.5V1186.3H491zM501.8 1175.6H505.7V1186.3H501.8zM516.2 1175.6H520.1V1186.3H516.2zM523.4 1175.6H527.3V1186.3H523.4zM530.6 1175.6H534.5V1186.3H530.6zM552.3 1175.6H556.2V1186.3H552.3zM573.9 1175.6H581.4V1186.3H573.9zM610 1175.6H617.5V1186.3H610zM624.4 1175.6H628.3V1186.3H624.4zM631.6 1175.6H635.5V1186.3H631.6zM638.8 1175.6H649.9V1186.3H638.8zM743.4 1259H750.9V1269.7H743.4zM635.2 1290.3H639.1V1301H635.2zM642.4 1290.3H646.3V1301H642.4z"/>
<path fill="#3fca8e" d="M577.5 1040H581.4V1050.7H577.5zM635.2 1040H639.1V1050.7H635.2zM653.3 1040H657.2V1050.7H653.3zM660.5 1040H664.4V1050.7H660.5zM674.9 1040H678.8V1050.7H674.9zM682.1 1040H686V1050.7H682.1zM696.5 1040H700.4V1050.7H696.5zM711 1040H718.5V1050.7H711zM736.2 1040H747.3V1050.7H736.2zM750.6 1040H754.5V1050.7H750.6zM646 1081.7H649.9V1092.4H646zM692.9 1113H696.8V1123.7H692.9zM714.6 1113H718.5V1123.7H714.6zM736.2 1113H740.1V1123.7H736.2zM754.2 1113H758.1V1123.7H754.2zM476.6 1175.6H480.5V1186.3H476.6zM509 1175.6H516.5V1186.3H509zM519.8 1175.6H523.7V1186.3H519.8zM541.5 1175.6H545.4V1186.3H541.5zM606.4 1175.6H610.3V1186.3H606.4zM628 1175.6H631.9V1186.3H628zM613.6 1290.3H617.5V1301H613.6zM638.8 1290.3H642.7V1301H638.8z"/>
<path fill="#4acb84" d="M628 1040H631.9V1050.7H628zM692.9 1040H696.8V1050.7H692.9zM703.7 1040H711.3V1050.7H703.7zM718.2 1040H729.3V1050.7H718.2zM747 1040H750.9V1050.7H747zM761.4 1040H765.4V1050.7H761.4zM682.1 1113H686V1123.7H682.1zM696.5 1113H700.4V1123.7H696.5zM703.7 1113H707.6V1123.7H703.7zM743.4 1113H747.3V1123.7H743.4zM750.6 1113H754.5V1123.7H750.6zM527 1175.6H530.9V1186.3H527zM599.2 1175.6H606.7V1186.3H599.2zM635.2 1175.6H639.1V1186.3H635.2zM750.6 1259H754.5V1269.7H750.6zM595.6 1290.3H599.5V1301H595.6zM606.4 1290.3H610.3V1301H606.4zM620.8 1290.3H628.3V1301H620.8zM631.6 1290.3H635.5V1301H631.6z"/>
<path fill="#57cc7a" d="M700.1 1040H704V1050.7H700.1zM757.8 1040H761.7V1050.7H757.8zM563.1 1113H567V1123.7H563.1zM674.9 1113H682.4V1123.7H674.9zM685.7 1113H693.2V1123.7H685.7zM602.8 1290.3H606.7V1301H602.8zM610 1290.3H613.9V1301H610zM617.2 1290.3H621.1V1301H617.2zM628 1290.3H631.9V1301H628z"/>
<path fill="#64cd6f" d="M754.2 1040H758.1V1050.7H754.2zM584.7 1175.6H588.6V1186.3H584.7zM599.2 1290.3H603.1V1301H599.2z"/>
<path fill="#72cd64" d="M581.1 1175.6H585V1186.3H581.1zM588.3 1175.6H599.5V1186.3H588.3zM649.6 1175.6H653.6V1186.3H649.6zM667.7 1175.6H671.6V1186.3H667.7zM754.2 1259H758.1V1269.7H754.2z"/>
<path fill="#81cc59" d="M671.3 1113H675.2V1123.7H671.3zM700.1 1175.6H707.6V1186.3H700.1z"/>
<path fill="#8fcb4e" d="M566.7 1113H570.6V1123.7H566.7zM664.1 1175.6H668V1186.3H664.1zM671.3 1175.6H678.8V1186.3H671.3zM682.1 1175.6H686V1186.3H682.1zM692.9 1175.6H696.8V1186.3H692.9zM761.4 1259H765.4V1269.7H761.4z"/>
<path fill="#9dc943" d="M656.9 1175.6H664.4V1186.3H656.9zM689.3 1175.6H693.2V1186.3H689.3zM757.8 1259H761.7V1269.7H757.8z"/>
<path fill="#abc739" d="M653.3 1175.6H657.2V1186.3H653.3zM678.5 1175.6H682.4V1186.3H678.5zM685.7 1175.6H689.6V1186.3H685.7zM696.5 1175.6H700.4V1186.3H696.5zM743.4 1175.6H750.9V1186.3H743.4zM754.2 1175.6H765.4V1186.3H754.2z"/>
<path fill="#b9c431" d="M570.3 1113H574.2V1123.7H570.3zM667.7 1113H671.6V1123.7H667.7zM718.2 1175.6H722.1V1186.3H718.2zM725.4 1175.6H729.3V1186.3H725.4z"/>
<path fill="#c5c22a" d="M707.4 1175.6H718.5V1186.3H707.4zM721.8 1175.6H725.7V1186.3H721.8zM729 1175.6H743.7V1186.3H729zM750.6 1175.6H754.5V1186.3H750.6z"/>
<path fill="#dcbd29" d="M664.1 1113H668V1123.7H664.1z"/>
<path fill="#e6bb2d" d="M660.5 1113H664.4V1123.7H660.5z"/>
<path fill="#f0ba36" d="M573.9 1113H577.8V1123.7H573.9z"/>
<path fill="#fec338" d="M653.3 1113H660.8V1123.7H653.3z"/>
<path fill="#fec934" d="M584.7 1113H588.6V1123.7H584.7zM649.6 1113H653.6V1123.7H649.6z"/>
<path fill="#fccf30" d="M577.5 1113H585V1123.7H577.5zM631.6 1113H635.5V1123.7H631.6zM638.8 1113H649.9V1123.7H638.8z"/>
<path fill="#fad62d" d="M588.3 1113H595.9V1123.7H588.3zM635.2 1113H639.1V1123.7H635.2z"/>
<path fill="#f7dc2a" d="M595.6 1113H603.1V1123.7H595.6zM624.4 1113H628.3V1123.7H624.4z"/>
<path fill="#f5e327" d="M606.4 1113H610.3V1123.7H606.4zM628 1113H631.9V1123.7H628z"/>
<path fill="#f5e924" d="M602.8 1113H606.7V1123.7H602.8zM620.8 1113H624.7V1123.7H620.8z"/>
<path fill="#f7f51b" d="M610 1113H617.5V1123.7H610z"/>
<path fill="#f9fb15" d="M617.2 1113H621.1V1123.7H617.2z"/></g><rect x="145.3" y="1029.7" width="288.1" height="281.6" fill="none" stroke="#222" stroke-width="1.1"/><path d="M214.5 1029.7V1311.3" stroke="#222" stroke-width="1.1"/><path d="M287.4 1029.7v3M287.4 1311.3v-3M360.4 1029.7v3M360.4 1311.3v-3M145.3 1076.6h3M433.4 1076.6h-3M145.3 1128.8h3M433.4 1128.8h-3M145.3 1180.9h3M433.4 1180.9h-3M145.3 1233.1h3M433.4 1233.1h-3M145.3 1285.2h3M433.4 1285.2h-3" stroke="#222" stroke-width="1" fill="none"/><rect x="476.7" y="1029.7" width="288.5" height="281.6" fill="none" stroke="#222" stroke-width="1.1"/><path d="M546.2 1029.7V1311.3" stroke="#222" stroke-width="1.1"/><path d="M619.2 1029.7v3M619.2 1311.3v-3M692.1 1029.7v3M692.1 1311.3v-3M476.7 1076.6h3M765.2 1076.6h-3M476.7 1128.8h3M765.2 1128.8h-3M476.7 1180.9h3M765.2 1180.9h-3M476.7 1233.1h3M765.2 1233.1h-3M476.7 1285.2h3M765.2 1285.2h-3" stroke="#222" stroke-width="1" fill="none"/><text x="289" y="1024.2" font-size="36.5" fill="#222" text-anchor="middle">Veh</text><text x="627.5" y="1024.2" font-size="36.5" fill="#222" text-anchor="middle">CNO</text><text transform="translate(134 1087.1) scale(1 1.1)" font-size="28.5" fill="#222" text-anchor="end">5</text><text transform="translate(134 1139.3) scale(1 1.1)" font-size="28.5" fill="#222" text-anchor="end">10</text><text transform="translate(134 1191.4) scale(1 1.1)" font-size="28.5" fill="#222" text-anchor="end">15</text><text transform="translate(134 1243.6) scale(1 1.1)" font-size="28.5" fill="#222" text-anchor="end">20</text><text transform="translate(134 1295.7) scale(1 1.1)" font-size="28.5" fill="#222" text-anchor="end">25</text><text transform="translate(140.3 1348) scale(1 1.08)" font-size="32.5" fill="#222" text-anchor="middle">-1</text><text transform="translate(219.3 1348) scale(1 1.08)" font-size="32.5" fill="#222" text-anchor="middle">0</text><text transform="translate(293.3 1348) scale(1 1.08)" font-size="32.5" fill="#222" text-anchor="middle">1</text><text transform="translate(364.6 1348) scale(1 1.08)" font-size="32.5" fill="#222" text-anchor="middle">2</text><text transform="translate(475 1348) scale(1 1.08)" font-size="32.5" fill="#222" text-anchor="middle">-1</text><text transform="translate(546.7 1348) scale(1 1.08)" font-size="32.5" fill="#222" text-anchor="middle">0</text><text transform="translate(621 1348) scale(1 1.08)" font-size="32.5" fill="#222" text-anchor="middle">1</text><text transform="translate(693.3 1348) scale(1 1.08)" font-size="32.5" fill="#222" text-anchor="middle">2</text><text transform="translate(760.6 1348) scale(1 1.08)" font-size="32.5" fill="#222" text-anchor="middle">3</text><text x="250.5" y="1395" font-size="36.1" fill="#222">Time From Tone Onset (s)</text><text transform="translate(84.5 1173) rotate(-90)" font-size="35.5" fill="#222" text-anchor="middle">Neuronal ROI</text><path d="M776.6 1029.7V1311.3" stroke="#555" stroke-width="1.4"/><defs><linearGradient id="cbd" x1="0" y1="0" x2="0" y2="1"><stop offset="0%" stop-color="#f9fb15"/><stop offset="4.8%" stop-color="#f5e924"/><stop offset="9.5%" stop-color="#fad62d"/><stop offset="14.3%" stop-color="#fec338"/><stop offset="19%" stop-color="#f0ba36"/><stop offset="23.8%" stop-color="#d1bf27"/><stop offset="28.6%" stop-color="#abc739"/><stop offset="33.3%" stop-color="#81cc59"/><stop offset="38.1%" stop-color="#57cc7a"/><stop offset="42.9%" stop-color="#37c897"/><stop offset="47.6%" stop-color="#24c1ae"/><stop offset="52.4%" stop-color="#02bac3"/><stop offset="57.1%" stop-color="#12b1d6"/><stop offset="61.9%" stop-color="#20a5e3"/><stop offset="66.7%" stop-color="#2797eb"/><stop offset="71.4%" stop-color="#2e87f7"/><stop offset="76.2%" stop-color="#3875fe"/><stop offset="81%" stop-color="#4563fd"/><stop offset="85.7%" stop-color="#4852f4"/><stop offset="90.5%" stop-color="#4741e5"/><stop offset="95.2%" stop-color="#4332cb"/><stop offset="100%" stop-color="#3e26a8"/></linearGradient></defs><rect x="797.1" y="1029.7" width="14.6" height="281.6" fill="url(#cbd)"/><path d="M811.7 1051.6h-3M811.7 1106.1h-3M811.7 1161.8h-3M811.7 1216.9h-3M811.7 1272.6h-3M811.7 1051.6h-2M811.7 1079.2h-2M811.7 1106.8h-2M811.7 1134.4h-2M811.7 1162h-2M811.7 1189.6h-2M811.7 1217.2h-2M811.7 1244.8h-2M811.7 1272.4h-2M811.7 1300h-2" stroke="#333" stroke-width="0.8" fill="none"/><text x="815.5" y="1062" font-size="29" fill="#222">1.2</text><text x="815.5" y="1116.5" font-size="29" fill="#222">0.8</text><text x="815.5" y="1172.2" font-size="29" fill="#222">0.4</text><text x="815.5" y="1227.3" font-size="29" fill="#222">0</text><text x="815.5" y="1283" font-size="29" fill="#222">-0.4</text><text transform="translate(868.5 1095) rotate(90)" font-size="24" fill="#222">Z-Score ΔF/F</text>
</g>
<g>
<text x="989" y="673.5" font-size="54" font-weight="bold" fill="#231f20">e</text><rect x="1233.7" y="996.4" width="55.1" height="303.9" fill="#fff" stroke="#111" stroke-width="1.9"/><rect x="1324.9" y="1115.8" width="55.1" height="184.5" fill="#fff" stroke="#111" stroke-width="1.9"/><rect x="1480.8" y="1011.7" width="58.2" height="288.6" fill="#fff" stroke="#111" stroke-width="1.9"/><rect x="1577.2" y="1021.2" width="59.1" height="279.1" fill="#fff" stroke="#111" stroke-width="1.9"/><path d="M1261.2 812.7L1352.5 1213.2M1261.2 812.7L1352.5 1250.8M1261.2 900.8L1352.5 867.8M1261.2 912.5L1352.5 1011.1M1261.2 920.7L1352.5 1159.6M1261.2 933.3L1352.5 927.8M1261.2 952.3L1352.5 1015.7M1261.2 954.4L1352.5 1177.3M1261.2 975.9L1352.5 916.2M1261.2 979.8L1352.5 1219.3M1261.2 1000.4L1352.5 1250.8M1261.2 1022.7L1352.5 1011.1M1261.2 1030.1L1352.5 1259.7M1261.2 1037.1L1352.5 1205.5M1261.2 1053.9L1352.5 1298.9M1261.2 1093.7L1352.5 1130.5M1261.2 1109.1L1352.5 1097.7M1261.2 1113.6L1352.5 999.4M1261.2 1130.5L1352.5 1213.2M1261.2 1161.1L1352.5 1037.7M1261.2 952.3L1352.5 1088.2M1509.9 790L1606.6 865.6M1509.9 861.7L1606.6 923.8M1509.9 884.6L1606.6 944.3M1509.9 907.6L1606.6 927.8M1509.9 910L1606.6 1168.8M1509.9 931.5L1606.6 826.7M1509.9 938.5L1606.6 874.2M1509.9 947.7L1606.6 1136M1509.9 1011.7L1606.6 917.7M1509.9 1018.7L1606.6 1035.6M1509.9 1023.9L1606.6 1031M1509.9 1031L1606.6 1076.9M1509.9 1050.3L1606.6 1129M1509.9 1073.8L1606.6 1004.9M1509.9 1090.7L1606.6 1183.5M1509.9 1107.5L1606.6 1067.7M1509.9 1113.6L1606.6 944.3M1509.9 1136.6L1606.6 999.4M1509.9 1157.1L1606.6 1118.8M1509.9 1180.4L1606.6 1136M1509.9 1031L1606.6 1092.2" stroke="#d2d2d2" stroke-width="1.8" fill="none"/><g fill="#000"><ellipse cx="1261.2" cy="812.7" rx="8.9" ry="6.1"/><ellipse cx="1261.2" cy="900.8" rx="8.9" ry="6.1"/><ellipse cx="1261.2" cy="912.5" rx="8.9" ry="6.1"/><ellipse cx="1261.2" cy="920.7" rx="8.9" ry="6.1"/><ellipse cx="1261.2" cy="933.3" rx="8.9" ry="6.1"/><ellipse cx="1261.2" cy="952.3" rx="8.9" ry="6.1"/><ellipse cx="1261.2" cy="954.4" rx="8.9" ry="6.1"/><ellipse cx="1261.2" cy="975.9" rx="8.9" ry="6.1"/><ellipse cx="1261.2" cy="979.8" rx="8.9" ry="6.1"/><ellipse cx="1261.2" cy="1000.4" rx="8.9" ry="6.1"/><ellipse cx="1261.2" cy="1022.7" rx="8.9" ry="6.1"/><ellipse cx="1261.2" cy="1030.1" rx="8.9" ry="6.1"/><ellipse cx="1261.2" cy="1037.1" rx="8.9" ry="6.1"/><ellipse cx="1261.2" cy="1053.9" rx="8.9" ry="6.1"/><ellipse cx="1261.2" cy="1093.7" rx="8.9" ry="6.1"/><ellipse cx="1261.2" cy="1109.1" rx="8.9" ry="6.1"/><ellipse cx="1261.2" cy="1113.6" rx="8.9" ry="6.1"/><ellipse cx="1261.2" cy="1130.5" rx="8.9" ry="6.1"/><ellipse cx="1261.2" cy="1161.1" rx="8.9" ry="6.1"/><ellipse cx="1352.5" cy="867.8" rx="8.9" ry="6.1"/><ellipse cx="1352.5" cy="916.2" rx="8.9" ry="6.1"/><ellipse cx="1352.5" cy="927.8" rx="8.9" ry="6.1"/><ellipse cx="1352.5" cy="999.4" rx="8.9" ry="6.1"/><ellipse cx="1352.5" cy="1011.1" rx="8.9" ry="6.1"/><ellipse cx="1352.5" cy="1015.7" rx="8.9" ry="6.1"/><ellipse cx="1352.5" cy="1037.7" rx="8.9" ry="6.1"/><ellipse cx="1352.5" cy="1088.2" rx="8.9" ry="6.1"/><ellipse cx="1352.5" cy="1097.7" rx="8.9" ry="6.1"/><ellipse cx="1352.5" cy="1130.5" rx="8.9" ry="6.1"/><ellipse cx="1352.5" cy="1159.6" rx="8.9" ry="6.1"/><ellipse cx="1352.5" cy="1177.3" rx="8.9" ry="6.1"/><ellipse cx="1352.5" cy="1205.5" rx="8.9" ry="6.1"/><ellipse cx="1352.5" cy="1213.2" rx="8.9" ry="6.1"/><ellipse cx="1352.5" cy="1219.3" rx="8.9" ry="6.1"/><ellipse cx="1352.5" cy="1250.8" rx="8.9" ry="6.1"/><ellipse cx="1352.5" cy="1259.7" rx="8.9" ry="6.1"/><ellipse cx="1352.5" cy="1298.9" rx="8.9" ry="6.1"/><ellipse cx="1509.9" cy="790" rx="8.9" ry="6.1"/><ellipse cx="1509.9" cy="861.7" rx="8.9" ry="6.1"/><ellipse cx="1509.9" cy="884.6" rx="8.9" ry="6.1"/><ellipse cx="1509.9" cy="907.6" rx="8.9" ry="6.1"/><ellipse cx="1509.9" cy="910" rx="8.9" ry="6.1"/><ellipse cx="1509.9" cy="931.5" rx="8.9" ry="6.1"/><ellipse cx="1509.9" cy="938.5" rx="8.9" ry="6.1"/><ellipse cx="1509.9" cy="947.7" rx="8.9" ry="6.1"/><ellipse cx="1509.9" cy="1011.7" rx="8.9" ry="6.1"/><ellipse cx="1509.9" cy="1018.7" rx="8.9" ry="6.1"/><ellipse cx="1509.9" cy="1023.9" rx="8.9" ry="6.1"/><ellipse cx="1509.9" cy="1031" rx="8.9" ry="6.1"/><ellipse cx="1509.9" cy="1050.3" rx="8.9" ry="6.1"/><ellipse cx="1509.9" cy="1073.8" rx="8.9" ry="6.1"/><ellipse cx="1509.9" cy="1090.7" rx="8.9" ry="6.1"/><ellipse cx="1509.9" cy="1107.5" rx="8.9" ry="6.1"/><ellipse cx="1509.9" cy="1113.6" rx="8.9" ry="6.1"/><ellipse cx="1509.9" cy="1136.6" rx="8.9" ry="6.1"/><ellipse cx="1509.9" cy="1157.1" rx="8.9" ry="6.1"/><ellipse cx="1509.9" cy="1180.4" rx="8.9" ry="6.1"/><ellipse cx="1606.6" cy="826.7" rx="8.9" ry="6.1"/><ellipse cx="1606.6" cy="865.6" rx="8.9" ry="6.1"/><ellipse cx="1606.6" cy="874.2" rx="8.9" ry="6.1"/><ellipse cx="1606.6" cy="917.7" rx="8.9" ry="6.1"/><ellipse cx="1606.6" cy="923.8" rx="8.9" ry="6.1"/><ellipse cx="1606.6" cy="927.8" rx="8.9" ry="6.1"/><ellipse cx="1606.6" cy="944.3" rx="8.9" ry="6.1"/><ellipse cx="1606.6" cy="999.4" rx="8.9" ry="6.1"/><ellipse cx="1606.6" cy="1004.9" rx="8.9" ry="6.1"/><ellipse cx="1606.6" cy="1031" rx="8.9" ry="6.1"/><ellipse cx="1606.6" cy="1035.6" rx="8.9" ry="6.1"/><ellipse cx="1606.6" cy="1067.7" rx="8.9" ry="6.1"/><ellipse cx="1606.6" cy="1076.9" rx="8.9" ry="6.1"/><ellipse cx="1606.6" cy="1092.2" rx="8.9" ry="6.1"/><ellipse cx="1606.6" cy="1118.8" rx="8.9" ry="6.1"/><ellipse cx="1606.6" cy="1129" rx="8.9" ry="6.1"/><ellipse cx="1606.6" cy="1136" rx="8.9" ry="6.1"/><ellipse cx="1606.6" cy="1168.8" rx="8.9" ry="6.1"/><ellipse cx="1606.6" cy="1183.5" rx="8.9" ry="6.1"/></g><path d="M1194 682.5V1300.3 H1678" fill="none" stroke="#111" stroke-width="1.9"/><path d="M1194 682.5h17M1194 888.4h17M1194 1094.4h17M1194 1300.3h17" stroke="#111" stroke-width="1.9" fill="none"/><text x="1180" y="694" font-size="32" fill="#000" text-anchor="end">3.0</text><text x="1180" y="899.9" font-size="32" fill="#000" text-anchor="end">2.0</text><text x="1180" y="1105.9" font-size="32" fill="#000" text-anchor="end">1.0</text><text x="1180" y="1311.8" font-size="32" fill="#000" text-anchor="end">0.0</text><path d="M1265.2 771.6H1348.2M1515.4 771.6H1601.1M1351.7 727.4V707.8H1607.4V727.4" fill="none" stroke="#111" stroke-width="1.9"/><text x="1306.5" y="767.5" font-size="38" font-weight="bold" fill="#000" text-anchor="middle">**</text><text x="1481.5" y="711.5" font-size="38" font-weight="bold" fill="#000" text-anchor="middle">*</text><text x="1558.6" y="759" font-size="27" fill="#000" text-anchor="middle">ns</text><text x="1261.4" y="1333.5" font-size="32" fill="#000" text-anchor="middle">Veh</text><text x="1353" y="1333.5" font-size="32" fill="#000" text-anchor="middle">CNO</text><text x="1509" y="1333.5" font-size="32" fill="#000" text-anchor="middle">Veh</text><text x="1606" y="1333.5" font-size="32" fill="#000" text-anchor="middle">CNO</text><path d="M1241.9 1340.9H1384.4M1490.3 1340.9H1631.8" stroke="#111" stroke-width="1.5"/><text x="1317" y="1377.4" font-size="32" fill="#000" text-anchor="middle">hM4Di</text><text x="1564" y="1377.4" font-size="32" fill="#000" text-anchor="middle">mCherry</text><text transform="translate(1077.9 987) rotate(-90)" font-size="35.7" fill="#222" text-anchor="middle">Neuron Peak Z-Score&#160;&#160;Δ F/F</text><text transform="translate(1120.8 981) rotate(-90)" font-size="35.5" fill="#222" text-anchor="middle">to tone onset</text>
</g>
<g>
<text x="3" y="1479" font-size="54" font-weight="bold" fill="#231f20">f</text><text x="489" y="1479" font-size="54" font-weight="bold" fill="#231f20">g</text><text x="904" y="1479" font-size="54" font-weight="bold" fill="#231f20">h</text><text x="1325.5" y="1479" font-size="54" font-weight="bold" fill="#231f20">i</text><path d="M206.6 1483V1766.5" stroke="#cfcfcf" stroke-width="1.2"/><path d="M128.2 1605.4L134.3 1618.4L140.4 1631.4L145.3 1636.3L150.2 1634L157.6 1634.6L163.7 1627.1L171 1619.1L180.1 1611.9L184.5 1622L189.4 1641L195.5 1664.4L202.4 1680.5L206.6 1675.2L210.2 1655.9L215.1 1627L220 1581.4L224.9 1535.2L228.6 1504.7L232.5 1488.7L237.2 1503.1L240.8 1513.8L245 1516.4L249.4 1536.5L253.8 1547.8L258 1549.9L262.9 1568.1L269 1591.4L275.1 1614.4L280.8 1628.3L284.9 1638.1L289.8 1632.8L293.5 1628.4L297.2 1631L301.3 1637.8L305.3 1640.6L309.4 1630.9L313.1 1617L318 1598.9L322.9 1594.4L327.8 1601.3L332.7 1610.9L338.8 1612.2L344.9 1614.4L351.1 1618.5L357.2 1624.8L362.1 1641.4L367 1653L374.3 1660.8L384.1 1667.8L390.3 1658.2L396.4 1655.2L402.5 1653.7L409.9 1654.4L414.8 1644.8L419.7 1643.3L425.8 1648.3L431.9 1655.2L436.8 1653.7L442.9 1643.5L449.1 1633.6L453.9 1626.9L457.6 1628.4L462.5 1629.2L466.7 1631.6L471.8 1638L471.8 1674.4L466.7 1663.1L462.5 1667.6L457.6 1661.9L453.9 1661.9L449.1 1670.1L442.9 1676L436.8 1684.5L431.9 1688.6L425.8 1681.4L419.7 1675.4L414.8 1679L409.9 1685.6L402.5 1684.3L396.4 1683.6L390.3 1688.5L384.1 1701.8L374.3 1690.6L367 1683.9L362.1 1673.5L357.2 1656.6L351.1 1651.8L344.9 1649.2L338.8 1645L332.7 1640.1L327.8 1632.6L322.9 1629.8L318 1628.4L313.1 1648.7L309.4 1663.1L305.3 1672L301.3 1670.2L297.2 1663.2L293.5 1659.6L289.8 1666.2L284.9 1667.9L280.8 1662.1L275.1 1649.3L269 1622.9L262.9 1596.6L258 1582.4L253.8 1580.5L249.4 1566.7L245 1550.1L240.8 1544.8L237.2 1535.4L232.5 1521L228.6 1536.3L224.9 1567.8L220 1615.1L215.1 1655.8L210.2 1689.3L206.6 1705.7L202.4 1712.6L195.5 1698L189.4 1675.8L184.5 1652.9L180.1 1643.8L171 1651.5L163.7 1660.8L157.6 1667.6L150.2 1667.2L145.3 1664.6L140.4 1666L134.3 1653.9L128.2 1638.1z" fill="#e8a0a8" fill-opacity="0.5" stroke="#c9b0e0" stroke-opacity="0.5" stroke-width="0.6"/><path d="M128.2 1653.9L140.4 1638.7L145.3 1629.5L150.2 1622.9L157.6 1630.5L163.7 1640.6L168.6 1645.6L172.3 1649.9L178.4 1639.2L184.5 1632L188.2 1630.2L194.3 1651.7L200.4 1667.1L206.6 1673.5L210.7 1669.4L215.1 1659.8L220 1629.9L224.9 1584.4L228.6 1566.9L232.5 1558.4L235.9 1570L240.8 1598.5L245.7 1616.7L250.6 1633.8L256.8 1645.6L262.9 1650.7L266.6 1647.9L271.5 1659.2L275.9 1668.2L280 1661.5L286.2 1652.4L292.3 1644.3L296 1635.7L300.9 1628L307 1623.9L310.7 1615.2L315.1 1595.5L319.2 1600.4L325.4 1611L332.7 1620.9L340 1626.1L344.9 1624.5L349.8 1612.5L357.2 1605L363.3 1600.2L368.2 1608.2L371.9 1609.2L376.8 1615.6L380.5 1619.7L384.1 1609.7L389 1611.1L393.9 1610.9L398.3 1608.5L403.7 1624.1L410.6 1636.6L414.8 1633.9L420.9 1636.9L428.2 1641.9L433.1 1625.9L438 1609.2L441.7 1598.6L445.4 1599.3L449.1 1599.9L453.9 1594.4L457.6 1602.4L462.5 1611.7L467.4 1618.7L471.8 1626.3L471.8 1657.4L467.4 1651.8L462.5 1647.1L457.6 1631.2L453.9 1630.4L449.1 1631.4L445.4 1632.2L441.7 1630.1L438 1641.9L433.1 1659.1L428.2 1673.1L420.9 1669.5L414.8 1667L410.6 1666.5L403.7 1654.3L398.3 1644.1L393.9 1641.5L389 1641.6L384.1 1645.9L380.5 1649.2L376.8 1651.1L371.9 1641.1L368.2 1642.1L363.3 1633.6L357.2 1639.1L349.8 1647.8L344.9 1659.7L340 1657L332.7 1651.7L325.4 1642.4L319.2 1635.3L315.1 1633.2L310.7 1649L307 1662L300.9 1664.9L296 1673.3L292.3 1680.4L286.2 1690.1L280 1702.9L275.9 1704.1L271.5 1698.2L266.6 1690.9L262.9 1686.3L256.8 1685.8L250.6 1676.9L245.7 1656.7L240.8 1638.2L235.9 1611.1L232.5 1600.3L228.6 1606.6L224.9 1628.5L220 1670.7L215.1 1699.1L210.7 1716.4L206.6 1711L200.4 1706.8L194.3 1696.7L188.2 1677L184.5 1672.4L178.4 1682L172.3 1693.4L168.6 1689.9L163.7 1685.4L157.6 1672.3L150.2 1663.9L145.3 1671.7L140.4 1687.9L128.2 1694.9z" fill="#a8d8a4" fill-opacity="0.5" stroke="#9fd89c" stroke-opacity="0.5" stroke-width="0.6"/><path d="M128.2 1622.9L134.3 1636.4L140.4 1648.6L145.3 1650.6L150.2 1649.8L157.6 1649.8L163.7 1643.7L171 1635.1L180.1 1626.1L184.5 1638.8L189.4 1658.4L195.5 1680.5L202.4 1696.4L206.6 1690.3L210.2 1673.1L215.1 1641.3L220 1597.2L224.9 1553.1L228.6 1518.8L232.5 1506.5L237.2 1518.8L240.8 1529.8L245 1533.5L249.4 1550.6L253.8 1565.3L258 1565.3L262.9 1582.5L269 1607L275.1 1631.5L280.8 1646.2L284.9 1652.3L289.8 1648.6L293.5 1644.9L297.2 1646.2L301.3 1655.5L305.3 1654.7L309.4 1648.6L313.1 1631.5L318 1614.3L322.9 1612.4L327.8 1616.8L332.7 1625.3L338.8 1627.8L344.9 1631.5L351.1 1636.4L357.2 1642.5L362.1 1656L367 1668.2L374.3 1675.6L384.1 1684.1L390.3 1673.1L396.4 1669.4L402.5 1668.2L409.9 1668.7L414.8 1662.1L419.7 1660.9L425.8 1664.5L431.9 1670.2L436.8 1669.4L442.9 1660.9L449.1 1652.3L453.9 1644.2L457.6 1644.9L462.5 1648.6L466.7 1647.4L471.8 1654.7" fill="none" stroke="#4b2a86" stroke-width="1.5" stroke-linejoin="round"/><path d="M128.2 1675.6L140.4 1663.3L145.3 1651.1L150.2 1642.5L157.6 1649.8L163.7 1660.9L168.6 1669.9L172.3 1669.4L178.4 1658.4L184.5 1652.3L188.2 1653.5L194.3 1673.1L200.4 1686.6L206.6 1692.2L210.7 1692.7L215.1 1680.5L220 1648.6L224.9 1607L228.6 1586.1L232.5 1579.5L235.9 1589.8L240.8 1616.8L245.7 1638.8L250.6 1654.7L256.8 1664.5L262.9 1668.2L266.6 1669.4L271.5 1679.2L275.9 1685.4L280 1682.9L286.2 1673.1L292.3 1663.3L296 1653.5L300.9 1648.6L307 1643.7L310.7 1631.5L315.1 1615.5L319.2 1616.8L325.4 1626.6L332.7 1636.4L340 1641.8L344.9 1640.8L349.8 1631.5L357.2 1623.6L363.3 1618.7L368.2 1623.6L371.9 1626.6L376.8 1633.4L380.5 1634.4L384.1 1627.8L389 1626.1L393.9 1626.1L398.3 1626.6L403.7 1640L410.6 1652.3L414.8 1649.1L420.9 1653.5L428.2 1657.9L433.1 1643.7L438 1624.1L441.7 1615.5L445.4 1614.8L449.1 1616.3L453.9 1612.4L457.6 1616.8L462.5 1629L467.4 1636.4L471.8 1640.8" fill="none" stroke="#4a9a4c" stroke-width="1.5" stroke-linejoin="round"/><path d="M124.2 1481.2V1766.8H471.8" fill="none" stroke="#222" stroke-width="1.4"/><path d="M124.2 1481.2h4M124.2 1528.8h4M124.2 1576.2h4M124.2 1623.6h4M124.2 1671h4M124.2 1718.4h4M206.6 1766.8v-4M293.8 1766.8v-4M380.7 1766.8v-4M471.3 1766.8v-4" stroke="#222" stroke-width="1.2" fill="none"/><text transform="translate(112 1806.6) scale(1 1.05)" font-size="32" fill="#222" text-anchor="middle">-1</text><text transform="translate(205.8 1806.6) scale(1 1.05)" font-size="32" fill="#222" text-anchor="middle">0</text><text transform="translate(293.8 1806.6) scale(1 1.05)" font-size="32" fill="#222" text-anchor="middle">1</text><text transform="translate(380.5 1806.6) scale(1 1.05)" font-size="32" fill="#222" text-anchor="middle">2</text><text transform="translate(467.5 1806.6) scale(1 1.05)" font-size="32" fill="#222" text-anchor="middle">3</text><text x="466.7" y="1504.8" font-size="27.2" fill="#4b2a86" text-anchor="end">High Freq. Veh</text><text x="466.7" y="1537.2" font-size="27.2" fill="#4a9a4c" text-anchor="end">CNO</text><path d="M634.4 1483V1766.5" stroke="#cfcfcf" stroke-width="1.2"/><path d="M555.5 1621.6L562.9 1625.5L569 1625.5L576.8 1622.6L583.7 1626.7L591 1634.2L598.4 1641.6L603.3 1645.4L610.6 1661.5L616.8 1667.2L620.9 1670.6L626.6 1684.5L630.2 1691.6L633.4 1693.8L637.6 1683.1L642.5 1664L647.4 1638L652.3 1600.1L656.7 1563.4L660.1 1540.7L664.5 1534.1L669.4 1539.7L676.8 1546.4L682.9 1551L687.8 1549.1L691.5 1551.3L696.4 1564.5L700.8 1573L706.2 1580.2L711.1 1587.6L716 1595.8L722.1 1605.5L725.8 1607.5L730.7 1613.4L736.8 1626.4L742.9 1635.6L747.8 1641.6L753.9 1637.7L761.3 1635L766.2 1630.6L769.8 1624.2L774.7 1628L779.6 1628.6L785.8 1630.1L791.9 1634.4L798 1635.3L804.1 1637L810.3 1638.9L815.2 1642.4L821.3 1643.9L827.4 1645.9L831.1 1648L834.8 1648.6L840.9 1643.1L847 1637.7L851.9 1635.9L858 1637.7L864.2 1638.5L870.3 1639.8L873.9 1636.5L878.8 1637.7L883.7 1640.1L888.6 1636L894.8 1632.9L900.4 1632.9L900.4 1645.3L894.8 1647.2L888.6 1650.2L883.7 1651.9L878.8 1650.8L873.9 1650.1L870.3 1652.4L864.2 1651.5L858 1650.2L851.9 1648.2L847 1651.9L840.9 1657.1L834.8 1661.1L831.1 1661.6L827.4 1658.3L821.3 1655.6L815.2 1654.8L810.3 1652.6L804.1 1650.1L798 1648.4L791.9 1648.1L785.8 1643.6L779.6 1640.8L774.7 1640.4L769.8 1638.7L766.2 1642.1L761.3 1649L753.9 1651.5L747.8 1655.3L742.9 1648.3L736.8 1639.5L730.7 1626.5L725.8 1619.7L722.1 1619.6L716 1609L711.1 1599.2L706.2 1594.5L700.8 1586.6L696.4 1576.3L691.5 1565.2L687.8 1561.3L682.9 1564L676.8 1559.5L669.4 1552.3L664.5 1547.2L660.1 1554.2L656.7 1576.1L652.3 1614.2L647.4 1649.5L642.5 1677.4L637.6 1697.1L633.4 1705.6L630.2 1705.4L626.6 1696.9L620.9 1684L616.8 1680.1L610.6 1674.7L603.3 1659.1L598.4 1654.2L591 1646.5L583.7 1638.9L576.8 1634.3L569 1637.7L562.9 1637.6L555.5 1634.2z" fill="#e8a0a8" fill-opacity="0.5" stroke="#c9b0e0" stroke-opacity="0.5" stroke-width="0.6"/><path d="M555.5 1646.6L562.9 1636.8L569 1635.4L576.8 1630.8L582.5 1637.6L588.6 1648.9L594.7 1660.4L599.6 1663.6L603.3 1661.8L609.4 1669.9L615.5 1674.2L620.4 1674.5L625.3 1681.8L630.2 1686.7L633.4 1689.7L637.6 1677.1L642.5 1656.6L647.4 1636.6L651 1625.5L655.9 1620.5L660.1 1620.2L664.5 1605.9L668.9 1597.4L673.1 1600.3L678 1604.9L681.7 1607.2L686.6 1610L693.9 1621.5L701.3 1640.4L707.4 1655.7L713.5 1661.3L720.9 1666.6L728.2 1666.5L734.3 1664.5L739.2 1668.3L743.4 1668.2L747.8 1661.6L751.5 1654.2L756.4 1651.6L762.5 1659.5L769.8 1669.6L776 1674.5L782.1 1685L787 1692.6L790.7 1690.2L795.6 1681.5L800.5 1672.7L806.6 1673.1L813.4 1674.2L818.8 1659.4L825 1644L831.1 1636.9L837.2 1636.8L843.3 1639.9L848.2 1645.3L853.1 1640.5L857.5 1639.8L861.7 1645.8L867.8 1643.6L875.2 1645.7L878.8 1644.4L882.5 1631.7L886.2 1613.2L888.6 1606.1L892.3 1599.3L896.7 1589.9L900.4 1563.6L900.4 1586.1L896.7 1609.5L892.3 1620L888.6 1626.6L886.2 1635.5L882.5 1650.1L878.8 1665.8L875.2 1664.3L867.8 1662.5L861.7 1665L857.5 1657.9L853.1 1660.1L848.2 1663.2L843.3 1656.6L837.2 1655.1L831.1 1656.4L825 1662.4L818.8 1675.8L813.4 1689.9L806.6 1689.3L800.5 1689L795.6 1697.5L790.7 1707.4L787 1707.5L782.1 1701.9L776 1692.3L769.8 1686.4L762.5 1676.3L756.4 1666.7L751.5 1669.9L747.8 1678.1L743.4 1684.1L739.2 1684.8L734.3 1681.3L728.2 1684.1L720.9 1685L713.5 1680.3L707.4 1673.4L701.3 1656.5L693.9 1638.2L686.6 1627.5L681.7 1626L678 1623.9L673.1 1619.8L668.9 1616.1L664.5 1626.8L660.1 1639.3L655.9 1641L651 1647.8L647.4 1655.4L642.5 1679.9L637.6 1697.8L633.4 1710.7L630.2 1707.8L625.3 1702.7L620.4 1697.7L615.5 1696.4L609.4 1693L603.3 1685.4L599.6 1685.7L594.7 1685.7L588.6 1673.7L582.5 1659.8L576.8 1652L569 1657L562.9 1660L555.5 1670.3z" fill="#a8d8a4" fill-opacity="0.5" stroke="#9fd89c" stroke-opacity="0.5" stroke-width="0.6"/><path d="M555.5 1627.8L562.9 1631.5L569 1632L576.8 1628.5L583.7 1632.7L591 1640L598.4 1647.4L603.3 1652.3L610.6 1668.2L616.8 1674.3L620.9 1676.8L626.6 1690.3L630.2 1698.8L633.4 1699.6L637.6 1690.3L642.5 1670.7L647.4 1643.7L652.3 1607L656.7 1570.2L660.1 1547L664.5 1541.3L669.4 1545.7L676.8 1552.6L682.9 1556.8L687.8 1555.5L691.5 1558L696.4 1570.2L700.8 1580L706.2 1587.4L711.1 1593.5L716 1602.1L722.1 1612.4L725.8 1613.8L730.7 1619.2L736.8 1632.7L742.9 1642.5L747.8 1648.6L753.9 1644.2L761.3 1641.8L766.2 1636.4L769.8 1631.5L774.7 1634.4L779.6 1634.4L785.8 1636.4L791.9 1641.3L798 1642.5L804.1 1644.2L810.3 1645.7L815.2 1648.1L821.3 1649.8L827.4 1652.3L831.1 1654.7L834.8 1654.7L840.9 1649.8L847 1644.9L851.9 1642.5L858 1643.7L864.2 1644.2L870.3 1645.7L873.9 1643.7L878.8 1643.7L883.7 1646.2L888.6 1643.2L894.8 1640L900.4 1639.3" fill="none" stroke="#4b2a86" stroke-width="1.5" stroke-linejoin="round"/><path d="M555.5 1657.2L562.9 1647.4L569 1646.2L576.8 1641.3L582.5 1648.6L588.6 1660.9L594.7 1673.1L599.6 1675.6L603.3 1672.6L609.4 1681.7L615.5 1686.6L620.4 1685.8L625.3 1691.5L630.2 1698.1L633.4 1699.6L637.6 1687.8L642.5 1668.2L647.4 1646.2L651 1636.4L655.9 1631.5L660.1 1629L664.5 1616.8L668.9 1607L673.1 1609.4L678 1615.5L681.7 1615.5L686.6 1619.2L693.9 1630.2L701.3 1648.6L707.4 1664.5L713.5 1670.7L720.9 1675.6L728.2 1675.1L734.3 1673.6L739.2 1676.8L743.4 1675.6L747.8 1670.7L751.5 1661.3L756.4 1659.6L762.5 1668.2L769.8 1678L776 1683.4L782.1 1693.9L787 1700L790.7 1698.8L795.6 1690.3L800.5 1680L806.6 1680.5L813.4 1681.7L818.8 1668.2L825 1653.5L831.1 1646.7L837.2 1646.2L843.3 1648.6L848.2 1653.5L853.1 1650.6L857.5 1649.1L861.7 1654.7L867.8 1653.5L875.2 1655.5L878.8 1654.7L882.5 1641.3L886.2 1624.1L888.6 1616.8L892.3 1609.4L896.7 1599.6L900.4 1575.1" fill="none" stroke="#4a9a4c" stroke-width="1.5" stroke-linejoin="round"/><path d="M551.1 1481.2V1766.8H900.4" fill="none" stroke="#222" stroke-width="1.4"/><path d="M551.1 1481.2h4M551.1 1528.8h4M551.1 1576.2h4M551.1 1623.6h4M551.1 1671h4M551.1 1718.4h4M634.4 1766.8v-4M723.3 1766.8v-4M809.8 1766.8v-4M899.9 1766.8v-4" stroke="#222" stroke-width="1.2" fill="none"/><text transform="translate(545.5 1806.6) scale(1 1.05)" font-size="32" fill="#222" text-anchor="middle">-1</text><text transform="translate(635 1806.6) scale(1 1.05)" font-size="32" fill="#222" text-anchor="middle">0</text><text transform="translate(724 1806.6) scale(1 1.05)" font-size="32" fill="#222" text-anchor="middle">1</text><text transform="translate(811 1806.6) scale(1 1.05)" font-size="32" fill="#222" text-anchor="middle">2</text><text transform="translate(897 1806.6) scale(1 1.05)" font-size="32" fill="#222" text-anchor="middle">3</text><text x="899.7" y="1496.7" font-size="27.2" fill="#4b2a86" text-anchor="end">Low Freq. Veh</text><text x="899.7" y="1528.6" font-size="27.2" fill="#4a9a4c" text-anchor="end">CNO</text><path d="M1041 1483V1766.5" stroke="#cfcfcf" stroke-width="1.2"/><path d="M960.6 1595.6L966.7 1598.5L971.6 1606.9L977.8 1624.3L982.7 1640.8L987.6 1642.2L992.5 1637.8L999.8 1624L1005.9 1631.1L1012.1 1637.1L1017 1639.4L1021.9 1632.1L1025.5 1640.7L1030.4 1656.9L1035.3 1664.5L1040.2 1672.3L1043.4 1679.9L1047.6 1672.1L1051.2 1649L1054.9 1605.8L1058.6 1566.3L1061 1538.4L1065.5 1521L1069.6 1519.8L1073.3 1537.5L1078.2 1552.7L1083.1 1561.4L1088 1569.2L1092.9 1577L1096.6 1584.5L1101.5 1606.2L1106.4 1622.9L1111.3 1634.1L1116.2 1640.5L1122.3 1644.2L1127.2 1654.6L1131.3 1661.9L1135.8 1664.9L1140.7 1668.7L1144.3 1672.9L1148 1663L1152.9 1642.8L1157.8 1618.2L1161.5 1598.8L1166.4 1594.3L1172.5 1594.9L1174.9 1594.1L1179.8 1604.8L1183.5 1607.5L1187.2 1592L1192.1 1587.1L1197 1593.4L1201.9 1596.7L1206.8 1603.4L1210.5 1600.9L1215.4 1606.5L1219 1615.5L1223.9 1615.7L1227.6 1625.6L1232.5 1640.7L1236.2 1646.3L1241.1 1648.3L1244.8 1645L1249.7 1650.1L1253.3 1641.7L1258.2 1626.6L1261.9 1625.8L1266.8 1624L1271.7 1628.5L1275.4 1634.3L1280.3 1623.4L1283.9 1614.8L1287.6 1618.9L1292.5 1629.4L1297.4 1632.9L1301.8 1630.2L1306.5 1618.4L1306.5 1642.6L1301.8 1654.5L1297.4 1656.2L1292.5 1653.2L1287.6 1644.8L1283.9 1636.6L1280.3 1649.8L1275.4 1655.8L1271.7 1655L1266.8 1648L1261.9 1647.7L1258.2 1652.5L1253.3 1664.2L1249.7 1675.2L1244.8 1669L1241.1 1672.3L1236.2 1669.8L1232.5 1665.6L1227.6 1647.9L1223.9 1641.8L1219 1638.9L1215.4 1631.2L1210.5 1626.9L1206.8 1625.5L1201.9 1623.3L1197 1616.5L1192.1 1609.9L1187.2 1617.3L1183.5 1630.7L1179.8 1629L1174.9 1618.3L1172.5 1618.1L1166.4 1617.5L1161.5 1624.9L1157.8 1639.8L1152.9 1668.3L1148 1688.3L1144.3 1695.7L1140.7 1693.8L1135.8 1686.4L1131.3 1687.7L1127.2 1677.6L1122.3 1667.9L1116.2 1664.6L1111.3 1658L1106.4 1648.1L1101.5 1628.9L1096.6 1608.1L1092.9 1601.5L1088 1590.7L1083.1 1587.9L1078.2 1577.2L1073.3 1559.5L1069.6 1546.3L1065.5 1543.7L1061 1564.2L1058.6 1590.3L1054.9 1631.1L1051.2 1674.3L1047.6 1696.9L1043.4 1707L1040.2 1696.9L1035.3 1693.2L1030.4 1683.5L1025.5 1665.8L1021.9 1662.8L1017 1665L1012.1 1667.5L1005.9 1664.3L999.8 1657L992.5 1671.1L987.6 1676.4L982.7 1674.7L977.8 1657.9L971.6 1643.9L966.7 1636.5L960.6 1629.6z" fill="#e8a0a8" fill-opacity="0.5" stroke="#c9b0e0" stroke-opacity="0.5" stroke-width="0.6"/><path d="M960.6 1636.6L964.8 1626.4L969.2 1635.5L974.1 1650L979 1658L985.1 1663.7L990 1665.8L994.9 1669.5L1001 1668.8L1007.2 1665.5L1013.3 1658.8L1018.2 1655L1022.6 1649.3L1026.8 1647.3L1031.7 1659.2L1037.8 1670.8L1043.4 1675.4L1048.8 1670.2L1052.5 1659.3L1056.1 1633.8L1059.8 1612.4L1064.7 1599.7L1069.6 1593L1074.5 1598.9L1079.4 1605.9L1083.1 1605L1086.8 1618.1L1091.7 1628.3L1096.6 1628.7L1101.5 1629.8L1106.4 1636.3L1112.5 1642.9L1119.8 1649.4L1124.7 1653.9L1129.6 1668.7L1135.8 1680.5L1143.1 1688.8L1148 1687.5L1152.9 1689.5L1157.8 1700.3L1165.6 1709.8L1170 1707.6L1174.9 1706.2L1179.8 1709.2L1184.7 1719.6L1189.2 1725.3L1192.1 1725.4L1197 1728.5L1200.7 1721.5L1204.3 1706.2L1209.2 1682.4L1214.1 1666.8L1219 1657.4L1223.9 1643.8L1226.9 1637.4L1230.1 1637L1236.2 1645.3L1241.1 1651.8L1246 1655.1L1249.7 1657.7L1253.3 1668.3L1259.5 1669.4L1266.8 1675.4L1270.5 1672.5L1274.2 1664.6L1279.1 1648.1L1283.9 1638.6L1287.6 1635.4L1292.5 1639.2L1297.4 1642.8L1302.3 1651.2L1306.5 1659.6L1306.5 1678.5L1302.3 1670.3L1297.4 1661.1L1292.5 1659.2L1287.6 1654.6L1283.9 1657.4L1279.1 1669L1274.2 1681.7L1270.5 1693.4L1266.8 1692.5L1259.5 1686.9L1253.3 1686.2L1249.7 1677.6L1246 1673.7L1241.1 1670.9L1236.2 1664.4L1230.1 1657.1L1226.9 1654.9L1223.9 1664.1L1219 1674.5L1214.1 1686.3L1209.2 1703L1204.3 1723.1L1200.7 1742.5L1197 1745.7L1192.1 1744.9L1189.2 1743.3L1184.7 1738.9L1179.8 1728.3L1174.9 1725.5L1170 1726.2L1165.6 1728.6L1157.8 1718.3L1152.9 1710.6L1148 1705.3L1143.1 1706.8L1135.8 1698.7L1129.6 1688.6L1124.7 1673.3L1119.8 1667.8L1112.5 1662.2L1106.4 1655.6L1101.5 1647.4L1096.6 1649L1091.7 1647.7L1086.8 1634.9L1083.1 1626.1L1079.4 1622.9L1074.5 1619.5L1069.6 1612.1L1064.7 1617.5L1059.8 1632.1L1056.1 1652.4L1052.5 1678.3L1048.8 1689.6L1043.4 1694.8L1037.8 1688.4L1031.7 1676.6L1026.8 1668.3L1022.6 1666.7L1018.2 1674.4L1013.3 1679.5L1007.2 1684.2L1001 1686.6L994.9 1688.1L990 1684.8L985.1 1682.9L979 1678.1L974.1 1668.4L969.2 1653.4L964.8 1647.5L960.6 1653.3z" fill="#a8d8a4" fill-opacity="0.5" stroke="#9fd89c" stroke-opacity="0.5" stroke-width="0.6"/><path d="M960.6 1612.4L966.7 1616.8L971.6 1626.6L977.8 1642.5L982.7 1656L987.6 1659.6L992.5 1656L999.8 1641.8L1005.9 1647.4L1012.1 1651.5L1017 1652.3L1021.9 1647.4L1025.5 1653.5L1030.4 1669.4L1035.3 1679.2L1040.2 1685.4L1043.4 1693.2L1047.6 1685.4L1051.2 1660.9L1054.9 1619.2L1058.6 1577.6L1061 1550.6L1065.5 1532.3L1069.6 1533.5L1073.3 1548.2L1078.2 1565.3L1083.1 1574.6L1088 1580L1092.9 1588.6L1096.6 1597.2L1101.5 1616.8L1106.4 1635.1L1111.3 1647.4L1116.2 1651.5L1122.3 1654.7L1127.2 1667L1131.3 1674.3L1135.8 1675.6L1140.7 1681.7L1144.3 1684.1L1148 1675.6L1152.9 1656L1157.8 1629L1161.5 1611.9L1166.4 1607L1172.5 1606.5L1174.9 1607.5L1179.8 1616.8L1183.5 1619.2L1187.2 1604.5L1192.1 1597.7L1197 1605.7L1201.9 1609.9L1206.8 1614.3L1210.5 1613.8L1215.4 1619.2L1219 1626.6L1223.9 1629L1227.6 1636.4L1232.5 1652.3L1236.2 1658.9L1241.1 1658.9L1244.8 1658.4L1249.7 1662.1L1253.3 1653.5L1258.2 1640L1261.9 1636.4L1266.8 1636.4L1271.7 1641.8L1275.4 1644.9L1280.3 1636.4L1283.9 1626.1L1287.6 1631.5L1292.5 1642.5L1297.4 1643.7L1301.8 1642.5L1306.5 1631.5" fill="none" stroke="#4b2a86" stroke-width="1.5" stroke-linejoin="round"/><path d="M960.6 1644.9L964.8 1636.9L969.2 1644.9L974.1 1658.4L979 1668.2L985.1 1674.3L990 1675.1L994.9 1678L1001 1678L1007.2 1675.6L1013.3 1669.4L1018.2 1664.5L1022.6 1657.9L1026.8 1657.9L1031.7 1668.2L1037.8 1679.2L1043.4 1684.1L1048.8 1680.5L1052.5 1668.2L1056.1 1643.7L1059.8 1621.7L1064.7 1608.2L1069.6 1603.3L1074.5 1608.9L1079.4 1614.3L1083.1 1615.5L1086.8 1626.6L1091.7 1637.6L1096.6 1639.3L1101.5 1638.8L1106.4 1644.9L1112.5 1652.3L1119.8 1658.4L1124.7 1664.5L1129.6 1678L1135.8 1689L1143.1 1697.6L1148 1696.4L1152.9 1700L1157.8 1709.8L1165.6 1720.1L1170 1716L1174.9 1716L1179.8 1719.6L1184.7 1728.2L1189.2 1734.8L1192.1 1734.3L1197 1737.3L1200.7 1731.9L1204.3 1714.7L1209.2 1692.7L1214.1 1676.8L1219 1665.8L1223.9 1653.5L1226.9 1646.2L1230.1 1647.4L1236.2 1656L1241.1 1660.9L1246 1663.8L1249.7 1668.2L1253.3 1676.8L1259.5 1678.5L1266.8 1684.1L1270.5 1682.9L1274.2 1673.1L1279.1 1658.4L1283.9 1648.6L1287.6 1644.2L1292.5 1649.8L1297.4 1652.3L1302.3 1659.6L1306.5 1670.2" fill="none" stroke="#4a9a4c" stroke-width="1.5" stroke-linejoin="round"/><path d="M955.7 1481.2V1766.8H1306.5" fill="none" stroke="#222" stroke-width="1.4"/><path d="M955.7 1481.2h4M955.7 1528.8h4M955.7 1576.2h4M955.7 1623.6h4M955.7 1671h4M955.7 1718.4h4M1041 1766.8v-4M1128.4 1766.8v-4M1215.4 1766.8v-4M1306 1766.8v-4" stroke="#222" stroke-width="1.2" fill="none"/><text transform="translate(949.5 1806.6) scale(1 1.05)" font-size="32" fill="#222" text-anchor="middle">-1</text><text transform="translate(1042 1806.6) scale(1 1.05)" font-size="32" fill="#222" text-anchor="middle">0</text><text transform="translate(1129 1806.6) scale(1 1.05)" font-size="32" fill="#222" text-anchor="middle">1</text><text transform="translate(1216 1806.6) scale(1 1.05)" font-size="32" fill="#222" text-anchor="middle">2</text><text transform="translate(1303 1806.6) scale(1 1.05)" font-size="32" fill="#222" text-anchor="middle">3</text><text x="1292.5" y="1491.8" font-size="27.2" fill="#4b2a86" text-anchor="end">1 Evidence Veh</text><text x="1292.5" y="1524.9" font-size="27.2" fill="#4a9a4c" text-anchor="end">CNO</text><path d="M1466.5 1483V1766.5" stroke="#cfcfcf" stroke-width="1.2"/><path d="M1385.5 1601L1391.1 1611.7L1397.2 1623L1404.6 1632.6L1410.7 1638.1L1418 1643.9L1422.9 1646.6L1429.1 1643.4L1434 1634.2L1438.9 1626.9L1443 1631.2L1447.4 1642.5L1452.3 1655.5L1457.2 1666.7L1460.4 1670.6L1465.8 1672.7L1469.5 1665.5L1473.1 1653.2L1476.8 1631.6L1481.2 1600.8L1485.4 1568.8L1490.3 1533L1495.2 1515.1L1499.4 1522.2L1503.8 1530.1L1508.7 1539.9L1513.6 1558.9L1518 1570.8L1521.4 1574.2L1525.8 1585.1L1530.7 1593.3L1534.4 1612.8L1538.1 1630.1L1543 1642.2L1548.3 1645.2L1554 1643.7L1557.7 1645.1L1562.6 1655.6L1566.2 1660.2L1570.4 1660.6L1573.6 1650.1L1578.5 1637.9L1583.4 1634.8L1589.5 1635.3L1596.8 1636.1L1603 1636.4L1610.3 1640.9L1615.2 1638.2L1620.1 1641.8L1625 1652.1L1629.9 1659.2L1636 1663.3L1640.9 1667.7L1645.8 1673.6L1650.2 1674.5L1654.4 1674.3L1658.1 1670.5L1663 1668.1L1667.9 1663.8L1674 1652L1679.6 1641.7L1683.8 1640L1688.7 1645.5L1693.6 1650.3L1700.9 1653.8L1705.8 1651.1L1710.7 1644.4L1714.4 1637.9L1719.3 1631.3L1724.2 1630.9L1727.9 1630.1L1733.3 1634.5L1733.3 1655.2L1727.9 1651.2L1724.2 1649.6L1719.3 1653.5L1714.4 1657.1L1710.7 1665.2L1705.8 1672.5L1700.9 1671.7L1693.6 1668.8L1688.7 1665.9L1683.8 1660.1L1679.6 1661.8L1674 1671.6L1667.9 1682.3L1663 1689.1L1658.1 1691.4L1654.4 1693.4L1650.2 1696.2L1645.8 1691.3L1640.9 1689.1L1636 1683.9L1629.9 1678.2L1625 1671.8L1620.1 1662.1L1615.2 1658.4L1610.3 1661L1603 1656.7L1596.8 1654.4L1589.5 1653.3L1583.4 1652.7L1578.5 1659.8L1573.6 1670.1L1570.4 1681.3L1566.2 1680.1L1562.6 1675.7L1557.7 1665.4L1554 1663.8L1548.3 1664.8L1543 1661.1L1538.1 1651.9L1534.4 1630.9L1530.7 1615.5L1525.8 1604.6L1521.4 1593.4L1518 1591.1L1513.6 1577.5L1508.7 1561.6L1503.8 1549.7L1499.4 1542L1495.2 1535.3L1490.3 1553.3L1485.4 1588.4L1481.2 1620.9L1476.8 1652.4L1473.1 1672.2L1469.5 1686.5L1465.8 1691.6L1460.4 1692.8L1457.2 1684.4L1452.3 1676.8L1447.4 1663.2L1443 1649.9L1438.9 1648L1434 1653.9L1429.1 1663.4L1422.9 1666L1418 1663.6L1410.7 1657.7L1404.6 1654.3L1397.2 1644.9L1391.1 1633.8L1385.5 1620.4z" fill="#e8a0a8" fill-opacity="0.5" stroke="#c9b0e0" stroke-opacity="0.5" stroke-width="0.6"/><path d="M1385.5 1611.4L1389.9 1619.5L1397.2 1626.9L1403.3 1636.8L1409.5 1644.7L1415.6 1649.1L1422.9 1649.5L1429.1 1655.6L1435.2 1652.1L1441.3 1648.6L1446.9 1646.5L1452.3 1656.3L1457.2 1665.7L1462.1 1671.3L1465.8 1672.5L1469.5 1677.2L1473.9 1673.9L1478 1665.3L1482.9 1640.6L1487.1 1619.6L1491.5 1613.6L1496.4 1624.2L1502.5 1637L1508.7 1647.7L1513.6 1653.1L1518.5 1647.1L1523.4 1633.2L1528.3 1625L1531.2 1620.9L1535.6 1622.3L1540.5 1627.6L1544.2 1629.5L1549.1 1630.5L1555.2 1633.7L1561.3 1639.1L1566.2 1652.4L1572.4 1660.2L1578.5 1667.3L1583.4 1669.3L1588.3 1668.4L1593.2 1670L1599.3 1680.7L1605.4 1688.9L1610.3 1689.5L1615.2 1686.8L1620.1 1678.3L1625 1674.4L1631.1 1671.7L1637.3 1665.5L1644.6 1654.6L1649.5 1640.9L1654.4 1629.5L1659.3 1625.1L1664.2 1620.8L1670.3 1620.5L1676.5 1623.2L1682.6 1625.7L1688.7 1625.1L1693.6 1631.3L1698.5 1635.4L1705.8 1635.2L1710.7 1640.4L1715.6 1642.6L1721.8 1643.6L1726.7 1646.1L1733.3 1651.5L1733.3 1669.5L1726.7 1664.3L1721.8 1658.8L1715.6 1658.3L1710.7 1659.3L1705.8 1651.6L1698.5 1651.8L1693.6 1647.6L1688.7 1642.9L1682.6 1642.8L1676.5 1640.4L1670.3 1638.5L1664.2 1638.5L1659.3 1640.3L1654.4 1647.7L1649.5 1658.8L1644.6 1669.6L1637.3 1680.9L1631.1 1688.3L1625 1691.9L1620.1 1695.4L1615.2 1704.1L1610.3 1706L1605.4 1705.7L1599.3 1699L1593.2 1688.7L1588.3 1683.8L1583.4 1686.1L1578.5 1685.9L1572.4 1677.3L1566.2 1668.5L1561.3 1656.1L1555.2 1650.7L1549.1 1647L1544.2 1647.4L1540.5 1643.3L1535.6 1639.5L1531.2 1638.8L1528.3 1642.4L1523.4 1651.7L1518.5 1662.2L1513.6 1670.6L1508.7 1665.7L1502.5 1653.7L1496.4 1640.8L1491.5 1630.6L1487.1 1636.5L1482.9 1658.1L1478 1681L1473.9 1692.3L1469.5 1693.3L1465.8 1690.4L1462.1 1687.3L1457.2 1681.8L1452.3 1675.2L1446.9 1663.2L1441.3 1664.5L1435.2 1668.9L1429.1 1672.6L1422.9 1665.9L1415.6 1664.9L1409.5 1661.3L1403.3 1655.2L1397.2 1645.8L1389.9 1638.2L1385.5 1626.8z" fill="#a8d8a4" fill-opacity="0.5" stroke="#9fd89c" stroke-opacity="0.5" stroke-width="0.6"/><path d="M1385.5 1611.4L1391.1 1622.9L1397.2 1633.9L1404.6 1643.7L1410.7 1648.6L1418 1654.7L1422.9 1655.5L1429.1 1652.3L1434 1644.9L1438.9 1637.6L1443 1640L1447.4 1653.5L1452.3 1665.8L1457.2 1675.6L1460.4 1681.7L1465.8 1682.4L1469.5 1675.6L1473.1 1663.3L1476.8 1641.3L1481.2 1611.9L1485.4 1577.6L1490.3 1543.3L1495.2 1526.1L1499.4 1531L1503.8 1540.8L1508.7 1550.6L1513.6 1567.8L1518 1581.2L1521.4 1583.7L1525.8 1594.7L1530.7 1604.5L1534.4 1621.7L1538.1 1641.3L1543 1652.3L1548.3 1654L1554 1653L1557.7 1656L1562.6 1664.5L1566.2 1671.1L1570.4 1670.2L1573.6 1660.9L1578.5 1648.6L1583.4 1643.7L1589.5 1644.2L1596.8 1644.9L1603 1645.7L1610.3 1649.8L1615.2 1649.1L1620.1 1652.3L1625 1660.9L1629.9 1669.4L1636 1674.3L1640.9 1678L1645.8 1682.4L1650.2 1685.4L1654.4 1684.1L1658.1 1680.5L1663 1679.2L1667.9 1673.1L1674 1660.9L1679.6 1651.1L1683.8 1651.1L1688.7 1654.7L1693.6 1659.6L1700.9 1662.8L1705.8 1662.1L1710.7 1654.7L1714.4 1647.4L1719.3 1642.5L1724.2 1640.8L1727.9 1640L1733.3 1645.7" fill="none" stroke="#4b2a86" stroke-width="1.5" stroke-linejoin="round"/><path d="M1385.5 1619.2L1389.9 1629L1397.2 1636.4L1403.3 1646.2L1409.5 1653.5L1415.6 1657.2L1422.9 1657.9L1429.1 1663.3L1435.2 1659.6L1441.3 1656.4L1446.9 1655.5L1452.3 1665.8L1457.2 1673.6L1462.1 1679.2L1465.8 1681.7L1469.5 1684.9L1473.9 1683.4L1478 1673.1L1482.9 1648.6L1487.1 1629L1491.5 1621.2L1496.4 1632.7L1502.5 1646.2L1508.7 1657.2L1513.6 1661.3L1518.5 1654.7L1523.4 1642.5L1528.3 1633.9L1531.2 1629.5L1535.6 1631.5L1540.5 1635.1L1544.2 1638.8L1549.1 1639.3L1555.2 1641.8L1561.3 1646.7L1566.2 1660.9L1572.4 1669.4L1578.5 1676.8L1583.4 1677.5L1588.3 1676L1593.2 1679.2L1599.3 1690.3L1605.4 1698.1L1610.3 1697.1L1615.2 1695.2L1620.1 1687.8L1625 1682.4L1631.1 1679.2L1637.3 1673.1L1644.6 1662.1L1649.5 1649.8L1654.4 1638.8L1659.3 1632.7L1664.2 1629L1670.3 1629.5L1676.5 1632.7L1682.6 1635.1L1688.7 1633.9L1693.6 1638.8L1698.5 1644.2L1705.8 1643.7L1710.7 1649.8L1715.6 1650.6L1721.8 1651.1L1726.7 1654.7L1733.3 1660.4" fill="none" stroke="#4a9a4c" stroke-width="1.5" stroke-linejoin="round"/><path d="M1377.6 1481.2V1766.8H1733.3" fill="none" stroke="#222" stroke-width="1.4"/><path d="M1377.6 1481.2h4M1377.6 1528.8h4M1377.6 1576.2h4M1377.6 1623.6h4M1377.6 1671h4M1377.6 1718.4h4M1466.5 1766.8v-4M1554.7 1766.8v-4M1642.2 1766.8v-4M1732.8 1766.8v-4" stroke="#222" stroke-width="1.2" fill="none"/><text transform="translate(1373.5 1806.6) scale(1 1.05)" font-size="32" fill="#222" text-anchor="middle">-1</text><text transform="translate(1467 1806.6) scale(1 1.05)" font-size="32" fill="#222" text-anchor="middle">0</text><text transform="translate(1555.5 1806.6) scale(1 1.05)" font-size="32" fill="#222" text-anchor="middle">1</text><text transform="translate(1643 1806.6) scale(1 1.05)" font-size="32" fill="#222" text-anchor="middle">2</text><text transform="translate(1730 1806.6) scale(1 1.05)" font-size="32" fill="#222" text-anchor="middle">3</text><text x="1732.3" y="1491.8" font-size="27.2" fill="#4b2a86" text-anchor="end">0 Evidence Veh</text><text x="1732.3" y="1524.2" font-size="27.2" fill="#4a9a4c" text-anchor="end">CNO</text><text transform="translate(116 1533.5) scale(1 1.19)" font-size="28" fill="#000" text-anchor="end">2.0</text><text transform="translate(116 1628.3) scale(1 1.19)" font-size="28" fill="#000" text-anchor="end">1.0</text><text transform="translate(116 1723.1) scale(1 1.19)" font-size="28" fill="#000" text-anchor="end">0</text><text transform="translate(29.4 1648) rotate(-90)" font-size="36" fill="#222" text-anchor="middle">Neuron Peak</text><text transform="translate(72.6 1645) rotate(-90)" font-size="36" fill="#222" text-anchor="middle">Z-Score&#160;&#160;Δ F/F</text><text x="113" y="1839.5" font-size="30.2" fill="#222">Time From Tone Onset (s)</text><text x="542.9" y="1839.5" font-size="30.2" fill="#222">Time From Tone Onset (s)</text><text x="952" y="1839.5" font-size="30.2" fill="#222">Time From Tone Onset (s)</text><text x="1369.4" y="1839.5" font-size="30.2" fill="#222">Time From Tone Onset (s)</text>
</g>
<g>
<text x="4" y="1940.5" font-size="54" font-weight="bold" fill="#231f20">j</text><text x="612" y="1941.5" font-size="54" font-weight="bold" fill="#231f20">k</text><text x="1221" y="1941.5" font-size="54" font-weight="bold" fill="#231f20">l</text><g fill="#fff" fill-opacity="0" stroke="#000" stroke-width="2.2"><circle cx="299.4" cy="2062.6" r="7"/><circle cx="283.3" cy="2069.2" r="7"/><circle cx="291.4" cy="2121.4" r="7"/><circle cx="291.4" cy="2159.2" r="7"/><circle cx="299.4" cy="2181.3" r="7"/><circle cx="283.3" cy="2185.7" r="7"/><circle cx="267.5" cy="2200.4" r="7"/><circle cx="331.4" cy="2197.8" r="7"/><circle cx="283.3" cy="2207" r="7"/><circle cx="299.4" cy="2206.3" r="7"/><circle cx="315.2" cy="2207" r="7"/><circle cx="235.9" cy="2223.5" r="7"/><circle cx="251.7" cy="2229" r="7"/><circle cx="267.5" cy="2226.1" r="7"/><circle cx="283.3" cy="2228.3" r="7"/><circle cx="315.2" cy="2227.2" r="7"/><circle cx="347.2" cy="2232.7" r="7"/><circle cx="235.9" cy="2239.3" r="7"/><circle cx="299.4" cy="2237.1" r="7"/><circle cx="331.4" cy="2238.2" r="7"/><circle cx="251.7" cy="2246.3" r="7"/><circle cx="347.2" cy="2247.4" r="7"/><circle cx="267.5" cy="2257.7" r="7"/><circle cx="283.3" cy="2257.7" r="7"/><circle cx="299.4" cy="2257.7" r="7"/><circle cx="235.9" cy="2266.5" r="7"/><circle cx="315.2" cy="2265.8" r="7"/><circle cx="331.4" cy="2267.6" r="7"/><circle cx="347.2" cy="2264" r="7"/><circle cx="267.5" cy="2273.1" r="7"/><circle cx="251.7" cy="2277.9" r="7"/><circle cx="299.4" cy="2276.1" r="7"/><circle cx="283.3" cy="2286" r="7"/><circle cx="315.2" cy="2286" r="7"/><circle cx="331.4" cy="2286" r="7"/><circle cx="267.5" cy="2289.7" r="7"/><circle cx="299.4" cy="2294.4" r="7"/><circle cx="259.4" cy="2316.5" r="7"/><circle cx="275.6" cy="2315.8" r="7"/><circle cx="291.4" cy="2316.5" r="7"/><circle cx="307.2" cy="2315.4" r="7"/><circle cx="323.3" cy="2323.8" r="7"/></g><g fill="#fff" fill-opacity="0" stroke="#969696" stroke-width="2.2"><circle cx="478.7" cy="2038" r="7"/><circle cx="478.7" cy="2066.3" r="7"/><circle cx="507" cy="2062.6" r="7"/><circle cx="534.6" cy="2072.2" r="7"/><circle cx="478.7" cy="2082.8" r="7"/><circle cx="451.2" cy="2092" r="7"/><circle cx="467.4" cy="2092" r="7"/><circle cx="507" cy="2091.3" r="7"/><circle cx="478.7" cy="2096.8" r="7"/><circle cx="464.8" cy="2112.2" r="7"/><circle cx="492.3" cy="2112.2" r="7"/><circle cx="507" cy="2112.2" r="7"/><circle cx="534.6" cy="2159.2" r="7"/><circle cx="492.3" cy="2168.4" r="7"/><circle cx="507" cy="2167.7" r="7"/><circle cx="423.3" cy="2179.4" r="7"/><circle cx="435.4" cy="2180.5" r="7"/><circle cx="468.5" cy="2180.5" r="7"/><circle cx="478.7" cy="2181.3" r="7"/><circle cx="534.6" cy="2178.3" r="7"/><circle cx="507" cy="2185" r="7"/><circle cx="451.2" cy="2190.5" r="7"/><circle cx="423.3" cy="2204.4" r="7"/><circle cx="451.2" cy="2217.3" r="7"/><circle cx="462.2" cy="2217.3" r="7"/><circle cx="478.7" cy="2215.5" r="7"/><circle cx="507" cy="2215.5" r="7"/><circle cx="523.6" cy="2216.2" r="7"/><circle cx="478.7" cy="2230.9" r="7"/><circle cx="492.3" cy="2232" r="7"/><circle cx="423.3" cy="2266.5" r="7"/><circle cx="451.2" cy="2268.7" r="7"/><circle cx="478.7" cy="2264.7" r="7"/><circle cx="492.3" cy="2265.8" r="7"/><circle cx="507" cy="2262.1" r="7"/><circle cx="534.6" cy="2266.5" r="7"/><circle cx="478.7" cy="2282.3" r="7"/><circle cx="451.2" cy="2309.1" r="7"/><circle cx="478.7" cy="2304.4" r="7"/><circle cx="507" cy="2305.5" r="7"/></g><path d="M228.5 2239.3H354.6M259.4 2230.9H323.3M259.4 2248.5H323.3M291.4 2230.9V2248.5" stroke="#111" stroke-width="1.6" fill="none"/><path d="M417 2183.5H540.8M447.1 2168.4H510M447.1 2197.8H510M478.7 2168.4V2197.8" stroke="#111" stroke-width="1.6" fill="none"/><path d="M167.2 1994.6V2344.8H604" fill="none" stroke="#111" stroke-width="1.9"/><path d="M167.2 1994.6h13M167.2 2082.1h13M167.2 2169.5h13M167.2 2257h13M167.2 2344.8h13" stroke="#111" stroke-width="1.9" fill="none"/><text x="161" y="2004.6" font-size="28" fill="#000" text-anchor="end">4.0</text><text x="161" y="2092.1" font-size="28" fill="#000" text-anchor="end">3.0</text><text x="161" y="2179.5" font-size="28" fill="#000" text-anchor="end">2.0</text><text x="161" y="2267" font-size="28" fill="#000" text-anchor="end">1.0</text><text x="161" y="2354.8" font-size="28" fill="#000" text-anchor="end">0.0</text><path d="M221.2 2001.2H533.9" stroke="#111" stroke-width="1.9"/><text x="377.3" y="1960.8" font-size="36" fill="#000" text-anchor="middle">Veh</text><text x="378.4" y="1998.7" font-size="45" stroke="#000" stroke-width="0.4" fill="#000" text-anchor="middle">**</text><g fill="#fff" fill-opacity="0" stroke="#000" stroke-width="2.2"><circle cx="905.7" cy="2164" r="7"/><circle cx="889.5" cy="2167.3" r="7"/><circle cx="897.6" cy="2193.4" r="7"/><circle cx="889.5" cy="2208.1" r="7"/><circle cx="905.7" cy="2213.6" r="7"/><circle cx="889.5" cy="2224.6" r="7"/><circle cx="889.5" cy="2247.4" r="7"/><circle cx="921.5" cy="2250.4" r="7"/><circle cx="857.6" cy="2265.1" r="7"/><circle cx="905.7" cy="2262.8" r="7"/><circle cx="937.3" cy="2262.1" r="7"/><circle cx="889.5" cy="2268.7" r="7"/><circle cx="873.7" cy="2273.1" r="7"/><circle cx="857.6" cy="2287.1" r="7"/><circle cx="889.5" cy="2286" r="7"/><circle cx="921.5" cy="2289.7" r="7"/><circle cx="953.5" cy="2287.1" r="7"/><circle cx="873.7" cy="2290.8" r="7"/><circle cx="841.4" cy="2294.1" r="7"/><circle cx="937.3" cy="2294.1" r="7"/><circle cx="905.7" cy="2298.9" r="7"/><circle cx="857.6" cy="2302.5" r="7"/><circle cx="889.5" cy="2302.5" r="7"/><circle cx="953.5" cy="2304.4" r="7"/><circle cx="873.7" cy="2306.2" r="7"/><circle cx="921.5" cy="2306.2" r="7"/><circle cx="937.3" cy="2306.9" r="7"/><circle cx="841.4" cy="2313.6" r="7"/><circle cx="905.7" cy="2315.4" r="7"/><circle cx="857.6" cy="2318" r="7"/><circle cx="889.5" cy="2319.1" r="7"/><circle cx="921.5" cy="2319.1" r="7"/><circle cx="873.7" cy="2320.9" r="7"/><circle cx="937.3" cy="2322.7" r="7"/><circle cx="905.7" cy="2330.1" r="7"/><circle cx="897.6" cy="2344.8" r="7"/></g><g fill="#fff" fill-opacity="0" stroke="#969696" stroke-width="2.2"><circle cx="1085" cy="2051.6" r="7"/><circle cx="1085" cy="2067.4" r="7"/><circle cx="1085" cy="2126.9" r="7"/><circle cx="1085" cy="2191.6" r="7"/><circle cx="1085" cy="2207" r="7"/><circle cx="1093.1" cy="2235.3" r="7"/><circle cx="1076.9" cy="2247.4" r="7"/><circle cx="1108.9" cy="2245.6" r="7"/><circle cx="1061.1" cy="2257.7" r="7"/><circle cx="1093.1" cy="2256.6" r="7"/><circle cx="1076.9" cy="2262.1" r="7"/><circle cx="1108.9" cy="2262.8" r="7"/><circle cx="1093.1" cy="2275" r="7"/><circle cx="1061.1" cy="2276.1" r="7"/><circle cx="1029.1" cy="2279.4" r="7"/><circle cx="1045.3" cy="2281.6" r="7"/><circle cx="1076.9" cy="2278.6" r="7"/><circle cx="1108.9" cy="2287.1" r="7"/><circle cx="1093.1" cy="2292.2" r="7"/><circle cx="1140.8" cy="2292.2" r="7"/><circle cx="1029.1" cy="2300" r="7"/><circle cx="1045.3" cy="2300.7" r="7"/><circle cx="1124.7" cy="2300.7" r="7"/><circle cx="1061.1" cy="2306.2" r="7"/><circle cx="1076.9" cy="2304.4" r="7"/><circle cx="1108.9" cy="2304.4" r="7"/><circle cx="1140.8" cy="2313.6" r="7"/><circle cx="1029.1" cy="2317.2" r="7"/><circle cx="1045.3" cy="2316.5" r="7"/><circle cx="1061.1" cy="2318" r="7"/><circle cx="1093.1" cy="2320.2" r="7"/><circle cx="1108.9" cy="2317.2" r="7"/><circle cx="1124.7" cy="2320.9" r="7"/><circle cx="1076.9" cy="2323.8" r="7"/><circle cx="1045.3" cy="2331.9" r="7"/><circle cx="1108.9" cy="2333.8" r="7"/></g><path d="M835.1 2278.6H960.1M866.4 2272H928.8M866.4 2286H928.8M897.6 2272V2286" stroke="#111" stroke-width="1.6" fill="none"/><path d="M1022.5 2269.5H1147.5M1053.8 2258.4H1116.2M1053.8 2281.2H1116.2M1085 2258.4V2281.2" stroke="#333" stroke-width="1.6" fill="none"/><path d="M772.7 1996.1V2345.9H1212.4" fill="none" stroke="#111" stroke-width="1.9"/><path d="M772.7 1996.1h14M772.7 2066.3h14M772.7 2136.1h14M772.7 2205.9h14M772.7 2276.1h14M772.7 2345.9h14" stroke="#111" stroke-width="1.9" fill="none"/><text x="761.5" y="2006.1" font-size="28" fill="#000" text-anchor="end">2.5</text><text x="761.5" y="2076.3" font-size="28" fill="#000" text-anchor="end">2.0</text><text x="761.5" y="2146.1" font-size="28" fill="#000" text-anchor="end">1.5</text><text x="761.5" y="2215.9" font-size="28" fill="#000" text-anchor="end">1.0</text><text x="761.5" y="2286.1" font-size="28" fill="#000" text-anchor="end">0.5</text><text x="761.5" y="2355.9" font-size="28" fill="#000" text-anchor="end">0.0</text><path d="M827.8 2001.2H1135.3" stroke="#111" stroke-width="1.9"/><text x="977.3" y="1960.1" font-size="36" fill="#000" text-anchor="middle">CNO</text><text x="982.1" y="1987.3" font-size="27" fill="#000" text-anchor="middle">ns</text><rect x="1419.6" y="2273.9" width="100.3" height="72.7" fill="#fff" stroke="#111" stroke-width="1.8"/><rect x="1569.5" y="2201.1" width="100.7" height="145.5" fill="#fff" stroke="#969696" stroke-width="1.8"/><g fill="#fff" fill-opacity="0" stroke="#000" stroke-width="2.2"><circle cx="1469.6" cy="2194.9" r="7"/><circle cx="1448.3" cy="2221.7" r="7"/><circle cx="1491.3" cy="2230.9" r="7"/><circle cx="1469.6" cy="2240.1" r="7"/><circle cx="1448.3" cy="2262.1" r="7"/><circle cx="1469.6" cy="2262.1" r="7"/><circle cx="1491.3" cy="2262.1" r="7"/><circle cx="1448.3" cy="2284.2" r="7"/><circle cx="1491.3" cy="2281.2" r="7"/><circle cx="1427" cy="2289.7" r="7"/><circle cx="1469.6" cy="2290.8" r="7"/><circle cx="1512.6" cy="2289.7" r="7"/><circle cx="1448.3" cy="2304.4" r="7"/><circle cx="1491.3" cy="2304.4" r="7"/><circle cx="1459.3" cy="2338.2" r="7"/><circle cx="1480.2" cy="2338.2" r="7"/></g><g fill="#fff" fill-opacity="0" stroke="#969696" stroke-width="2.2"><circle cx="1606.3" cy="2042.4" r="7"/><circle cx="1633.8" cy="2042.4" r="7"/><circle cx="1619.9" cy="2134.3" r="7"/><circle cx="1647.4" cy="2148.9" r="7"/><circle cx="1619.9" cy="2151.9" r="7"/><circle cx="1591.6" cy="2158.1" r="7"/><circle cx="1647.4" cy="2163.6" r="7"/><circle cx="1619.9" cy="2185" r="7"/><circle cx="1619.9" cy="2200.8" r="7"/><circle cx="1619.9" cy="2217.3" r="7"/><circle cx="1633.8" cy="2273.1" r="7"/><circle cx="1606.3" cy="2278.6" r="7"/><circle cx="1591.6" cy="2300" r="7"/><circle cx="1647.4" cy="2303.6" r="7"/><circle cx="1619.9" cy="2305.5" r="7"/><circle cx="1619.9" cy="2323.8" r="7"/></g><path d="M1444.6 2273.9H1444.6M1444.6 2265.1H1494.9M1444.6 2284.2H1494.9M1469.6 2265.1V2284.2" stroke="#111" stroke-width="1.6" fill="none"/><path d="M1595.2 2201.1H1595.2M1595.2 2179.4H1643.7M1595.2 2224.6H1643.7M1619.9 2179.4V2224.6" stroke="#222" stroke-width="1.6" fill="none"/><path d="M1370 1996.5V2346.6H1722" fill="none" stroke="#111" stroke-width="1.9"/><path d="M1370 1996.5h14M1370 2066.6h14M1370 2136.5h14M1370 2206.3h14M1370 2276.8h14M1370 2346.6h14" stroke="#111" stroke-width="1.9" fill="none"/><text x="1362" y="2006.5" font-size="28" fill="#000" text-anchor="end">2.5</text><text x="1362" y="2076.6" font-size="28" fill="#000" text-anchor="end">2.0</text><text x="1362" y="2146.5" font-size="28" fill="#000" text-anchor="end">1.5</text><text x="1362" y="2216.3" font-size="28" fill="#000" text-anchor="end">1.0</text><text x="1362" y="2286.8" font-size="28" fill="#000" text-anchor="end">0.5</text><text x="1362" y="2356.6" font-size="28" fill="#000" text-anchor="end">0.0</text><path d="M1427 2001.2H1671.7" stroke="#111" stroke-width="1.9"/><text x="1551.2" y="1960.1" font-size="36" fill="#000" text-anchor="middle">Veh - CNO</text><text x="1549.3" y="1998.7" font-size="45" stroke="#000" stroke-width="0.4" fill="#000" text-anchor="middle">*</text><text x="288.4" y="2380.5" font-size="30" fill="#000" text-anchor="middle">+/- 1.0</text><text x="478.7" y="2380.5" font-size="30" fill="#000" text-anchor="middle">0</text><text x="238.8" y="2419" font-size="35.7" fill="#000">Evidence Strength</text><text x="895.8" y="2380.5" font-size="30" fill="#000" text-anchor="middle">+/- 1.0</text><text x="1084.3" y="2380.5" font-size="30" fill="#000" text-anchor="middle">0</text><text x="843.6" y="2419" font-size="35.7" fill="#000">Evidence Strength</text><text x="1470.3" y="2380.5" font-size="30" fill="#000" text-anchor="middle">+/- 1.0</text><text x="1620.2" y="2380.5" font-size="30" fill="#000" text-anchor="middle">0</text><text x="1395" y="2419" font-size="35.7" fill="#000">Evidence Strength</text><text transform="translate(57 2168) rotate(-90)" font-size="36" fill="#222" text-anchor="middle">Neuron Peak Z-Score</text><text transform="translate(100 2157) rotate(-90)" font-size="36" fill="#222" text-anchor="middle">Δ F/F to tone onset</text><text transform="translate(665 2168) rotate(-90)" font-size="36" fill="#222" text-anchor="middle">Neuron Peak Z-Score</text><text transform="translate(708 2159) rotate(-90)" font-size="36" fill="#222" text-anchor="middle">Δ F/F to tone onset</text><text transform="translate(1263.5 2164) rotate(-90)" font-size="36" fill="#222" text-anchor="middle">Change in&#160;&#160;Neuronal</text><text transform="translate(1306 2165) rotate(-90)" font-size="36" fill="#222" text-anchor="middle">Δ F/F induced by CNO</text>
</g>
</svg>
</body></html>
